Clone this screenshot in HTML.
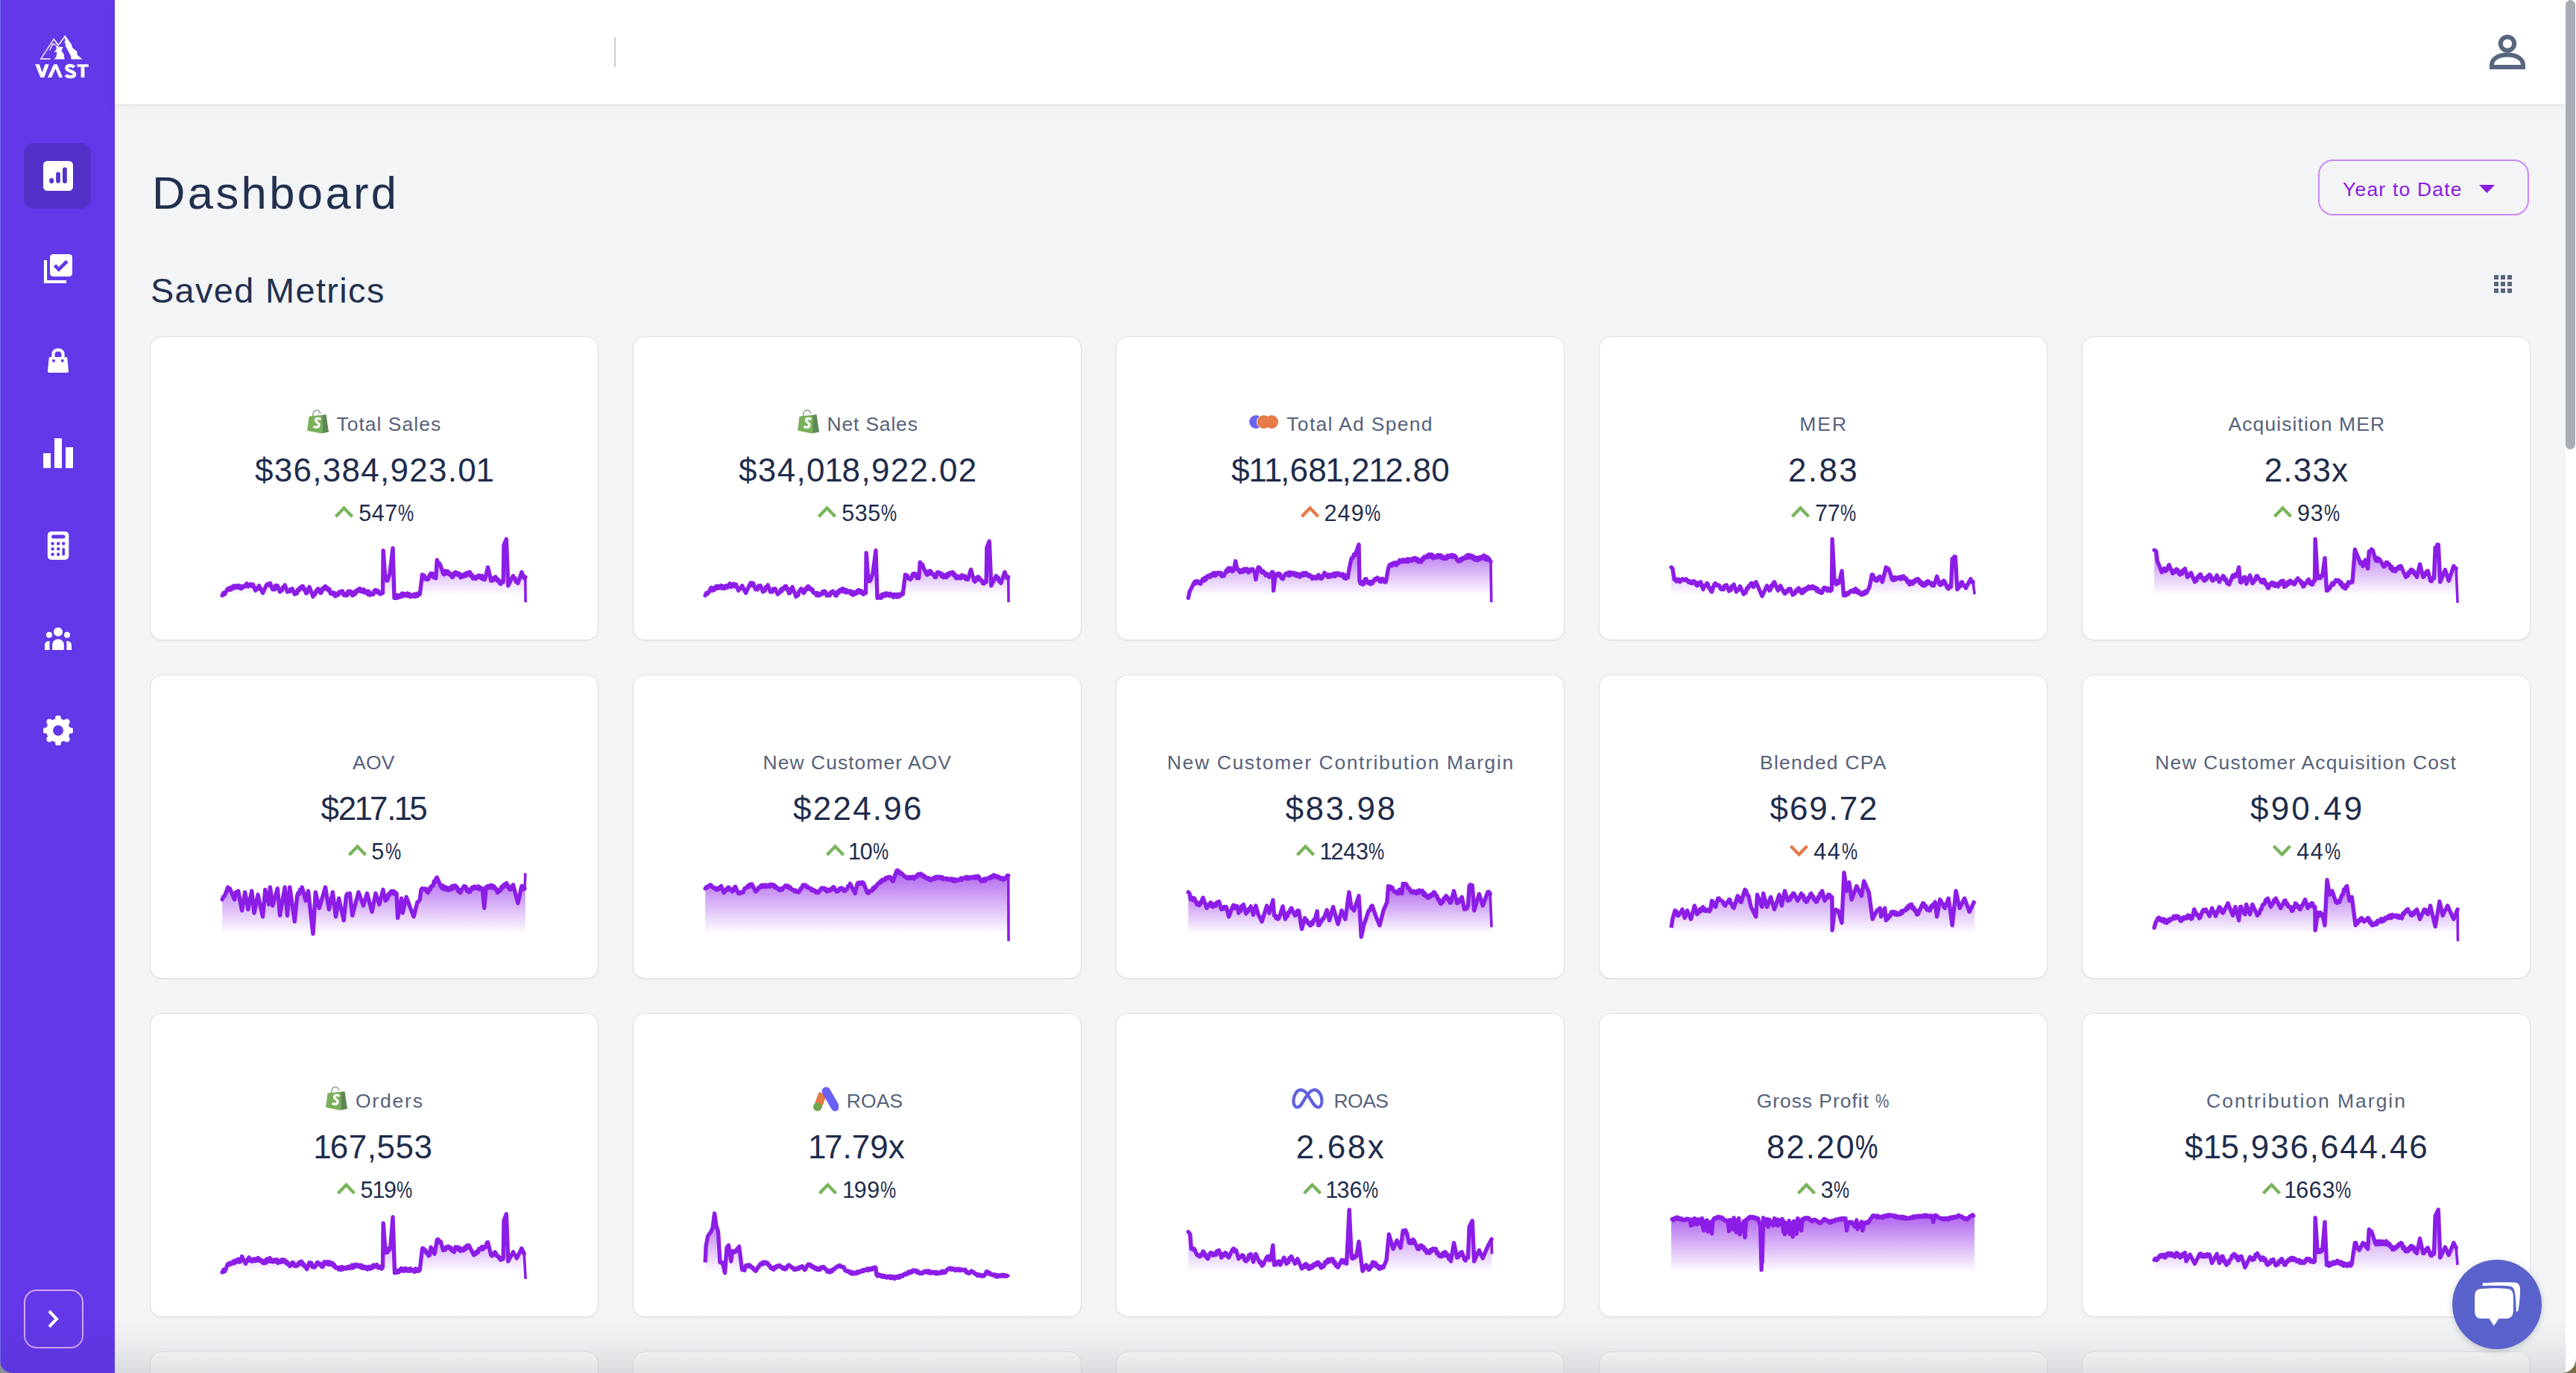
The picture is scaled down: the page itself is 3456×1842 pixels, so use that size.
<!DOCTYPE html><html><head><meta charset="utf-8"><style>
*{box-sizing:border-box;margin:0;padding:0}
html,body{width:3456px;height:1842px;overflow:hidden;background:#f3f4f6;font-family:"Liberation Sans",sans-serif}
.abs{position:absolute}
.sb{position:absolute;left:0;top:0;width:154px;height:1842px;background:#6238e8}
.hdr{position:absolute;left:154px;top:0;width:3288px;height:140px;background:#fff;box-shadow:0 1px 2px rgba(0,0,0,0.08), 0 4px 24px rgba(0,0,0,0.035)}
.card{position:absolute;width:602px;height:408px;background:#fff;border:1.5px solid #dfe1e5;border-radius:16px;box-shadow:0 1px 2px rgba(0,0,0,0.06)}
.row{position:absolute;left:0;width:100%;display:flex;justify-content:center;align-items:center;white-space:nowrap}
.ttl{color:#56627b;font-size:26.5px;letter-spacing:1.2px;line-height:1}
.val{color:#1f2c4c;font-size:44px;letter-spacing:1.05px;line-height:1}
.pct{color:#1f2c4c;font-size:30.5px;letter-spacing:-1px;line-height:1}
</style></head><body>
<div class="sb"></div>
<svg class="abs" style="left:40px;top:40px" width="84" height="70" viewBox="0 0 1648 1373">
<g fill="#fff">
<path d="M265 780 L630 222 L770 400 L745 430 L630 268 L315 752 L540 752 L540 780 Z"/>
<path d="M505 548 L600 350 L700 395 L690 415 L612 385 L525 552 Z"/>
<path d="M760 372 L925 140 L1100 385 L1120 470 L1240 570 L1250 660 L1385 775 L1090 775 L1080 690 L1000 540 L940 430 L935 330 L885 370 L930 290 L920 200 L780 395 Z"/>
<path d="M690 400 L745 440 L880 455 L830 540 L895 640 L915 775 L700 775 L640 775 L700 700 L710 575 L635 595 L700 515 Z"/>
<path d="M140 905 L252 905 L325 1125 L400 905 L505 905 L378 1255 L282 1255 Z"/>
<path d="M470 1255 L632 905 L720 905 L865 1255 L770 1255 L676 1025 L572 1255 Z"/>
<path d="M1245 905 L1545 905 L1545 975 L1440 975 L1440 1255 L1345 1255 L1345 975 L1245 975 Z"/>
</g>
<path d="M1165 985 C1120 930 975 920 968 1010 C962 1095 1175 1075 1178 1170 C1180 1255 1000 1250 945 1190" fill="none" stroke="#fff" stroke-width="88"/>
</svg>
<div class="abs" style="left:32px;top:192px;width:90px;height:88px;border-radius:13px;background:#5331c9"></div>
<svg class="abs" style="left:58px;top:216px" width="40" height="40" viewBox="0 0 40 40"><rect x="0" y="0" width="40" height="40" rx="5.5" fill="#fff"/><path d="M11.2 26 v1" stroke="#5331c9" stroke-width="6" stroke-linecap="round"/><path d="M20 17.5 v9.5" stroke="#5331c9" stroke-width="5.6" stroke-linecap="round"/><path d="M28.9 11.5 v15.5" stroke="#5331c9" stroke-width="5.8" stroke-linecap="round"/></svg>
<svg class="abs" style="left:56px;top:338px" width="44" height="44" viewBox="0 0 44 44"><path d="M5 11 V40 H33" fill="none" stroke="#fff" stroke-width="4.2"/><rect x="11" y="3" width="30" height="30" rx="4.5" fill="#fff"/><path d="M17.5 18 L22.8 23.5 L34 12.5" fill="none" stroke="#6238e8" stroke-width="4.6"/></svg>
<svg class="abs" style="left:62px;top:466px" width="32" height="36" viewBox="0 0 32 36"><path d="M9.5 15 V9 C9.5 1.5 22.5 1.5 22.5 9 V15" fill="none" stroke="#fff" stroke-width="4.2"/><path d="M5 13 H27 Q28 13 28.3 14 L30 32 Q30 34 28 34 H4 Q2 34 2 32 L3.7 14 Q4 13 5 13 Z" fill="#fff"/><circle cx="10" cy="18" r="2" fill="#6238e8"/><circle cx="21.7" cy="18" r="2" fill="#6238e8"/></svg>
<div class="abs" style="left:58px;top:608px;width:10.3px;height:20px;background:#fff"></div><div class="abs" style="left:73px;top:588px;width:10.2px;height:40px;background:#fff"></div><div class="abs" style="left:88px;top:600.3px;width:10.2px;height:27.7px;background:#fff"></div>
<svg class="abs" style="left:63px;top:712px" width="30" height="40" viewBox="0 0 30 40"><rect x="0.8" y="1" width="28.5" height="38" rx="5" fill="#fff"/><rect x="6" y="5.5" width="18.5" height="5" rx="2.5" fill="#6238e8"/><g fill="#6238e8"><circle cx="7.6" cy="17.3" r="2.2"/><circle cx="15.2" cy="17.3" r="2.2"/><circle cx="22.2" cy="17.3" r="2.2"/><circle cx="7.6" cy="24.4" r="2.2"/><circle cx="15.2" cy="24.4" r="2.2"/><circle cx="7.6" cy="31.7" r="2.2"/><circle cx="15.2" cy="31.7" r="2.2"/><rect x="20.4" y="23" width="3.6" height="10.6" rx="1.8"/></g></svg>
<svg class="abs" style="left:58px;top:838px" width="40" height="36" viewBox="0 0 40 36"><g fill="#fff"><circle cx="20" cy="9.7" r="6"/><circle cx="8" cy="13.8" r="4"/><circle cx="32" cy="13.8" r="4"/><path d="M12.2 34 V27 C12.2 17 27.8 17 27.8 27 V34 Z"/><path d="M2 34 V28 C2 24 4.5 22 8.7 22 C8.7 22 8.3 26 8.7 34 Z"/><path d="M38 34 V28 C38 24 35.5 22 31.3 22 C31.3 22 31.7 26 31.3 34 Z"/></g></svg>
<svg class="abs" style="left:58px;top:960px" width="40" height="40" viewBox="0 0 40 40"><g fill="#fff"><circle cx="20" cy="20" r="16"/><circle cx="20.00" cy="3.60" r="4.0"/><circle cx="31.60" cy="8.40" r="4.0"/><circle cx="36.40" cy="20.00" r="4.0"/><circle cx="31.60" cy="31.60" r="4.0"/><circle cx="20.00" cy="36.40" r="4.0"/><circle cx="8.40" cy="31.60" r="4.0"/><circle cx="3.60" cy="20.00" r="4.0"/><circle cx="8.40" cy="8.40" r="4.0"/></g><circle cx="20" cy="20" r="7" fill="#6238e8"/></svg>
<div class="abs" style="left:32px;top:1730px;width:80px;height:79px;border:2px solid #d6a6f4;border-radius:17px"></div>
<svg class="abs" style="left:62px;top:1756px" width="20" height="28" viewBox="0 0 20 28"><path d="M4 3 L14 13.5 L4 24" fill="none" stroke="#fff" stroke-width="4"/></svg>
<div class="hdr"></div>
<div class="abs" style="left:824px;top:50px;width:2px;height:40px;background:#c9cdd2"></div>
<svg class="abs" style="left:3336px;top:42.5px" width="56" height="54" viewBox="0 0 56 54"><circle cx="28" cy="15.6" r="9.2" fill="none" stroke="#5a6680" stroke-width="6"/><path d="M7 47 V44 C7 36 16 30.5 28 30.5 C40 30.5 49 36 49 44 V47 Z" fill="none" stroke="#5a6680" stroke-width="6"/></svg>
<div class="abs" style="left:3442px;top:0;width:14px;height:1842px;background:#fff"></div>
<div class="abs" style="left:3442px;top:0;width:13px;height:603px;background:#a8acb5;border-radius:7px"></div>
<svg class="abs" style="left:3346px;top:369px" width="24" height="24"><g fill="#5a6680"><rect x="0" y="0" width="6" height="6"/><rect x="9" y="0" width="6" height="6"/><rect x="18" y="0" width="6" height="6"/><rect x="0" y="9" width="6" height="6"/><rect x="9" y="9" width="6" height="6"/><rect x="18" y="9" width="6" height="6"/><rect x="0" y="18" width="6" height="6"/><rect x="9" y="18" width="6" height="6"/><rect x="18" y="18" width="6" height="6"/></g></svg>
<div class="abs" style="left:204px;top:227.9px;font-size:61.5px;line-height:1;letter-spacing:3.4px;color:#22304f;white-space:nowrap">Dashboard</div>
<div class="abs" style="left:202px;top:366.9px;font-size:46.8px;line-height:1;letter-spacing:1.4px;color:#22304f;white-space:nowrap">Saved Metrics</div>
<div class="abs" style="left:3110px;top:214px;width:283px;height:75px;border:2px solid #c98af5;border-radius:20px"></div>
<div class="abs" style="left:3143px;top:241.1px;font-size:26.5px;line-height:1;letter-spacing:1.2px;color:#8a1be0;white-space:nowrap">Year to Date</div>
<svg class="abs" style="left:3326px;top:248px" width="21" height="11"><path d="M0 0 L21 0 L10.5 11 Z" fill="#8a1be0"/></svg>
<div class="card" style="left:201px;top:451px">
<div class="abs" style="left:209.7px;top:97px"><svg width="30" height="33" viewBox="7 8 30 33" style="display:block"><path d="M14.6 17 C15 11 17.3 9.3 19.6 9.3 C22 9.3 24 11 24.8 14" fill="none" stroke="#8fa19a" stroke-width="1.6"/><path d="M9.6 17.5 L32.4 15.3 L35.9 38.6 L26.2 40.4 L7.1 36.8 Z" fill="#79b05a"/><path d="M27.7 15.9 L32.4 15.3 L35.9 38.6 L27.9 40.1 Z" fill="#5f8658"/><path d="M25.2 21.8 C23.5 20 18.8 19.8 18.5 22.6 C18.2 25.5 23.2 25.8 23 29.3 C22.8 33 17.8 32.8 15.6 31.2" fill="none" stroke="#fff" stroke-width="3.3"/></svg></div>
<div class="abs ttl" style="left:249.50px;top:103.8px;letter-spacing:1.000px;white-space:nowrap">Total Sales</div>
<div class="abs val" style="left:140.00px;top:156.9px;letter-spacing:1.281px;white-space:nowrap">$36,384,923.0<span style="margin:0 -2.64px 0 -1.58px">1</span></div>
<div class="abs" style="left:245.5px;top:225.0px"><svg width="27" height="20" viewBox="0 0 27 20" style="display:block"><path d="M2.5 16 L13.5 4.5 L24.5 16" fill="none" stroke="#79b45a" stroke-width="4.3" stroke-linecap="butt" stroke-linejoin="miter"/></svg></div>
<div class="abs pct" style="left:279.20px;top:221.2px;letter-spacing:0.600px;white-space:nowrap">547<span style="display:inline-block;transform:scaleX(0.78);transform-origin:0 0;margin-right:-5.97px">%</span></div>
</div>
<div class="card" style="left:849px;top:451px">
<div class="abs" style="left:219.8px;top:97px"><svg width="30" height="33" viewBox="7 8 30 33" style="display:block"><path d="M14.6 17 C15 11 17.3 9.3 19.6 9.3 C22 9.3 24 11 24.8 14" fill="none" stroke="#8fa19a" stroke-width="1.6"/><path d="M9.6 17.5 L32.4 15.3 L35.9 38.6 L26.2 40.4 L7.1 36.8 Z" fill="#79b05a"/><path d="M27.7 15.9 L32.4 15.3 L35.9 38.6 L27.9 40.1 Z" fill="#5f8658"/><path d="M25.2 21.8 C23.5 20 18.8 19.8 18.5 22.6 C18.2 25.5 23.2 25.8 23 29.3 C22.8 33 17.8 32.8 15.6 31.2" fill="none" stroke="#fff" stroke-width="3.3"/></svg></div>
<div class="abs ttl" style="left:259.60px;top:103.8px;letter-spacing:0.800px;white-space:nowrap">Net Sales</div>
<div class="abs val" style="left:141.00px;top:156.9px;letter-spacing:1.358px;white-space:nowrap">$34,0<span style="margin:0 -2.64px 0 -1.58px">1</span>8,922.02</div>
<div class="abs" style="left:245.8px;top:225.0px"><svg width="27" height="20" viewBox="0 0 27 20" style="display:block"><path d="M2.5 16 L13.5 4.5 L24.5 16" fill="none" stroke="#79b45a" stroke-width="4.3" stroke-linecap="butt" stroke-linejoin="miter"/></svg></div>
<div class="abs pct" style="left:279.20px;top:221.2px;letter-spacing:0.533px;white-space:nowrap">535<span style="display:inline-block;transform:scaleX(0.78);transform-origin:0 0;margin-right:-5.97px">%</span></div>
</div>
<div class="card" style="left:1497px;top:451px">
<div class="abs" style="left:177.0px;top:104px"><svg width="40" height="20" viewBox="0 0 40 20" style="display:block"><circle cx="10" cy="10" r="9" fill="#6b62ee"/><circle cx="20.5" cy="10" r="9.3" fill="#e67a48" stroke="#fff" stroke-width="0.8"/><circle cx="31" cy="10" r="9" fill="#e67a48"/></svg></div>
<div class="abs ttl" style="left:228.30px;top:103.8px;letter-spacing:1.308px;white-space:nowrap">Total Ad Spend</div>
<div class="abs val" style="left:154.00px;top:156.9px;letter-spacing:0.281px;white-space:nowrap">$<span style="margin:0 -2.64px 0 -1.58px">1</span><span style="margin:0 -2.64px 0 -1.58px">1</span>,68<span style="margin:0 -2.64px 0 -1.58px">1</span>,2<span style="margin:0 -2.64px 0 -1.58px">1</span>2.80</div>
<div class="abs" style="left:246.2px;top:225.0px"><svg width="27" height="20" viewBox="0 0 27 20" style="display:block"><path d="M2.5 16 L13.5 4.5 L24.5 16" fill="none" stroke="#e8784a" stroke-width="4.3" stroke-linecap="butt" stroke-linejoin="miter"/></svg></div>
<div class="abs pct" style="left:278.40px;top:221.2px;letter-spacing:1.267px;white-space:nowrap">249<span style="display:inline-block;transform:scaleX(0.78);transform-origin:0 0;margin-right:-5.97px">%</span></div>
</div>
<div class="card" style="left:2145px;top:451px">
<div class="abs ttl" style="left:268.20px;top:103.8px;letter-spacing:2.000px;white-space:nowrap">MER</div>
<div class="abs val" style="left:253.00px;top:156.9px;letter-spacing:2.383px;white-space:nowrap">2.83</div>
<div class="abs" style="left:255.5px;top:225.0px"><svg width="27" height="20" viewBox="0 0 27 20" style="display:block"><path d="M2.5 16 L13.5 4.5 L24.5 16" fill="none" stroke="#79b45a" stroke-width="4.3" stroke-linecap="butt" stroke-linejoin="miter"/></svg></div>
<div class="abs pct" style="left:289.00px;top:221.2px;letter-spacing:-0.100px;white-space:nowrap">77<span style="display:inline-block;transform:scaleX(0.78);transform-origin:0 0;margin-right:-5.97px">%</span></div>
</div>
<div class="card" style="left:2793px;top:451px">
<div class="abs ttl" style="left:195.50px;top:103.8px;letter-spacing:1.086px;white-space:nowrap">Acquisition MER</div>
<div class="abs val" style="left:243.70px;top:156.9px;letter-spacing:1.200px;white-space:nowrap">2.33x</div>
<div class="abs" style="left:254.5px;top:225.0px"><svg width="27" height="20" viewBox="0 0 27 20" style="display:block"><path d="M2.5 16 L13.5 4.5 L24.5 16" fill="none" stroke="#79b45a" stroke-width="4.3" stroke-linecap="butt" stroke-linejoin="miter"/></svg></div>
<div class="abs pct" style="left:288.00px;top:221.2px;letter-spacing:0.800px;white-space:nowrap">93<span style="display:inline-block;transform:scaleX(0.78);transform-origin:0 0;margin-right:-5.97px">%</span></div>
</div>
<div class="card" style="left:201px;top:905px">
<div class="abs ttl" style="left:271.10px;top:103.8px;letter-spacing:0.200px;white-space:nowrap">AOV</div>
<div class="abs val" style="left:228.60px;top:156.9px;letter-spacing:-1.283px;white-space:nowrap">$2<span style="margin:0 -2.64px 0 -1.58px">1</span>7.<span style="margin:0 -2.64px 0 -1.58px">1</span>5</div>
<div class="abs" style="left:263.8px;top:225.0px"><svg width="27" height="20" viewBox="0 0 27 20" style="display:block"><path d="M2.5 16 L13.5 4.5 L24.5 16" fill="none" stroke="#79b45a" stroke-width="4.3" stroke-linecap="butt" stroke-linejoin="miter"/></svg></div>
<div class="abs pct" style="left:296.20px;top:221.2px;letter-spacing:1.400px;white-space:nowrap">5<span style="display:inline-block;transform:scaleX(0.78);transform-origin:0 0;margin-right:-5.97px">%</span></div>
</div>
<div class="card" style="left:849px;top:905px">
<div class="abs ttl" style="left:173.60px;top:103.8px;letter-spacing:1.013px;white-space:nowrap">New Customer AOV</div>
<div class="abs val" style="left:214.10px;top:156.9px;letter-spacing:2.217px;white-space:nowrap">$224.96</div>
<div class="abs" style="left:256.5px;top:225.0px"><svg width="27" height="20" viewBox="0 0 27 20" style="display:block"><path d="M2.5 16 L13.5 4.5 L24.5 16" fill="none" stroke="#79b45a" stroke-width="4.3" stroke-linecap="butt" stroke-linejoin="miter"/></svg></div>
<div class="abs pct" style="left:289.00px;top:221.2px;letter-spacing:0.700px;white-space:nowrap"><span style="margin:0 -1.83px 0 -1.10px">1</span>0<span style="display:inline-block;transform:scaleX(0.78);transform-origin:0 0;margin-right:-5.97px">%</span></div>
</div>
<div class="card" style="left:1497px;top:905px">
<div class="abs ttl" style="left:67.80px;top:103.8px;letter-spacing:1.632px;white-space:nowrap">New Customer Contribution Margin</div>
<div class="abs val" style="left:226.40px;top:156.9px;letter-spacing:2.610px;white-space:nowrap">$83.98</div>
<div class="abs" style="left:240.4px;top:225.0px"><svg width="27" height="20" viewBox="0 0 27 20" style="display:block"><path d="M2.5 16 L13.5 4.5 L24.5 16" fill="none" stroke="#79b45a" stroke-width="4.3" stroke-linecap="butt" stroke-linejoin="miter"/></svg></div>
<div class="abs pct" style="left:273.50px;top:221.2px;letter-spacing:-0.150px;white-space:nowrap"><span style="margin:0 -1.83px 0 -1.10px">1</span>243<span style="display:inline-block;transform:scaleX(0.78);transform-origin:0 0;margin-right:-5.97px">%</span></div>
</div>
<div class="card" style="left:2145px;top:905px">
<div class="abs ttl" style="left:215.00px;top:103.8px;letter-spacing:1.220px;white-space:nowrap">Blended CPA</div>
<div class="abs val" style="left:228.60px;top:156.9px;letter-spacing:1.850px;white-space:nowrap">$69.72</div>
<div class="abs" style="left:253.7px;top:225.0px"><svg width="27" height="20" viewBox="0 0 27 20" style="display:block"><path d="M2.5 4 L13.5 15.5 L24.5 4" fill="none" stroke="#e8784a" stroke-width="4.3" stroke-linecap="butt" stroke-linejoin="miter"/></svg></div>
<div class="abs pct" style="left:287.20px;top:221.2px;letter-spacing:1.700px;white-space:nowrap">44<span style="display:inline-block;transform:scaleX(0.78);transform-origin:0 0;margin-right:-5.97px">%</span></div>
</div>
<div class="card" style="left:2793px;top:905px">
<div class="abs ttl" style="left:97.30px;top:103.8px;letter-spacing:1.157px;white-space:nowrap">New Customer Acquisition Cost</div>
<div class="abs val" style="left:225.10px;top:156.9px;letter-spacing:3.130px;white-space:nowrap">$90.49</div>
<div class="abs" style="left:253.7px;top:225.0px"><svg width="27" height="20" viewBox="0 0 27 20" style="display:block"><path d="M2.5 4 L13.5 15.5 L24.5 4" fill="none" stroke="#79b45a" stroke-width="4.3" stroke-linecap="butt" stroke-linejoin="miter"/></svg></div>
<div class="abs pct" style="left:287.20px;top:221.2px;letter-spacing:1.700px;white-space:nowrap">44<span style="display:inline-block;transform:scaleX(0.78);transform-origin:0 0;margin-right:-5.97px">%</span></div>
</div>
<div class="card" style="left:201px;top:1359px">
<div class="abs" style="left:235.0px;top:97px"><svg width="30" height="33" viewBox="7 8 30 33" style="display:block"><path d="M14.6 17 C15 11 17.3 9.3 19.6 9.3 C22 9.3 24 11 24.8 14" fill="none" stroke="#8fa19a" stroke-width="1.6"/><path d="M9.6 17.5 L32.4 15.3 L35.9 38.6 L26.2 40.4 L7.1 36.8 Z" fill="#79b05a"/><path d="M27.7 15.9 L32.4 15.3 L35.9 38.6 L27.9 40.1 Z" fill="#5f8658"/><path d="M25.2 21.8 C23.5 20 18.8 19.8 18.5 22.6 C18.2 25.5 23.2 25.8 23 29.3 C22.8 33 17.8 32.8 15.6 31.2" fill="none" stroke="#fff" stroke-width="3.3"/></svg></div>
<div class="abs ttl" style="left:274.90px;top:103.8px;letter-spacing:1.800px;white-space:nowrap">Orders</div>
<div class="abs val" style="left:219.80px;top:156.9px;letter-spacing:0.550px;white-space:nowrap"><span style="margin:0 -2.64px 0 -1.58px">1</span>67,553</div>
<div class="abs" style="left:248.5px;top:225.0px"><svg width="27" height="20" viewBox="0 0 27 20" style="display:block"><path d="M2.5 16 L13.5 4.5 L24.5 16" fill="none" stroke="#79b45a" stroke-width="4.3" stroke-linecap="butt" stroke-linejoin="miter"/></svg></div>
<div class="abs pct" style="left:281.40px;top:221.2px;letter-spacing:0.267px;white-space:nowrap">5<span style="margin:0 -1.83px 0 -1.10px">1</span>9<span style="display:inline-block;transform:scaleX(0.78);transform-origin:0 0;margin-right:-5.97px">%</span></div>
</div>
<div class="card" style="left:849px;top:1359px">
<div class="abs" style="left:238.7px;top:98px"><svg width="36" height="33" viewBox="1088 1456 36 33" style="display:block"><path d="M1103 1465 L1096 1483" stroke="#e67a48" stroke-width="11" stroke-linecap="butt"/><path d="M1107.4 1462 L1119.4 1483" stroke="#6a5ff5" stroke-width="11.5" stroke-linecap="round"/><circle cx="1095.8" cy="1483" r="5.8" fill="#6ea84f"/></svg></div>
<div class="abs ttl" style="left:285.70px;top:103.8px;letter-spacing:0.133px;white-space:nowrap">ROAS</div>
<div class="abs val" style="left:235.60px;top:156.9px;letter-spacing:0.050px;white-space:nowrap"><span style="margin:0 -2.64px 0 -1.58px">1</span>7.79x</div>
<div class="abs" style="left:247.4px;top:225.0px"><svg width="27" height="20" viewBox="0 0 27 20" style="display:block"><path d="M2.5 16 L13.5 4.5 L24.5 16" fill="none" stroke="#79b45a" stroke-width="4.3" stroke-linecap="butt" stroke-linejoin="miter"/></svg></div>
<div class="abs pct" style="left:281.00px;top:221.2px;letter-spacing:0.667px;white-space:nowrap"><span style="margin:0 -1.83px 0 -1.10px">1</span>99<span style="display:inline-block;transform:scaleX(0.78);transform-origin:0 0;margin-right:-5.97px">%</span></div>
</div>
<div class="card" style="left:1497px;top:1359px">
<div class="abs" style="left:235.2px;top:100px"><svg width="44" height="29" viewBox="0 0 44 29" style="display:block"><path d="M7.6 25.5 C3 25.5 2 19 2.5 15 C3.5 7 8 2.2 12 2.2 C16 2.2 19 5 22 9.5 C26 15.5 30 25.5 35.5 25.5 C39.5 25.5 40.8 20 40.3 15 C39.5 7 35 2.2 30.5 2.2 C26 2.2 22 7 18.5 12.5 C15 18 12 25.5 7.6 25.5 Z" fill="none" stroke="#6060e0" stroke-width="4.2"/></svg></div>
<div class="abs ttl" style="left:291.50px;top:103.8px;letter-spacing:-0.533px;white-space:nowrap">ROAS</div>
<div class="abs val" style="left:240.80px;top:156.9px;letter-spacing:2.600px;white-space:nowrap">2.68x</div>
<div class="abs" style="left:248.5px;top:225.0px"><svg width="27" height="20" viewBox="0 0 27 20" style="display:block"><path d="M2.5 16 L13.5 4.5 L24.5 16" fill="none" stroke="#79b45a" stroke-width="4.3" stroke-linecap="butt" stroke-linejoin="miter"/></svg></div>
<div class="abs pct" style="left:281.40px;top:221.2px;letter-spacing:0.067px;white-space:nowrap"><span style="margin:0 -1.83px 0 -1.10px">1</span>36<span style="display:inline-block;transform:scaleX(0.78);transform-origin:0 0;margin-right:-5.97px">%</span></div>
</div>
<div class="card" style="left:2145px;top:1359px">
<div class="abs ttl" style="left:210.70px;top:103.8px;letter-spacing:0.938px;white-space:nowrap">Gross Profit <span style="display:inline-block;transform:scaleX(0.78);transform-origin:0 0;margin-right:-5.18px">%</span></div>
<div class="abs val" style="left:224.10px;top:156.9px;letter-spacing:1.850px;white-space:nowrap">82.20<span style="display:inline-block;transform:scaleX(0.78);transform-origin:0 0;margin-right:-8.61px">%</span></div>
<div class="abs" style="left:263.8px;top:225.0px"><svg width="27" height="20" viewBox="0 0 27 20" style="display:block"><path d="M2.5 16 L13.5 4.5 L24.5 16" fill="none" stroke="#79b45a" stroke-width="4.3" stroke-linecap="butt" stroke-linejoin="miter"/></svg></div>
<div class="abs pct" style="left:296.70px;top:221.2px;letter-spacing:0.800px;white-space:nowrap">3<span style="display:inline-block;transform:scaleX(0.78);transform-origin:0 0;margin-right:-5.97px">%</span></div>
</div>
<div class="card" style="left:2793px;top:1359px">
<div class="abs ttl" style="left:166.10px;top:103.8px;letter-spacing:1.978px;white-space:nowrap">Contribution Margin</div>
<div class="abs val" style="left:137.00px;top:156.9px;letter-spacing:1.850px;white-space:nowrap">$<span style="margin:0 -2.64px 0 -1.58px">1</span>5,936,644.46</div>
<div class="abs" style="left:239.7px;top:225.0px"><svg width="27" height="20" viewBox="0 0 27 20" style="display:block"><path d="M2.5 16 L13.5 4.5 L24.5 16" fill="none" stroke="#79b45a" stroke-width="4.3" stroke-linecap="butt" stroke-linejoin="miter"/></svg></div>
<div class="abs pct" style="left:271.40px;top:221.2px;letter-spacing:0.700px;white-space:nowrap"><span style="margin:0 -1.83px 0 -1.10px">1</span>663<span style="display:inline-block;transform:scaleX(0.78);transform-origin:0 0;margin-right:-5.97px">%</span></div>
</div>
<svg class="abs" style="left:0;top:0" width="3456" height="1842" viewBox="0 0 3456 1842"><defs><linearGradient id="gf0" gradientUnits="userSpaceOnUse" x1="0" y1="723.2" x2="0" y2="799"><stop offset="0" stop-color="#8c1de6" stop-opacity="0.70"/><stop offset="1" stop-color="#8c1de6" stop-opacity="0"/></linearGradient><linearGradient id="gf1" gradientUnits="userSpaceOnUse" x1="0" y1="726.1" x2="0" y2="799"><stop offset="0" stop-color="#8c1de6" stop-opacity="0.70"/><stop offset="1" stop-color="#8c1de6" stop-opacity="0"/></linearGradient><linearGradient id="gf2" gradientUnits="userSpaceOnUse" x1="0" y1="730.6" x2="0" y2="799"><stop offset="0" stop-color="#8c1de6" stop-opacity="0.70"/><stop offset="1" stop-color="#8c1de6" stop-opacity="0"/></linearGradient><linearGradient id="gf3" gradientUnits="userSpaceOnUse" x1="0" y1="723.2" x2="0" y2="799"><stop offset="0" stop-color="#8c1de6" stop-opacity="0.70"/><stop offset="1" stop-color="#8c1de6" stop-opacity="0"/></linearGradient><linearGradient id="gf4" gradientUnits="userSpaceOnUse" x1="0" y1="723.2" x2="0" y2="799"><stop offset="0" stop-color="#8c1de6" stop-opacity="0.70"/><stop offset="1" stop-color="#8c1de6" stop-opacity="0"/></linearGradient><linearGradient id="gf5" gradientUnits="userSpaceOnUse" x1="0" y1="1171.4" x2="0" y2="1253"><stop offset="0" stop-color="#8c1de6" stop-opacity="0.70"/><stop offset="1" stop-color="#8c1de6" stop-opacity="0"/></linearGradient><linearGradient id="gf6" gradientUnits="userSpaceOnUse" x1="0" y1="1167.6" x2="0" y2="1253"><stop offset="0" stop-color="#8c1de6" stop-opacity="0.70"/><stop offset="1" stop-color="#8c1de6" stop-opacity="0"/></linearGradient><linearGradient id="gf7" gradientUnits="userSpaceOnUse" x1="0" y1="1185.4" x2="0" y2="1253"><stop offset="0" stop-color="#8c1de6" stop-opacity="0.70"/><stop offset="1" stop-color="#8c1de6" stop-opacity="0"/></linearGradient><linearGradient id="gf8" gradientUnits="userSpaceOnUse" x1="0" y1="1170.6" x2="0" y2="1253"><stop offset="0" stop-color="#8c1de6" stop-opacity="0.70"/><stop offset="1" stop-color="#8c1de6" stop-opacity="0"/></linearGradient><linearGradient id="gf9" gradientUnits="userSpaceOnUse" x1="0" y1="1180.5" x2="0" y2="1253"><stop offset="0" stop-color="#8c1de6" stop-opacity="0.70"/><stop offset="1" stop-color="#8c1de6" stop-opacity="0"/></linearGradient><linearGradient id="gf10" gradientUnits="userSpaceOnUse" x1="0" y1="1628.7" x2="0" y2="1707"><stop offset="0" stop-color="#8c1de6" stop-opacity="0.70"/><stop offset="1" stop-color="#8c1de6" stop-opacity="0"/></linearGradient><linearGradient id="gf11" gradientUnits="userSpaceOnUse" x1="0" y1="1627.9" x2="0" y2="1707"><stop offset="0" stop-color="#8c1de6" stop-opacity="0.70"/><stop offset="1" stop-color="#8c1de6" stop-opacity="0"/></linearGradient><linearGradient id="gf12" gradientUnits="userSpaceOnUse" x1="0" y1="1622.9" x2="0" y2="1707"><stop offset="0" stop-color="#8c1de6" stop-opacity="0.70"/><stop offset="1" stop-color="#8c1de6" stop-opacity="0"/></linearGradient><linearGradient id="gf13" gradientUnits="userSpaceOnUse" x1="0" y1="1629.5" x2="0" y2="1707"><stop offset="0" stop-color="#8c1de6" stop-opacity="0.70"/><stop offset="1" stop-color="#8c1de6" stop-opacity="0"/></linearGradient><linearGradient id="gf14" gradientUnits="userSpaceOnUse" x1="0" y1="1622.9" x2="0" y2="1707"><stop offset="0" stop-color="#8c1de6" stop-opacity="0.70"/><stop offset="1" stop-color="#8c1de6" stop-opacity="0"/></linearGradient></defs><path d="M298.2 798.9 L299.9 795.2 L301.5 797.4 L303.2 794.0 L304.8 790.7 L306.1 789.4 L307.4 791.3 L308.8 788.2 L310.1 791.0 L311.4 789.0 L312.7 786.2 L314.0 789.0 L315.3 785.7 L316.7 788.4 L318.0 786.5 L319.3 785.5 L320.6 788.6 L321.9 786.2 L323.3 789.6 L324.6 789.0 L326.2 786.2 L327.9 787.1 L329.5 784.9 L331.2 782.8 L332.8 787.0 L334.4 785.7 L336.1 783.7 L337.7 786.5 L339.4 784.1 L341.0 788.2 L342.7 792.3 L344.3 788.7 L346.0 790.1 L347.6 785.7 L349.3 789.0 L350.9 792.3 L352.6 795.6 L354.2 792.0 L355.8 788.5 L357.5 784.9 L359.1 783.3 L360.8 785.4 L362.4 782.4 L364.1 786.5 L365.7 790.7 L367.0 788.2 L368.4 790.8 L369.7 785.4 L371.0 789.1 L372.3 785.7 L374.0 789.8 L375.6 794.0 L376.9 791.1 L378.2 792.2 L379.5 787.6 L380.9 787.7 L382.2 784.9 L383.8 789.4 L385.5 794.0 L386.8 792.3 L388.1 793.6 L389.4 790.7 L390.7 792.8 L392.1 789.8 L393.7 793.5 L395.3 797.2 L396.8 794.5 L398.2 796.2 L399.6 791.0 L401.0 792.2 L402.4 788.4 L403.8 789.3 L405.2 786.5 L406.5 786.5 L407.9 791.3 L409.2 790.2 L410.5 796.0 L411.8 795.6 L413.5 791.5 L415.1 787.4 L416.7 791.8 L418.4 796.1 L420.0 800.5 L421.4 796.2 L422.7 797.5 L424.0 792.6 L425.3 793.5 L426.6 789.8 L428.3 791.5 L429.9 795.6 L431.2 795.1 L432.6 789.6 L433.9 790.9 L435.2 787.4 L436.5 786.5 L437.9 789.9 L439.2 788.7 L440.6 792.3 L442.0 790.5 L443.4 796.3 L444.7 795.6 L446.0 794.9 L447.4 798.0 L448.7 795.4 L450.0 800.0 L451.3 798.9 L452.6 796.2 L454.0 797.9 L455.3 794.1 L456.6 795.5 L457.9 793.1 L459.5 793.0 L461.2 798.5 L462.8 798.9 L464.2 796.7 L465.5 798.8 L466.8 793.4 L468.1 796.5 L469.4 793.1 L471.1 793.7 L472.7 798.9 L474.1 798.6 L475.5 793.9 L476.8 796.8 L478.2 792.0 L479.6 793.3 L480.9 790.7 L482.4 789.5 L483.8 793.3 L485.2 791.1 L486.6 794.1 L488.0 790.7 L489.4 795.0 L490.8 794.0 L492.2 793.1 L493.6 797.3 L494.9 793.2 L496.3 798.4 L497.7 795.9 L499.1 797.2 L500.7 797.5 L502.3 792.3 L504.0 791.5 L505.6 794.4 L507.3 792.6 L508.9 796.4 L510.5 797.0 L512.0 794.9 L513.5 795.6 L514.2 738.8 L515.5 757.3 L516.8 775.8 L518.2 778.7 L519.6 779.1 L521.3 774.2 L522.9 769.3 L524.3 758.0 L525.7 746.8 L527.0 735.5 L529.0 802.2 L530.3 800.6 L531.6 802.4 L533.0 798.6 L534.3 801.8 L535.6 798.5 L536.9 798.9 L538.2 800.6 L539.5 796.0 L540.9 799.6 L542.2 796.6 L543.5 797.2 L544.9 799.1 L546.3 796.0 L547.7 799.4 L549.1 796.9 L550.6 800.8 L552.0 798.2 L553.4 799.7 L554.8 800.3 L556.2 797.0 L557.6 800.3 L559.0 796.8 L560.4 799.5 L561.8 795.6 L563.3 797.2 L564.9 784.1 L566.5 770.9 L567.9 774.3 L569.2 772.1 L570.5 776.9 L571.8 775.4 L573.1 777.5 L574.8 776.9 L576.4 771.2 L578.1 769.3 L579.4 772.9 L580.7 769.5 L582.0 774.9 L583.3 772.3 L584.7 775.8 L586.3 751.2 L587.9 755.8 L589.6 755.8 L591.2 759.4 L592.9 764.3 L594.5 769.3 L595.8 770.7 L597.2 765.9 L598.5 769.7 L599.8 766.2 L601.1 766.8 L602.8 770.7 L604.4 769.6 L606.0 774.2 L607.7 774.1 L609.3 768.7 L611.0 767.6 L612.4 770.8 L613.7 768.5 L615.1 771.6 L616.5 769.7 L617.8 774.8 L619.2 774.2 L620.6 771.3 L622.0 773.3 L623.5 769.7 L624.9 772.7 L626.3 768.5 L627.7 770.9 L629.1 767.6 L630.4 767.5 L631.7 772.8 L633.0 770.7 L634.4 776.2 L635.7 775.8 L637.1 774.2 L638.4 776.5 L639.8 773.1 L641.2 774.6 L642.5 771.9 L643.9 772.6 L645.2 775.8 L646.5 772.2 L647.9 777.0 L649.2 774.7 L650.5 777.5 L651.9 772.0 L653.2 766.5 L654.6 761.0 L656.0 767.1 L657.4 773.1 L658.7 779.1 L660.0 779.2 L661.4 776.0 L662.7 778.0 L664.0 774.0 L665.3 774.2 L667.0 778.9 L668.6 777.6 L670.2 782.4 L671.9 783.4 L673.5 779.9 L675.2 780.8 L676.0 731.4 L677.7 727.3 L679.3 723.2 L681.8 785.7 L683.1 783.1 L684.4 780.5 L685.7 777.8 L687.0 775.2 L688.4 772.6 L689.7 775.5 L691.0 775.4 L692.3 780.6 L693.6 779.3 L694.9 782.4 L696.6 777.5 L698.2 772.6 L699.9 767.6 L701.5 771.7 L703.2 775.8 L704.8 774.2 L705.1 807.9 L705.1 801 L298.2 801 Z" fill="url(#gf0)"/><path d="M298.2 798.9 L299.9 795.2 L301.5 797.4 L303.2 794.0 L304.8 790.7 L306.1 789.4 L307.4 791.3 L308.8 788.2 L310.1 791.0 L311.4 789.0 L312.7 786.2 L314.0 789.0 L315.3 785.7 L316.7 788.4 L318.0 786.5 L319.3 785.5 L320.6 788.6 L321.9 786.2 L323.3 789.6 L324.6 789.0 L326.2 786.2 L327.9 787.1 L329.5 784.9 L331.2 782.8 L332.8 787.0 L334.4 785.7 L336.1 783.7 L337.7 786.5 L339.4 784.1 L341.0 788.2 L342.7 792.3 L344.3 788.7 L346.0 790.1 L347.6 785.7 L349.3 789.0 L350.9 792.3 L352.6 795.6 L354.2 792.0 L355.8 788.5 L357.5 784.9 L359.1 783.3 L360.8 785.4 L362.4 782.4 L364.1 786.5 L365.7 790.7 L367.0 788.2 L368.4 790.8 L369.7 785.4 L371.0 789.1 L372.3 785.7 L374.0 789.8 L375.6 794.0 L376.9 791.1 L378.2 792.2 L379.5 787.6 L380.9 787.7 L382.2 784.9 L383.8 789.4 L385.5 794.0 L386.8 792.3 L388.1 793.6 L389.4 790.7 L390.7 792.8 L392.1 789.8 L393.7 793.5 L395.3 797.2 L396.8 794.5 L398.2 796.2 L399.6 791.0 L401.0 792.2 L402.4 788.4 L403.8 789.3 L405.2 786.5 L406.5 786.5 L407.9 791.3 L409.2 790.2 L410.5 796.0 L411.8 795.6 L413.5 791.5 L415.1 787.4 L416.7 791.8 L418.4 796.1 L420.0 800.5 L421.4 796.2 L422.7 797.5 L424.0 792.6 L425.3 793.5 L426.6 789.8 L428.3 791.5 L429.9 795.6 L431.2 795.1 L432.6 789.6 L433.9 790.9 L435.2 787.4 L436.5 786.5 L437.9 789.9 L439.2 788.7 L440.6 792.3 L442.0 790.5 L443.4 796.3 L444.7 795.6 L446.0 794.9 L447.4 798.0 L448.7 795.4 L450.0 800.0 L451.3 798.9 L452.6 796.2 L454.0 797.9 L455.3 794.1 L456.6 795.5 L457.9 793.1 L459.5 793.0 L461.2 798.5 L462.8 798.9 L464.2 796.7 L465.5 798.8 L466.8 793.4 L468.1 796.5 L469.4 793.1 L471.1 793.7 L472.7 798.9 L474.1 798.6 L475.5 793.9 L476.8 796.8 L478.2 792.0 L479.6 793.3 L480.9 790.7 L482.4 789.5 L483.8 793.3 L485.2 791.1 L486.6 794.1 L488.0 790.7 L489.4 795.0 L490.8 794.0 L492.2 793.1 L493.6 797.3 L494.9 793.2 L496.3 798.4 L497.7 795.9 L499.1 797.2 L500.7 797.5 L502.3 792.3 L504.0 791.5 L505.6 794.4 L507.3 792.6 L508.9 796.4 L510.5 797.0 L512.0 794.9 L513.5 795.6 L514.2 738.8 L515.5 757.3 L516.8 775.8 L518.2 778.7 L519.6 779.1 L521.3 774.2 L522.9 769.3 L524.3 758.0 L525.7 746.8 L527.0 735.5 L529.0 802.2 L530.3 800.6 L531.6 802.4 L533.0 798.6 L534.3 801.8 L535.6 798.5 L536.9 798.9 L538.2 800.6 L539.5 796.0 L540.9 799.6 L542.2 796.6 L543.5 797.2 L544.9 799.1 L546.3 796.0 L547.7 799.4 L549.1 796.9 L550.6 800.8 L552.0 798.2 L553.4 799.7 L554.8 800.3 L556.2 797.0 L557.6 800.3 L559.0 796.8 L560.4 799.5 L561.8 795.6 L563.3 797.2 L564.9 784.1 L566.5 770.9 L567.9 774.3 L569.2 772.1 L570.5 776.9 L571.8 775.4 L573.1 777.5 L574.8 776.9 L576.4 771.2 L578.1 769.3 L579.4 772.9 L580.7 769.5 L582.0 774.9 L583.3 772.3 L584.7 775.8 L586.3 751.2 L587.9 755.8 L589.6 755.8 L591.2 759.4 L592.9 764.3 L594.5 769.3 L595.8 770.7 L597.2 765.9 L598.5 769.7 L599.8 766.2 L601.1 766.8 L602.8 770.7 L604.4 769.6 L606.0 774.2 L607.7 774.1 L609.3 768.7 L611.0 767.6 L612.4 770.8 L613.7 768.5 L615.1 771.6 L616.5 769.7 L617.8 774.8 L619.2 774.2 L620.6 771.3 L622.0 773.3 L623.5 769.7 L624.9 772.7 L626.3 768.5 L627.7 770.9 L629.1 767.6 L630.4 767.5 L631.7 772.8 L633.0 770.7 L634.4 776.2 L635.7 775.8 L637.1 774.2 L638.4 776.5 L639.8 773.1 L641.2 774.6 L642.5 771.9 L643.9 772.6 L645.2 775.8 L646.5 772.2 L647.9 777.0 L649.2 774.7 L650.5 777.5 L651.9 772.0 L653.2 766.5 L654.6 761.0 L656.0 767.1 L657.4 773.1 L658.7 779.1 L660.0 779.2 L661.4 776.0 L662.7 778.0 L664.0 774.0 L665.3 774.2 L667.0 778.9 L668.6 777.6 L670.2 782.4 L671.9 783.4 L673.5 779.9 L675.2 780.8 L676.0 731.4 L677.7 727.3 L679.3 723.2 L681.8 785.7 L683.1 783.1 L684.4 780.5 L685.7 777.8 L687.0 775.2 L688.4 772.6 L689.7 775.5 L691.0 775.4 L692.3 780.6 L693.6 779.3 L694.9 782.4 L696.6 777.5 L698.2 772.6 L699.9 767.6 L701.5 771.7 L703.2 775.8 L704.8 774.2" fill="none" stroke="#8c1de6" stroke-width="5.4" stroke-linejoin="round" stroke-linecap="round"/><path d="M704.8 774.2 L705.1 807.9" fill="none" stroke="#8c1de6" stroke-width="3.6" stroke-linecap="butt"/><path d="M946.2 798.9 L947.9 795.2 L949.5 796.4 L951.2 794.0 L952.8 790.7 L954.1 788.3 L955.4 792.2 L956.8 788.8 L958.1 791.6 L959.4 789.0 L960.7 786.5 L962.0 789.4 L963.3 786.2 L964.7 788.8 L966.0 786.5 L967.3 785.6 L968.6 789.2 L969.9 786.3 L971.3 789.3 L972.6 789.0 L974.2 785.7 L975.9 788.2 L977.5 784.9 L979.2 782.9 L980.8 787.4 L982.4 785.7 L984.1 783.3 L985.7 786.6 L987.4 784.1 L989.0 788.2 L990.7 792.3 L992.3 789.1 L994.0 789.5 L995.6 785.7 L997.3 789.0 L998.9 792.3 L1000.6 795.6 L1002.2 792.0 L1003.8 788.5 L1005.5 784.9 L1007.1 781.9 L1008.8 785.5 L1010.4 782.4 L1012.1 786.5 L1013.7 790.7 L1015.0 788.9 L1016.4 790.9 L1017.7 785.9 L1019.0 788.1 L1020.3 785.7 L1022.0 789.8 L1023.6 794.0 L1024.9 791.2 L1026.2 792.5 L1027.5 787.4 L1028.9 788.4 L1030.2 784.9 L1031.8 789.4 L1033.5 794.0 L1034.8 792.3 L1036.1 794.0 L1037.4 790.1 L1038.7 791.9 L1040.1 789.8 L1041.7 793.5 L1043.3 797.2 L1044.8 794.7 L1046.2 795.0 L1047.6 790.5 L1049.0 792.9 L1050.4 788.9 L1051.8 789.8 L1053.2 786.5 L1054.5 786.3 L1055.9 791.2 L1057.2 789.7 L1058.5 795.9 L1059.8 795.6 L1061.5 791.5 L1063.1 787.4 L1064.7 791.8 L1066.4 796.1 L1068.0 800.5 L1069.4 796.8 L1070.7 798.6 L1072.0 793.0 L1073.3 792.8 L1074.6 789.8 L1076.3 791.4 L1077.9 795.6 L1079.2 794.8 L1080.6 789.7 L1081.9 791.1 L1083.2 787.0 L1084.5 786.5 L1085.9 790.2 L1087.2 788.8 L1088.6 791.9 L1090.0 791.0 L1091.4 795.4 L1092.7 795.6 L1094.0 795.5 L1095.4 798.8 L1096.7 795.4 L1098.0 799.0 L1099.3 798.9 L1100.6 796.8 L1102.0 797.5 L1103.3 793.9 L1104.6 796.1 L1105.9 793.1 L1107.5 793.9 L1109.2 799.1 L1110.8 798.9 L1112.2 796.9 L1113.5 798.8 L1114.8 794.3 L1116.1 795.2 L1117.4 793.1 L1119.1 794.9 L1120.7 798.9 L1122.1 799.2 L1123.5 793.9 L1124.8 795.7 L1126.2 791.7 L1127.6 793.6 L1128.9 790.7 L1130.4 789.6 L1131.8 793.6 L1133.2 790.9 L1134.6 794.8 L1136.0 791.7 L1137.4 794.9 L1138.8 794.0 L1140.2 792.9 L1141.6 796.7 L1142.9 793.7 L1144.3 798.2 L1145.7 794.4 L1147.1 797.2 L1148.7 796.3 L1150.3 792.4 L1152.0 791.5 L1153.6 795.1 L1155.3 792.7 L1156.9 796.4 L1158.5 797.3 L1160.0 793.7 L1161.5 795.6 L1162.2 741.8 L1163.5 758.8 L1164.8 775.8 L1166.2 779.7 L1167.6 779.1 L1169.3 774.2 L1170.9 769.3 L1172.3 759.0 L1173.7 748.7 L1175.0 738.5 L1177.0 802.2 L1178.3 800.8 L1179.6 802.0 L1181.0 799.7 L1182.3 802.2 L1183.6 797.3 L1184.9 798.9 L1186.2 799.7 L1187.5 796.0 L1188.9 799.0 L1190.2 796.1 L1191.5 797.2 L1192.9 799.2 L1194.3 796.3 L1195.7 799.2 L1197.1 797.8 L1198.6 801.2 L1200.0 797.3 L1201.4 799.7 L1202.8 800.9 L1204.2 797.2 L1205.6 800.7 L1207.0 797.5 L1208.4 799.1 L1209.8 795.7 L1211.3 797.2 L1212.9 784.1 L1214.5 770.9 L1215.9 774.0 L1217.2 772.1 L1218.5 775.8 L1219.8 775.3 L1221.1 777.5 L1222.8 775.9 L1224.4 770.2 L1226.1 769.3 L1227.4 772.0 L1228.7 770.1 L1230.0 775.5 L1231.3 773.0 L1232.7 775.8 L1234.3 754.1 L1235.9 758.0 L1237.6 757.4 L1239.2 762.3 L1240.9 765.8 L1242.5 769.3 L1243.8 771.1 L1245.2 766.8 L1246.5 770.0 L1247.8 765.8 L1249.1 766.8 L1250.8 770.2 L1252.4 770.1 L1254.0 774.2 L1255.7 774.3 L1257.3 767.9 L1259.0 767.6 L1260.4 769.8 L1261.7 768.9 L1263.1 773.2 L1264.5 770.2 L1265.8 774.8 L1267.2 774.2 L1268.6 771.3 L1270.0 774.5 L1271.5 769.4 L1272.9 772.0 L1274.3 768.5 L1275.7 769.5 L1277.1 767.6 L1278.4 767.6 L1279.7 772.1 L1281.0 770.3 L1282.4 775.6 L1283.7 775.8 L1285.1 773.2 L1286.4 775.5 L1287.8 773.3 L1289.2 775.8 L1290.5 771.5 L1291.9 772.6 L1293.2 774.8 L1294.5 772.8 L1295.9 776.9 L1297.2 774.8 L1298.5 777.5 L1299.9 773.0 L1301.2 768.5 L1302.6 764.0 L1304.0 769.0 L1305.4 774.1 L1306.7 779.1 L1308.0 780.4 L1309.4 775.6 L1310.7 778.1 L1312.0 773.7 L1313.3 774.2 L1315.0 778.3 L1316.6 778.0 L1318.2 782.4 L1319.9 783.0 L1321.5 779.7 L1323.2 780.8 L1324.0 734.4 L1325.7 730.2 L1327.3 726.1 L1329.8 785.7 L1331.1 783.1 L1332.4 780.5 L1333.7 777.8 L1335.0 775.2 L1336.4 772.6 L1337.7 776.7 L1339.0 774.5 L1340.3 779.8 L1341.6 779.5 L1342.9 782.4 L1344.6 777.5 L1346.2 772.6 L1347.9 767.6 L1349.5 771.7 L1351.2 775.8 L1352.8 774.2 L1353.1 807.9 L1353.1 801 L946.2 801 Z" fill="url(#gf1)"/><path d="M946.2 798.9 L947.9 795.2 L949.5 796.4 L951.2 794.0 L952.8 790.7 L954.1 788.3 L955.4 792.2 L956.8 788.8 L958.1 791.6 L959.4 789.0 L960.7 786.5 L962.0 789.4 L963.3 786.2 L964.7 788.8 L966.0 786.5 L967.3 785.6 L968.6 789.2 L969.9 786.3 L971.3 789.3 L972.6 789.0 L974.2 785.7 L975.9 788.2 L977.5 784.9 L979.2 782.9 L980.8 787.4 L982.4 785.7 L984.1 783.3 L985.7 786.6 L987.4 784.1 L989.0 788.2 L990.7 792.3 L992.3 789.1 L994.0 789.5 L995.6 785.7 L997.3 789.0 L998.9 792.3 L1000.6 795.6 L1002.2 792.0 L1003.8 788.5 L1005.5 784.9 L1007.1 781.9 L1008.8 785.5 L1010.4 782.4 L1012.1 786.5 L1013.7 790.7 L1015.0 788.9 L1016.4 790.9 L1017.7 785.9 L1019.0 788.1 L1020.3 785.7 L1022.0 789.8 L1023.6 794.0 L1024.9 791.2 L1026.2 792.5 L1027.5 787.4 L1028.9 788.4 L1030.2 784.9 L1031.8 789.4 L1033.5 794.0 L1034.8 792.3 L1036.1 794.0 L1037.4 790.1 L1038.7 791.9 L1040.1 789.8 L1041.7 793.5 L1043.3 797.2 L1044.8 794.7 L1046.2 795.0 L1047.6 790.5 L1049.0 792.9 L1050.4 788.9 L1051.8 789.8 L1053.2 786.5 L1054.5 786.3 L1055.9 791.2 L1057.2 789.7 L1058.5 795.9 L1059.8 795.6 L1061.5 791.5 L1063.1 787.4 L1064.7 791.8 L1066.4 796.1 L1068.0 800.5 L1069.4 796.8 L1070.7 798.6 L1072.0 793.0 L1073.3 792.8 L1074.6 789.8 L1076.3 791.4 L1077.9 795.6 L1079.2 794.8 L1080.6 789.7 L1081.9 791.1 L1083.2 787.0 L1084.5 786.5 L1085.9 790.2 L1087.2 788.8 L1088.6 791.9 L1090.0 791.0 L1091.4 795.4 L1092.7 795.6 L1094.0 795.5 L1095.4 798.8 L1096.7 795.4 L1098.0 799.0 L1099.3 798.9 L1100.6 796.8 L1102.0 797.5 L1103.3 793.9 L1104.6 796.1 L1105.9 793.1 L1107.5 793.9 L1109.2 799.1 L1110.8 798.9 L1112.2 796.9 L1113.5 798.8 L1114.8 794.3 L1116.1 795.2 L1117.4 793.1 L1119.1 794.9 L1120.7 798.9 L1122.1 799.2 L1123.5 793.9 L1124.8 795.7 L1126.2 791.7 L1127.6 793.6 L1128.9 790.7 L1130.4 789.6 L1131.8 793.6 L1133.2 790.9 L1134.6 794.8 L1136.0 791.7 L1137.4 794.9 L1138.8 794.0 L1140.2 792.9 L1141.6 796.7 L1142.9 793.7 L1144.3 798.2 L1145.7 794.4 L1147.1 797.2 L1148.7 796.3 L1150.3 792.4 L1152.0 791.5 L1153.6 795.1 L1155.3 792.7 L1156.9 796.4 L1158.5 797.3 L1160.0 793.7 L1161.5 795.6 L1162.2 741.8 L1163.5 758.8 L1164.8 775.8 L1166.2 779.7 L1167.6 779.1 L1169.3 774.2 L1170.9 769.3 L1172.3 759.0 L1173.7 748.7 L1175.0 738.5 L1177.0 802.2 L1178.3 800.8 L1179.6 802.0 L1181.0 799.7 L1182.3 802.2 L1183.6 797.3 L1184.9 798.9 L1186.2 799.7 L1187.5 796.0 L1188.9 799.0 L1190.2 796.1 L1191.5 797.2 L1192.9 799.2 L1194.3 796.3 L1195.7 799.2 L1197.1 797.8 L1198.6 801.2 L1200.0 797.3 L1201.4 799.7 L1202.8 800.9 L1204.2 797.2 L1205.6 800.7 L1207.0 797.5 L1208.4 799.1 L1209.8 795.7 L1211.3 797.2 L1212.9 784.1 L1214.5 770.9 L1215.9 774.0 L1217.2 772.1 L1218.5 775.8 L1219.8 775.3 L1221.1 777.5 L1222.8 775.9 L1224.4 770.2 L1226.1 769.3 L1227.4 772.0 L1228.7 770.1 L1230.0 775.5 L1231.3 773.0 L1232.7 775.8 L1234.3 754.1 L1235.9 758.0 L1237.6 757.4 L1239.2 762.3 L1240.9 765.8 L1242.5 769.3 L1243.8 771.1 L1245.2 766.8 L1246.5 770.0 L1247.8 765.8 L1249.1 766.8 L1250.8 770.2 L1252.4 770.1 L1254.0 774.2 L1255.7 774.3 L1257.3 767.9 L1259.0 767.6 L1260.4 769.8 L1261.7 768.9 L1263.1 773.2 L1264.5 770.2 L1265.8 774.8 L1267.2 774.2 L1268.6 771.3 L1270.0 774.5 L1271.5 769.4 L1272.9 772.0 L1274.3 768.5 L1275.7 769.5 L1277.1 767.6 L1278.4 767.6 L1279.7 772.1 L1281.0 770.3 L1282.4 775.6 L1283.7 775.8 L1285.1 773.2 L1286.4 775.5 L1287.8 773.3 L1289.2 775.8 L1290.5 771.5 L1291.9 772.6 L1293.2 774.8 L1294.5 772.8 L1295.9 776.9 L1297.2 774.8 L1298.5 777.5 L1299.9 773.0 L1301.2 768.5 L1302.6 764.0 L1304.0 769.0 L1305.4 774.1 L1306.7 779.1 L1308.0 780.4 L1309.4 775.6 L1310.7 778.1 L1312.0 773.7 L1313.3 774.2 L1315.0 778.3 L1316.6 778.0 L1318.2 782.4 L1319.9 783.0 L1321.5 779.7 L1323.2 780.8 L1324.0 734.4 L1325.7 730.2 L1327.3 726.1 L1329.8 785.7 L1331.1 783.1 L1332.4 780.5 L1333.7 777.8 L1335.0 775.2 L1336.4 772.6 L1337.7 776.7 L1339.0 774.5 L1340.3 779.8 L1341.6 779.5 L1342.9 782.4 L1344.6 777.5 L1346.2 772.6 L1347.9 767.6 L1349.5 771.7 L1351.2 775.8 L1352.8 774.2" fill="none" stroke="#8c1de6" stroke-width="5.4" stroke-linejoin="round" stroke-linecap="round"/><path d="M1352.8 774.2 L1353.1 807.9" fill="none" stroke="#8c1de6" stroke-width="3.6" stroke-linecap="butt"/><path d="M1594.2 802.2 L1595.9 794.0 L1597.3 791.1 L1598.8 788.2 L1600.2 785.3 L1601.6 782.4 L1603.1 780.2 L1604.5 782.6 L1606.0 779.5 L1607.4 780.0 L1609.0 782.5 L1610.7 783.3 L1612.3 779.1 L1613.7 776.8 L1615.0 779.3 L1616.3 774.9 L1617.6 777.8 L1618.9 775.0 L1620.2 772.7 L1621.6 774.2 L1622.9 771.5 L1624.2 773.8 L1625.5 770.9 L1626.8 769.3 L1628.1 772.2 L1629.5 768.6 L1630.8 772.2 L1632.1 770.1 L1633.7 768.3 L1635.4 768.4 L1636.7 770.8 L1638.0 768.3 L1639.3 773.2 L1640.7 770.5 L1642.0 772.6 L1643.6 768.8 L1645.3 765.1 L1646.6 767.0 L1647.9 762.3 L1649.2 765.8 L1650.5 762.1 L1651.8 763.5 L1653.5 766.6 L1655.1 765.1 L1657.6 752.8 L1660.1 764.3 L1661.7 764.0 L1663.4 767.7 L1665.0 767.6 L1666.3 764.7 L1667.6 766.9 L1669.0 763.2 L1670.3 766.1 L1671.6 763.5 L1673.2 763.2 L1674.9 768.0 L1676.5 766.8 L1677.9 763.9 L1679.3 765.6 L1680.7 763.5 L1683.1 766.8 L1684.8 777.5 L1686.4 769.3 L1688.1 761.0 L1689.7 761.3 L1691.3 764.3 L1693.0 768.0 L1694.6 766.2 L1696.3 768.4 L1697.9 771.9 L1699.6 769.5 L1701.2 772.6 L1702.9 774.2 L1704.5 771.7 L1706.2 767.4 L1707.8 767.6 L1708.6 792.3 L1711.1 770.9 L1712.4 771.8 L1713.7 769.5 L1715.1 772.4 L1716.4 769.4 L1717.7 770.9 L1719.3 775.9 L1721.0 776.7 L1722.6 773.4 L1724.3 770.1 L1725.7 769.3 L1727.1 771.1 L1728.5 768.1 L1729.9 772.2 L1731.3 767.8 L1732.7 771.0 L1734.1 770.1 L1735.5 768.4 L1736.9 771.6 L1738.3 769.3 L1739.6 772.8 L1741.0 769.9 L1742.4 772.6 L1743.8 773.9 L1745.1 770.2 L1746.5 772.3 L1747.9 768.7 L1749.2 771.9 L1750.6 770.1 L1752.0 768.3 L1753.4 771.9 L1754.7 770.3 L1756.1 773.1 L1757.5 771.6 L1758.8 773.4 L1760.5 776.5 L1762.1 773.7 L1763.8 775.8 L1765.1 776.0 L1766.4 773.2 L1767.7 775.8 L1769.0 771.3 L1770.4 772.6 L1772.0 776.3 L1773.7 775.8 L1775.3 772.1 L1776.9 768.4 L1778.6 769.6 L1780.2 772.6 L1781.6 774.1 L1782.9 771.1 L1784.2 774.0 L1785.5 770.8 L1786.8 772.6 L1788.2 773.0 L1789.6 769.4 L1791.1 773.2 L1792.5 769.0 L1793.9 771.4 L1795.3 769.0 L1796.7 769.3 L1798.3 772.2 L1800.0 771.7 L1801.4 770.0 L1802.7 775.2 L1804.1 771.2 L1805.5 776.3 L1806.9 772.6 L1808.2 775.0 L1809.9 764.3 L1811.5 756.5 L1813.2 748.7 L1814.8 748.5 L1816.5 743.9 L1818.1 744.6 L1819.7 739.9 L1821.4 735.2 L1823.0 730.6 L1823.9 779.1 L1825.2 782.7 L1826.6 780.6 L1828.0 784.1 L1829.6 783.7 L1831.3 777.0 L1832.9 776.7 L1834.6 781.8 L1836.2 782.4 L1837.5 780.5 L1838.8 783.7 L1840.2 780.1 L1841.5 782.4 L1842.8 780.0 L1844.4 776.5 L1846.1 777.9 L1847.7 775.0 L1849.4 775.9 L1851.0 780.0 L1852.7 780.5 L1854.3 776.3 L1856.0 777.5 L1857.6 780.9 L1859.3 780.8 L1860.9 771.7 L1862.5 762.7 L1864.2 758.0 L1865.8 756.9 L1867.2 759.0 L1868.5 755.8 L1869.8 757.8 L1871.1 754.7 L1872.4 756.9 L1873.7 758.2 L1875.1 754.2 L1876.4 755.4 L1877.7 751.5 L1879.0 752.8 L1880.3 753.7 L1881.6 751.1 L1883.0 753.5 L1884.3 751.1 L1885.6 752.0 L1886.9 753.7 L1888.2 750.0 L1889.5 753.4 L1890.9 750.1 L1892.2 752.0 L1893.5 752.5 L1894.8 749.6 L1896.1 751.6 L1897.4 748.5 L1898.8 748.7 L1900.1 752.0 L1901.4 749.5 L1902.7 753.8 L1904.0 751.2 L1905.3 753.6 L1906.7 754.0 L1908.0 749.8 L1909.3 750.8 L1910.6 746.9 L1911.9 747.0 L1913.2 748.0 L1914.6 745.3 L1915.9 747.4 L1917.2 743.8 L1918.5 744.6 L1919.8 747.1 L1921.1 743.9 L1922.5 748.8 L1923.8 745.7 L1925.1 747.9 L1926.7 748.1 L1928.4 744.7 L1930.0 744.6 L1931.4 747.1 L1932.8 744.8 L1934.1 748.5 L1935.5 746.5 L1936.9 749.7 L1938.3 749.5 L1939.6 747.4 L1940.9 749.1 L1942.2 745.2 L1943.5 747.6 L1944.8 746.2 L1946.2 744.8 L1947.5 747.1 L1948.8 744.7 L1950.1 747.2 L1951.4 745.4 L1953.1 746.8 L1954.7 751.1 L1956.4 752.8 L1957.7 751.1 L1959.1 752.9 L1960.5 749.4 L1961.9 750.8 L1963.2 748.3 L1964.6 748.7 L1966.0 749.0 L1967.3 745.4 L1968.7 748.4 L1970.1 744.3 L1971.5 747.9 L1972.8 745.4 L1974.2 745.2 L1975.6 749.2 L1976.9 746.7 L1978.3 751.0 L1979.7 747.9 L1981.1 751.2 L1982.4 751.7 L1983.8 748.0 L1985.2 750.3 L1986.5 747.2 L1987.9 749.1 L1989.3 747.0 L1990.7 745.1 L1992.0 750.2 L1993.4 746.4 L1994.8 751.0 L1996.2 748.0 L1997.5 749.5 L2000.0 753.6 L2000.8 807.9 L2000.8 801 L1594.2 801 Z" fill="url(#gf2)"/><path d="M1594.2 802.2 L1595.9 794.0 L1597.3 791.1 L1598.8 788.2 L1600.2 785.3 L1601.6 782.4 L1603.1 780.2 L1604.5 782.6 L1606.0 779.5 L1607.4 780.0 L1609.0 782.5 L1610.7 783.3 L1612.3 779.1 L1613.7 776.8 L1615.0 779.3 L1616.3 774.9 L1617.6 777.8 L1618.9 775.0 L1620.2 772.7 L1621.6 774.2 L1622.9 771.5 L1624.2 773.8 L1625.5 770.9 L1626.8 769.3 L1628.1 772.2 L1629.5 768.6 L1630.8 772.2 L1632.1 770.1 L1633.7 768.3 L1635.4 768.4 L1636.7 770.8 L1638.0 768.3 L1639.3 773.2 L1640.7 770.5 L1642.0 772.6 L1643.6 768.8 L1645.3 765.1 L1646.6 767.0 L1647.9 762.3 L1649.2 765.8 L1650.5 762.1 L1651.8 763.5 L1653.5 766.6 L1655.1 765.1 L1657.6 752.8 L1660.1 764.3 L1661.7 764.0 L1663.4 767.7 L1665.0 767.6 L1666.3 764.7 L1667.6 766.9 L1669.0 763.2 L1670.3 766.1 L1671.6 763.5 L1673.2 763.2 L1674.9 768.0 L1676.5 766.8 L1677.9 763.9 L1679.3 765.6 L1680.7 763.5 L1683.1 766.8 L1684.8 777.5 L1686.4 769.3 L1688.1 761.0 L1689.7 761.3 L1691.3 764.3 L1693.0 768.0 L1694.6 766.2 L1696.3 768.4 L1697.9 771.9 L1699.6 769.5 L1701.2 772.6 L1702.9 774.2 L1704.5 771.7 L1706.2 767.4 L1707.8 767.6 L1708.6 792.3 L1711.1 770.9 L1712.4 771.8 L1713.7 769.5 L1715.1 772.4 L1716.4 769.4 L1717.7 770.9 L1719.3 775.9 L1721.0 776.7 L1722.6 773.4 L1724.3 770.1 L1725.7 769.3 L1727.1 771.1 L1728.5 768.1 L1729.9 772.2 L1731.3 767.8 L1732.7 771.0 L1734.1 770.1 L1735.5 768.4 L1736.9 771.6 L1738.3 769.3 L1739.6 772.8 L1741.0 769.9 L1742.4 772.6 L1743.8 773.9 L1745.1 770.2 L1746.5 772.3 L1747.9 768.7 L1749.2 771.9 L1750.6 770.1 L1752.0 768.3 L1753.4 771.9 L1754.7 770.3 L1756.1 773.1 L1757.5 771.6 L1758.8 773.4 L1760.5 776.5 L1762.1 773.7 L1763.8 775.8 L1765.1 776.0 L1766.4 773.2 L1767.7 775.8 L1769.0 771.3 L1770.4 772.6 L1772.0 776.3 L1773.7 775.8 L1775.3 772.1 L1776.9 768.4 L1778.6 769.6 L1780.2 772.6 L1781.6 774.1 L1782.9 771.1 L1784.2 774.0 L1785.5 770.8 L1786.8 772.6 L1788.2 773.0 L1789.6 769.4 L1791.1 773.2 L1792.5 769.0 L1793.9 771.4 L1795.3 769.0 L1796.7 769.3 L1798.3 772.2 L1800.0 771.7 L1801.4 770.0 L1802.7 775.2 L1804.1 771.2 L1805.5 776.3 L1806.9 772.6 L1808.2 775.0 L1809.9 764.3 L1811.5 756.5 L1813.2 748.7 L1814.8 748.5 L1816.5 743.9 L1818.1 744.6 L1819.7 739.9 L1821.4 735.2 L1823.0 730.6 L1823.9 779.1 L1825.2 782.7 L1826.6 780.6 L1828.0 784.1 L1829.6 783.7 L1831.3 777.0 L1832.9 776.7 L1834.6 781.8 L1836.2 782.4 L1837.5 780.5 L1838.8 783.7 L1840.2 780.1 L1841.5 782.4 L1842.8 780.0 L1844.4 776.5 L1846.1 777.9 L1847.7 775.0 L1849.4 775.9 L1851.0 780.0 L1852.7 780.5 L1854.3 776.3 L1856.0 777.5 L1857.6 780.9 L1859.3 780.8 L1860.9 771.7 L1862.5 762.7 L1864.2 758.0 L1865.8 756.9 L1867.2 759.0 L1868.5 755.8 L1869.8 757.8 L1871.1 754.7 L1872.4 756.9 L1873.7 758.2 L1875.1 754.2 L1876.4 755.4 L1877.7 751.5 L1879.0 752.8 L1880.3 753.7 L1881.6 751.1 L1883.0 753.5 L1884.3 751.1 L1885.6 752.0 L1886.9 753.7 L1888.2 750.0 L1889.5 753.4 L1890.9 750.1 L1892.2 752.0 L1893.5 752.5 L1894.8 749.6 L1896.1 751.6 L1897.4 748.5 L1898.8 748.7 L1900.1 752.0 L1901.4 749.5 L1902.7 753.8 L1904.0 751.2 L1905.3 753.6 L1906.7 754.0 L1908.0 749.8 L1909.3 750.8 L1910.6 746.9 L1911.9 747.0 L1913.2 748.0 L1914.6 745.3 L1915.9 747.4 L1917.2 743.8 L1918.5 744.6 L1919.8 747.1 L1921.1 743.9 L1922.5 748.8 L1923.8 745.7 L1925.1 747.9 L1926.7 748.1 L1928.4 744.7 L1930.0 744.6 L1931.4 747.1 L1932.8 744.8 L1934.1 748.5 L1935.5 746.5 L1936.9 749.7 L1938.3 749.5 L1939.6 747.4 L1940.9 749.1 L1942.2 745.2 L1943.5 747.6 L1944.8 746.2 L1946.2 744.8 L1947.5 747.1 L1948.8 744.7 L1950.1 747.2 L1951.4 745.4 L1953.1 746.8 L1954.7 751.1 L1956.4 752.8 L1957.7 751.1 L1959.1 752.9 L1960.5 749.4 L1961.9 750.8 L1963.2 748.3 L1964.6 748.7 L1966.0 749.0 L1967.3 745.4 L1968.7 748.4 L1970.1 744.3 L1971.5 747.9 L1972.8 745.4 L1974.2 745.2 L1975.6 749.2 L1976.9 746.7 L1978.3 751.0 L1979.7 747.9 L1981.1 751.2 L1982.4 751.7 L1983.8 748.0 L1985.2 750.3 L1986.5 747.2 L1987.9 749.1 L1989.3 747.0 L1990.7 745.1 L1992.0 750.2 L1993.4 746.4 L1994.8 751.0 L1996.2 748.0 L1997.5 749.5 L2000.0 753.6" fill="none" stroke="#8c1de6" stroke-width="5.4" stroke-linejoin="round" stroke-linecap="round"/><path d="M2000.0 753.6 L2000.8 807.9" fill="none" stroke="#8c1de6" stroke-width="3.6" stroke-linecap="butt"/><path d="M2242.2 761.0 L2243.9 762.7 L2246.3 777.5 L2247.7 776.5 L2249.1 779.9 L2250.5 779.1 L2252.1 777.2 L2253.8 780.6 L2255.4 779.1 L2257.0 776.8 L2258.7 777.5 L2260.3 778.5 L2262.0 776.8 L2263.6 778.3 L2265.3 781.2 L2266.9 779.6 L2268.6 782.4 L2270.2 782.5 L2271.9 779.6 L2273.5 780.0 L2275.2 784.1 L2276.8 785.7 L2278.4 781.8 L2280.1 784.4 L2281.7 780.8 L2283.4 785.7 L2285.0 790.7 L2286.7 785.7 L2288.3 785.9 L2290.0 782.4 L2291.3 783.6 L2292.6 788.7 L2293.9 788.5 L2295.2 792.8 L2296.6 794.0 L2298.2 789.0 L2299.8 784.1 L2301.5 782.7 L2303.1 785.3 L2304.8 784.9 L2306.4 785.4 L2308.1 789.5 L2309.7 790.7 L2311.0 788.4 L2312.4 790.6 L2313.7 785.8 L2315.0 787.2 L2316.3 784.9 L2318.0 789.0 L2319.6 793.1 L2320.9 789.1 L2322.2 791.7 L2323.5 786.5 L2324.9 787.3 L2326.2 784.1 L2327.8 789.0 L2329.5 794.0 L2331.1 790.4 L2332.8 791.0 L2334.4 786.5 L2336.1 790.1 L2337.7 793.7 L2339.3 797.2 L2340.8 793.6 L2342.2 795.0 L2343.6 788.9 L2345.0 789.7 L2346.4 785.7 L2347.8 786.5 L2349.2 782.4 L2350.9 782.7 L2352.5 787.4 L2354.2 784.1 L2355.8 780.8 L2357.2 783.9 L2358.6 787.1 L2359.9 790.2 L2361.3 793.4 L2362.7 796.6 L2364.0 799.7 L2365.4 796.9 L2366.7 794.1 L2368.0 791.3 L2369.3 788.5 L2370.6 785.7 L2372.3 789.0 L2373.9 792.3 L2375.2 791.0 L2376.6 785.5 L2377.9 786.5 L2379.2 781.8 L2380.5 780.8 L2382.1 784.6 L2383.8 788.5 L2385.4 792.3 L2387.1 789.0 L2388.7 785.7 L2390.4 789.0 L2392.0 792.3 L2393.7 795.6 L2395.0 796.4 L2396.4 792.7 L2397.8 794.3 L2399.2 790.3 L2400.5 791.7 L2401.9 789.8 L2403.5 794.0 L2405.2 798.1 L2406.6 795.7 L2407.9 796.5 L2409.3 792.0 L2410.7 793.6 L2412.1 789.7 L2413.4 789.0 L2415.1 792.3 L2416.7 795.6 L2418.1 795.8 L2419.5 790.8 L2420.8 793.8 L2422.2 789.4 L2423.6 791.3 L2424.9 788.2 L2426.4 786.8 L2427.8 789.9 L2429.2 787.3 L2430.6 788.9 L2432.0 786.3 L2433.4 789.7 L2434.8 788.2 L2436.2 788.6 L2437.6 793.1 L2438.9 790.1 L2440.3 794.2 L2441.7 792.8 L2443.1 795.6 L2444.7 795.2 L2446.3 789.1 L2448.0 788.2 L2449.3 790.9 L2450.6 789.1 L2451.9 792.7 L2453.3 789.8 L2454.6 792.3 L2456.1 792.8 L2457.5 790.7 L2458.2 723.2 L2459.7 752.8 L2461.2 782.4 L2462.5 780.7 L2463.8 784.0 L2465.1 779.1 L2466.4 782.3 L2467.7 780.8 L2469.4 773.4 L2471.0 766.0 L2473.5 798.9 L2475.0 796.1 L2476.5 798.8 L2478.0 795.3 L2479.4 797.1 L2480.9 795.6 L2482.6 792.6 L2484.2 792.3 L2485.5 793.7 L2486.8 791.2 L2488.2 794.1 L2489.5 789.7 L2490.8 791.5 L2492.1 795.0 L2493.4 792.5 L2494.7 796.5 L2496.1 795.4 L2497.4 798.1 L2498.7 797.9 L2500.1 794.6 L2501.5 796.7 L2502.9 793.1 L2504.2 795.3 L2505.6 792.3 L2508.1 787.4 L2509.7 779.1 L2511.4 770.9 L2512.8 771.1 L2514.2 777.4 L2515.7 775.7 L2517.1 779.1 L2518.8 779.0 L2520.4 774.3 L2522.1 773.4 L2523.7 777.1 L2525.4 780.8 L2527.0 774.2 L2528.7 767.6 L2530.3 761.0 L2531.9 764.3 L2533.6 763.0 L2535.2 766.8 L2536.9 772.1 L2538.5 777.5 L2539.9 778.3 L2541.3 774.6 L2542.6 777.8 L2544.0 774.8 L2545.4 776.3 L2546.8 775.0 L2548.1 774.2 L2549.5 776.8 L2550.9 773.9 L2552.2 776.3 L2553.6 772.8 L2555.0 775.0 L2556.4 777.2 L2557.7 776.2 L2559.1 781.0 L2560.5 779.4 L2561.8 784.2 L2563.2 783.3 L2564.6 780.1 L2566.0 783.2 L2567.5 779.4 L2568.9 780.7 L2570.3 777.4 L2571.7 778.7 L2573.1 776.7 L2574.4 777.6 L2575.7 782.4 L2577.0 780.1 L2578.4 784.7 L2579.7 785.7 L2581.1 782.6 L2582.4 785.7 L2583.8 781.0 L2585.2 783.7 L2586.5 779.5 L2587.9 780.8 L2589.2 782.7 L2590.5 781.8 L2591.9 785.4 L2593.2 782.8 L2594.5 785.7 L2595.9 781.6 L2597.2 777.5 L2598.6 773.4 L2600.3 778.7 L2601.9 784.1 L2603.4 784.8 L2604.9 780.7 L2606.3 783.4 L2607.8 779.1 L2609.3 780.8 L2611.0 784.9 L2612.6 789.0 L2614.2 789.9 L2615.9 785.8 L2617.5 787.4 L2619.2 749.5 L2620.6 750.6 L2621.9 746.8 L2623.3 747.0 L2625.8 790.7 L2627.1 789.5 L2628.4 785.3 L2629.7 786.8 L2631.0 781.3 L2632.4 780.8 L2634.0 785.4 L2635.6 785.1 L2637.3 789.0 L2638.6 786.5 L2639.9 784.1 L2641.2 781.6 L2642.6 779.1 L2643.9 776.7 L2645.5 781.0 L2647.2 780.8 L2649.1 797.2 L2649.1 801 L2242.2 801 Z" fill="url(#gf3)"/><path d="M2242.2 761.0 L2243.9 762.7 L2246.3 777.5 L2247.7 776.5 L2249.1 779.9 L2250.5 779.1 L2252.1 777.2 L2253.8 780.6 L2255.4 779.1 L2257.0 776.8 L2258.7 777.5 L2260.3 778.5 L2262.0 776.8 L2263.6 778.3 L2265.3 781.2 L2266.9 779.6 L2268.6 782.4 L2270.2 782.5 L2271.9 779.6 L2273.5 780.0 L2275.2 784.1 L2276.8 785.7 L2278.4 781.8 L2280.1 784.4 L2281.7 780.8 L2283.4 785.7 L2285.0 790.7 L2286.7 785.7 L2288.3 785.9 L2290.0 782.4 L2291.3 783.6 L2292.6 788.7 L2293.9 788.5 L2295.2 792.8 L2296.6 794.0 L2298.2 789.0 L2299.8 784.1 L2301.5 782.7 L2303.1 785.3 L2304.8 784.9 L2306.4 785.4 L2308.1 789.5 L2309.7 790.7 L2311.0 788.4 L2312.4 790.6 L2313.7 785.8 L2315.0 787.2 L2316.3 784.9 L2318.0 789.0 L2319.6 793.1 L2320.9 789.1 L2322.2 791.7 L2323.5 786.5 L2324.9 787.3 L2326.2 784.1 L2327.8 789.0 L2329.5 794.0 L2331.1 790.4 L2332.8 791.0 L2334.4 786.5 L2336.1 790.1 L2337.7 793.7 L2339.3 797.2 L2340.8 793.6 L2342.2 795.0 L2343.6 788.9 L2345.0 789.7 L2346.4 785.7 L2347.8 786.5 L2349.2 782.4 L2350.9 782.7 L2352.5 787.4 L2354.2 784.1 L2355.8 780.8 L2357.2 783.9 L2358.6 787.1 L2359.9 790.2 L2361.3 793.4 L2362.7 796.6 L2364.0 799.7 L2365.4 796.9 L2366.7 794.1 L2368.0 791.3 L2369.3 788.5 L2370.6 785.7 L2372.3 789.0 L2373.9 792.3 L2375.2 791.0 L2376.6 785.5 L2377.9 786.5 L2379.2 781.8 L2380.5 780.8 L2382.1 784.6 L2383.8 788.5 L2385.4 792.3 L2387.1 789.0 L2388.7 785.7 L2390.4 789.0 L2392.0 792.3 L2393.7 795.6 L2395.0 796.4 L2396.4 792.7 L2397.8 794.3 L2399.2 790.3 L2400.5 791.7 L2401.9 789.8 L2403.5 794.0 L2405.2 798.1 L2406.6 795.7 L2407.9 796.5 L2409.3 792.0 L2410.7 793.6 L2412.1 789.7 L2413.4 789.0 L2415.1 792.3 L2416.7 795.6 L2418.1 795.8 L2419.5 790.8 L2420.8 793.8 L2422.2 789.4 L2423.6 791.3 L2424.9 788.2 L2426.4 786.8 L2427.8 789.9 L2429.2 787.3 L2430.6 788.9 L2432.0 786.3 L2433.4 789.7 L2434.8 788.2 L2436.2 788.6 L2437.6 793.1 L2438.9 790.1 L2440.3 794.2 L2441.7 792.8 L2443.1 795.6 L2444.7 795.2 L2446.3 789.1 L2448.0 788.2 L2449.3 790.9 L2450.6 789.1 L2451.9 792.7 L2453.3 789.8 L2454.6 792.3 L2456.1 792.8 L2457.5 790.7 L2458.2 723.2 L2459.7 752.8 L2461.2 782.4 L2462.5 780.7 L2463.8 784.0 L2465.1 779.1 L2466.4 782.3 L2467.7 780.8 L2469.4 773.4 L2471.0 766.0 L2473.5 798.9 L2475.0 796.1 L2476.5 798.8 L2478.0 795.3 L2479.4 797.1 L2480.9 795.6 L2482.6 792.6 L2484.2 792.3 L2485.5 793.7 L2486.8 791.2 L2488.2 794.1 L2489.5 789.7 L2490.8 791.5 L2492.1 795.0 L2493.4 792.5 L2494.7 796.5 L2496.1 795.4 L2497.4 798.1 L2498.7 797.9 L2500.1 794.6 L2501.5 796.7 L2502.9 793.1 L2504.2 795.3 L2505.6 792.3 L2508.1 787.4 L2509.7 779.1 L2511.4 770.9 L2512.8 771.1 L2514.2 777.4 L2515.7 775.7 L2517.1 779.1 L2518.8 779.0 L2520.4 774.3 L2522.1 773.4 L2523.7 777.1 L2525.4 780.8 L2527.0 774.2 L2528.7 767.6 L2530.3 761.0 L2531.9 764.3 L2533.6 763.0 L2535.2 766.8 L2536.9 772.1 L2538.5 777.5 L2539.9 778.3 L2541.3 774.6 L2542.6 777.8 L2544.0 774.8 L2545.4 776.3 L2546.8 775.0 L2548.1 774.2 L2549.5 776.8 L2550.9 773.9 L2552.2 776.3 L2553.6 772.8 L2555.0 775.0 L2556.4 777.2 L2557.7 776.2 L2559.1 781.0 L2560.5 779.4 L2561.8 784.2 L2563.2 783.3 L2564.6 780.1 L2566.0 783.2 L2567.5 779.4 L2568.9 780.7 L2570.3 777.4 L2571.7 778.7 L2573.1 776.7 L2574.4 777.6 L2575.7 782.4 L2577.0 780.1 L2578.4 784.7 L2579.7 785.7 L2581.1 782.6 L2582.4 785.7 L2583.8 781.0 L2585.2 783.7 L2586.5 779.5 L2587.9 780.8 L2589.2 782.7 L2590.5 781.8 L2591.9 785.4 L2593.2 782.8 L2594.5 785.7 L2595.9 781.6 L2597.2 777.5 L2598.6 773.4 L2600.3 778.7 L2601.9 784.1 L2603.4 784.8 L2604.9 780.7 L2606.3 783.4 L2607.8 779.1 L2609.3 780.8 L2611.0 784.9 L2612.6 789.0 L2614.2 789.9 L2615.9 785.8 L2617.5 787.4 L2619.2 749.5 L2620.6 750.6 L2621.9 746.8 L2623.3 747.0 L2625.8 790.7 L2627.1 789.5 L2628.4 785.3 L2629.7 786.8 L2631.0 781.3 L2632.4 780.8 L2634.0 785.4 L2635.6 785.1 L2637.3 789.0 L2638.6 786.5 L2639.9 784.1 L2641.2 781.6 L2642.6 779.1 L2643.9 776.7 L2645.5 781.0 L2647.2 780.8" fill="none" stroke="#8c1de6" stroke-width="5.4" stroke-linejoin="round" stroke-linecap="round"/><path d="M2647.2 780.8 L2649.1 797.2" fill="none" stroke="#8c1de6" stroke-width="3.6" stroke-linecap="butt"/><path d="M2890.2 738.0 L2892.7 739.6 L2894.3 752.8 L2896.8 758.6 L2898.5 763.1 L2900.1 767.6 L2901.8 763.7 L2903.4 762.7 L2905.0 766.3 L2906.7 765.1 L2908.3 761.4 L2910.0 757.7 L2911.6 761.6 L2913.3 765.4 L2914.9 769.3 L2916.6 765.6 L2918.2 767.3 L2919.9 763.5 L2921.5 764.4 L2923.2 769.5 L2924.8 770.9 L2926.1 767.1 L2927.4 769.8 L2928.7 764.9 L2930.1 766.1 L2931.4 762.7 L2933.0 768.4 L2934.7 774.2 L2936.3 770.4 L2938.0 772.3 L2939.6 768.4 L2941.3 772.6 L2942.9 776.7 L2944.6 780.8 L2945.9 776.7 L2947.2 779.0 L2948.5 773.5 L2949.8 774.5 L2951.1 770.9 L2952.5 770.6 L2953.8 775.2 L2955.1 775.1 L2956.4 778.5 L2957.7 779.1 L2959.0 775.4 L2960.4 777.1 L2961.7 773.0 L2963.0 773.5 L2964.3 770.9 L2966.0 772.7 L2967.6 778.7 L2969.2 779.1 L2970.9 775.9 L2972.5 776.6 L2974.2 771.7 L2975.8 776.3 L2977.5 780.8 L2979.1 776.4 L2980.8 776.4 L2982.4 772.6 L2983.8 773.7 L2985.2 778.6 L2986.5 776.9 L2987.9 782.5 L2989.3 781.3 L2990.6 784.1 L2992.3 780.0 L2993.9 775.8 L2995.6 771.7 L2997.2 774.1 L2998.9 770.4 L3000.5 772.6 L3002.2 766.8 L3003.8 761.0 L3005.5 780.8 L3006.8 781.5 L3008.1 776.6 L3009.4 778.8 L3010.7 774.1 L3012.0 774.2 L3013.7 783.3 L3015.3 779.4 L3017.0 775.6 L3018.6 771.7 L3020.3 777.1 L3021.9 782.4 L3023.2 781.6 L3024.6 777.5 L3025.9 778.0 L3027.2 772.6 L3028.5 772.6 L3030.1 776.0 L3031.8 777.1 L3033.4 780.8 L3035.1 781.4 L3036.7 777.5 L3038.0 778.2 L3039.4 783.8 L3040.7 782.7 L3042.0 787.7 L3043.3 789.0 L3045.0 785.7 L3046.6 782.4 L3048.0 781.5 L3049.4 784.9 L3050.7 782.1 L3052.1 786.2 L3053.5 783.3 L3054.8 785.7 L3056.2 786.9 L3057.6 782.0 L3059.0 784.5 L3060.3 779.7 L3061.7 782.6 L3063.1 779.1 L3064.7 787.4 L3066.1 784.5 L3067.5 785.8 L3068.8 780.9 L3070.2 783.8 L3071.6 779.5 L3072.9 779.1 L3074.6 782.1 L3076.2 780.9 L3077.9 784.1 L3079.5 782.1 L3081.2 777.5 L3082.8 775.8 L3084.2 778.5 L3085.6 778.5 L3086.9 782.1 L3088.3 780.8 L3089.7 786.9 L3091.1 786.5 L3092.7 782.2 L3094.3 782.3 L3096.0 778.3 L3097.3 777.3 L3098.6 782.6 L3099.9 780.3 L3101.3 784.3 L3102.6 784.1 L3104.1 779.2 L3105.5 779.1 L3106.2 723.2 L3107.7 749.5 L3109.2 775.8 L3110.5 775.9 L3111.8 772.7 L3113.1 775.6 L3114.4 772.0 L3115.7 772.6 L3117.4 760.6 L3119.0 748.7 L3121.5 792.3 L3122.9 792.3 L3124.4 788.0 L3125.8 789.3 L3127.3 785.7 L3128.9 782.2 L3130.6 784.3 L3132.2 780.8 L3133.9 778.2 L3135.5 779.9 L3137.1 778.3 L3138.5 779.4 L3139.9 783.9 L3141.3 781.3 L3142.6 787.3 L3144.0 784.9 L3145.4 789.0 L3146.7 789.7 L3148.0 784.6 L3149.3 786.3 L3150.6 780.8 L3152.0 781.6 L3153.3 782.1 L3154.7 780.0 L3156.1 780.8 L3157.7 759.0 L3159.4 737.2 L3160.8 740.7 L3162.2 744.2 L3163.7 747.7 L3165.1 751.2 L3166.8 756.0 L3168.4 754.3 L3170.1 759.4 L3171.7 755.3 L3173.4 751.2 L3175.0 756.9 L3176.7 762.7 L3178.3 739.6 L3179.9 740.0 L3181.6 736.9 L3183.2 738.0 L3184.9 743.7 L3186.5 749.5 L3187.8 752.2 L3189.2 748.2 L3190.5 752.7 L3191.8 749.7 L3193.1 751.2 L3194.8 754.2 L3196.4 757.2 L3198.0 760.2 L3199.7 759.7 L3201.3 754.4 L3203.0 754.4 L3204.4 757.5 L3205.7 757.0 L3207.1 762.5 L3208.5 759.9 L3209.8 765.7 L3211.2 766.0 L3212.6 763.3 L3214.0 766.3 L3215.5 762.4 L3216.9 763.2 L3218.3 760.0 L3219.7 762.4 L3221.1 759.4 L3222.4 762.3 L3223.7 765.3 L3225.0 768.3 L3226.4 771.2 L3227.7 774.2 L3229.1 770.3 L3230.4 772.5 L3231.8 767.2 L3233.2 768.4 L3234.5 764.3 L3235.9 764.3 L3237.2 767.8 L3238.5 766.4 L3239.9 771.1 L3241.2 771.1 L3242.5 774.2 L3243.9 768.4 L3245.2 762.7 L3246.6 756.9 L3248.0 762.7 L3249.4 768.4 L3250.7 774.2 L3252.0 773.7 L3253.4 769.1 L3254.7 770.4 L3256.0 766.2 L3257.3 766.0 L3259.0 772.6 L3260.6 779.1 L3262.2 779.7 L3263.9 775.2 L3265.5 775.8 L3267.2 734.7 L3268.6 735.7 L3269.9 730.7 L3271.3 730.6 L3273.8 780.8 L3275.1 777.5 L3276.4 774.2 L3277.7 770.9 L3279.0 767.6 L3280.4 764.3 L3282.0 769.3 L3283.6 774.2 L3285.3 779.1 L3286.6 775.2 L3287.9 771.2 L3289.2 767.3 L3290.6 763.3 L3291.9 759.4 L3293.5 761.8 L3295.2 762.7 L3297.1 808.8 L3297.1 801 L2890.2 801 Z" fill="url(#gf4)"/><path d="M2890.2 738.0 L2892.7 739.6 L2894.3 752.8 L2896.8 758.6 L2898.5 763.1 L2900.1 767.6 L2901.8 763.7 L2903.4 762.7 L2905.0 766.3 L2906.7 765.1 L2908.3 761.4 L2910.0 757.7 L2911.6 761.6 L2913.3 765.4 L2914.9 769.3 L2916.6 765.6 L2918.2 767.3 L2919.9 763.5 L2921.5 764.4 L2923.2 769.5 L2924.8 770.9 L2926.1 767.1 L2927.4 769.8 L2928.7 764.9 L2930.1 766.1 L2931.4 762.7 L2933.0 768.4 L2934.7 774.2 L2936.3 770.4 L2938.0 772.3 L2939.6 768.4 L2941.3 772.6 L2942.9 776.7 L2944.6 780.8 L2945.9 776.7 L2947.2 779.0 L2948.5 773.5 L2949.8 774.5 L2951.1 770.9 L2952.5 770.6 L2953.8 775.2 L2955.1 775.1 L2956.4 778.5 L2957.7 779.1 L2959.0 775.4 L2960.4 777.1 L2961.7 773.0 L2963.0 773.5 L2964.3 770.9 L2966.0 772.7 L2967.6 778.7 L2969.2 779.1 L2970.9 775.9 L2972.5 776.6 L2974.2 771.7 L2975.8 776.3 L2977.5 780.8 L2979.1 776.4 L2980.8 776.4 L2982.4 772.6 L2983.8 773.7 L2985.2 778.6 L2986.5 776.9 L2987.9 782.5 L2989.3 781.3 L2990.6 784.1 L2992.3 780.0 L2993.9 775.8 L2995.6 771.7 L2997.2 774.1 L2998.9 770.4 L3000.5 772.6 L3002.2 766.8 L3003.8 761.0 L3005.5 780.8 L3006.8 781.5 L3008.1 776.6 L3009.4 778.8 L3010.7 774.1 L3012.0 774.2 L3013.7 783.3 L3015.3 779.4 L3017.0 775.6 L3018.6 771.7 L3020.3 777.1 L3021.9 782.4 L3023.2 781.6 L3024.6 777.5 L3025.9 778.0 L3027.2 772.6 L3028.5 772.6 L3030.1 776.0 L3031.8 777.1 L3033.4 780.8 L3035.1 781.4 L3036.7 777.5 L3038.0 778.2 L3039.4 783.8 L3040.7 782.7 L3042.0 787.7 L3043.3 789.0 L3045.0 785.7 L3046.6 782.4 L3048.0 781.5 L3049.4 784.9 L3050.7 782.1 L3052.1 786.2 L3053.5 783.3 L3054.8 785.7 L3056.2 786.9 L3057.6 782.0 L3059.0 784.5 L3060.3 779.7 L3061.7 782.6 L3063.1 779.1 L3064.7 787.4 L3066.1 784.5 L3067.5 785.8 L3068.8 780.9 L3070.2 783.8 L3071.6 779.5 L3072.9 779.1 L3074.6 782.1 L3076.2 780.9 L3077.9 784.1 L3079.5 782.1 L3081.2 777.5 L3082.8 775.8 L3084.2 778.5 L3085.6 778.5 L3086.9 782.1 L3088.3 780.8 L3089.7 786.9 L3091.1 786.5 L3092.7 782.2 L3094.3 782.3 L3096.0 778.3 L3097.3 777.3 L3098.6 782.6 L3099.9 780.3 L3101.3 784.3 L3102.6 784.1 L3104.1 779.2 L3105.5 779.1 L3106.2 723.2 L3107.7 749.5 L3109.2 775.8 L3110.5 775.9 L3111.8 772.7 L3113.1 775.6 L3114.4 772.0 L3115.7 772.6 L3117.4 760.6 L3119.0 748.7 L3121.5 792.3 L3122.9 792.3 L3124.4 788.0 L3125.8 789.3 L3127.3 785.7 L3128.9 782.2 L3130.6 784.3 L3132.2 780.8 L3133.9 778.2 L3135.5 779.9 L3137.1 778.3 L3138.5 779.4 L3139.9 783.9 L3141.3 781.3 L3142.6 787.3 L3144.0 784.9 L3145.4 789.0 L3146.7 789.7 L3148.0 784.6 L3149.3 786.3 L3150.6 780.8 L3152.0 781.6 L3153.3 782.1 L3154.7 780.0 L3156.1 780.8 L3157.7 759.0 L3159.4 737.2 L3160.8 740.7 L3162.2 744.2 L3163.7 747.7 L3165.1 751.2 L3166.8 756.0 L3168.4 754.3 L3170.1 759.4 L3171.7 755.3 L3173.4 751.2 L3175.0 756.9 L3176.7 762.7 L3178.3 739.6 L3179.9 740.0 L3181.6 736.9 L3183.2 738.0 L3184.9 743.7 L3186.5 749.5 L3187.8 752.2 L3189.2 748.2 L3190.5 752.7 L3191.8 749.7 L3193.1 751.2 L3194.8 754.2 L3196.4 757.2 L3198.0 760.2 L3199.7 759.7 L3201.3 754.4 L3203.0 754.4 L3204.4 757.5 L3205.7 757.0 L3207.1 762.5 L3208.5 759.9 L3209.8 765.7 L3211.2 766.0 L3212.6 763.3 L3214.0 766.3 L3215.5 762.4 L3216.9 763.2 L3218.3 760.0 L3219.7 762.4 L3221.1 759.4 L3222.4 762.3 L3223.7 765.3 L3225.0 768.3 L3226.4 771.2 L3227.7 774.2 L3229.1 770.3 L3230.4 772.5 L3231.8 767.2 L3233.2 768.4 L3234.5 764.3 L3235.9 764.3 L3237.2 767.8 L3238.5 766.4 L3239.9 771.1 L3241.2 771.1 L3242.5 774.2 L3243.9 768.4 L3245.2 762.7 L3246.6 756.9 L3248.0 762.7 L3249.4 768.4 L3250.7 774.2 L3252.0 773.7 L3253.4 769.1 L3254.7 770.4 L3256.0 766.2 L3257.3 766.0 L3259.0 772.6 L3260.6 779.1 L3262.2 779.7 L3263.9 775.2 L3265.5 775.8 L3267.2 734.7 L3268.6 735.7 L3269.9 730.7 L3271.3 730.6 L3273.8 780.8 L3275.1 777.5 L3276.4 774.2 L3277.7 770.9 L3279.0 767.6 L3280.4 764.3 L3282.0 769.3 L3283.6 774.2 L3285.3 779.1 L3286.6 775.2 L3287.9 771.2 L3289.2 767.3 L3290.6 763.3 L3291.9 759.4 L3293.5 761.8 L3295.2 762.7" fill="none" stroke="#8c1de6" stroke-width="5.4" stroke-linejoin="round" stroke-linecap="round"/><path d="M3295.2 762.7 L3297.1 808.8" fill="none" stroke="#8c1de6" stroke-width="3.6" stroke-linecap="butt"/><path d="M298.2 1206.8 L299.9 1202.8 L301.5 1201.9 L302.9 1198.0 L304.3 1194.2 L305.6 1190.3 L307.0 1194.2 L308.4 1192.0 L309.8 1195.3 L311.4 1199.1 L313.0 1203.0 L314.7 1206.8 L316.3 1196.9 L318.0 1198.3 L319.6 1195.3 L321.3 1204.1 L322.9 1212.8 L324.6 1221.6 L325.9 1213.4 L327.3 1205.2 L328.7 1196.9 L330.1 1204.6 L331.4 1212.3 L332.8 1220.0 L334.4 1211.7 L336.1 1203.5 L337.7 1195.3 L339.4 1210.1 L341.0 1224.9 L342.7 1216.7 L344.3 1208.4 L346.0 1200.2 L347.3 1206.1 L348.6 1212.1 L349.9 1218.0 L351.2 1223.9 L352.6 1229.8 L354.2 1211.7 L355.8 1193.6 L357.5 1200.2 L359.1 1206.8 L360.8 1213.4 L362.4 1190.3 L364.1 1202.7 L365.7 1215.0 L367.0 1210.4 L368.4 1205.8 L369.7 1201.2 L371.0 1196.6 L372.3 1192.0 L374.0 1210.1 L375.6 1228.2 L376.9 1220.6 L378.2 1213.1 L379.5 1205.5 L380.9 1197.9 L382.2 1190.3 L383.8 1209.3 L385.5 1228.2 L387.1 1209.3 L388.8 1190.3 L390.1 1199.6 L391.4 1208.8 L392.7 1218.0 L394.0 1227.2 L395.3 1236.4 L397.0 1219.1 L398.6 1201.9 L400.0 1197.9 L401.3 1199.6 L402.6 1193.6 L403.9 1194.5 L405.2 1190.3 L406.9 1196.4 L408.5 1202.4 L410.2 1208.4 L411.8 1201.9 L413.5 1195.3 L414.8 1206.8 L416.1 1218.3 L417.4 1229.8 L418.7 1241.4 L420.0 1252.9 L421.7 1224.9 L423.3 1196.9 L425.0 1204.1 L426.6 1211.2 L428.3 1218.3 L429.6 1213.7 L431.0 1209.0 L432.4 1204.3 L433.8 1199.7 L435.1 1195.0 L436.5 1190.3 L438.1 1200.2 L439.8 1210.1 L441.4 1220.0 L443.1 1212.3 L444.7 1204.6 L446.4 1196.9 L447.8 1207.9 L449.1 1218.9 L450.5 1229.8 L451.9 1221.6 L453.2 1213.4 L454.6 1205.2 L455.9 1211.1 L457.2 1217.0 L458.6 1222.9 L459.9 1228.9 L461.2 1234.8 L462.8 1218.3 L464.5 1201.9 L466.1 1199.2 L467.8 1201.3 L469.4 1198.6 L471.1 1213.4 L472.7 1228.2 L474.1 1223.0 L475.5 1217.8 L476.8 1212.6 L478.2 1207.3 L479.6 1202.1 L480.9 1196.9 L482.3 1200.5 L483.6 1204.2 L484.9 1207.8 L486.2 1211.4 L487.5 1215.0 L489.2 1209.5 L490.8 1204.1 L492.5 1198.6 L493.8 1203.5 L495.1 1208.4 L496.4 1213.4 L497.7 1218.3 L499.1 1223.3 L500.7 1215.0 L502.3 1206.8 L504.0 1198.6 L505.6 1203.5 L507.3 1208.4 L508.9 1213.4 L510.6 1206.8 L512.2 1200.2 L513.9 1193.6 L515.5 1201.0 L517.2 1208.4 L518.5 1204.9 L519.8 1205.9 L521.1 1199.5 L522.4 1201.1 L523.7 1196.9 L525.1 1195.5 L526.5 1198.3 L527.9 1195.7 L529.2 1199.3 L530.6 1197.4 L532.0 1198.6 L533.6 1231.5 L535.3 1222.7 L536.9 1213.9 L538.6 1205.2 L540.2 1224.9 L541.9 1217.8 L543.5 1210.6 L545.1 1203.5 L546.6 1207.3 L548.0 1211.0 L549.4 1214.8 L550.8 1218.6 L552.2 1222.3 L553.6 1226.1 L555.0 1229.8 L556.7 1223.3 L558.3 1216.7 L560.0 1210.1 L561.6 1209.6 L563.3 1206.8 L564.9 1193.6 L566.5 1191.9 L568.2 1193.5 L569.8 1192.0 L571.5 1192.9 L573.1 1196.9 L574.4 1197.5 L575.8 1191.9 L577.1 1193.4 L578.4 1189.0 L579.7 1188.7 L581.0 1188.5 L582.3 1182.2 L583.7 1183.4 L585.0 1178.3 L586.3 1177.2 L587.9 1181.0 L589.6 1184.9 L591.2 1188.7 L592.7 1191.6 L594.1 1188.1 L595.6 1192.7 L597.0 1190.0 L598.4 1193.5 L599.9 1190.9 L601.3 1194.3 L602.8 1193.6 L604.1 1190.6 L605.5 1193.4 L606.9 1188.4 L608.2 1191.9 L609.6 1188.1 L611.0 1187.9 L612.3 1191.6 L613.6 1190.6 L614.9 1195.9 L616.3 1193.7 L617.6 1197.7 L619.2 1194.7 L620.9 1191.7 L622.5 1188.7 L623.8 1191.4 L625.1 1189.7 L626.5 1195.3 L627.8 1193.2 L629.1 1196.9 L630.7 1196.5 L632.4 1191.6 L634.0 1190.3 L635.3 1192.1 L636.7 1189.2 L638.0 1191.6 L639.3 1190.1 L640.6 1192.0 L641.9 1189.1 L643.3 1193.0 L644.6 1190.6 L645.9 1193.1 L647.2 1192.0 L649.7 1218.3 L652.1 1190.3 L653.6 1189.0 L655.0 1191.1 L656.4 1188.3 L657.8 1190.9 L659.2 1187.6 L660.6 1191.3 L662.0 1188.7 L663.3 1189.6 L664.7 1193.4 L666.0 1192.5 L667.3 1197.6 L668.6 1196.9 L670.0 1194.0 L671.4 1194.7 L672.8 1189.8 L674.2 1191.4 L675.7 1187.0 L677.1 1188.9 L678.5 1185.4 L679.8 1184.8 L681.1 1190.1 L682.4 1188.6 L683.7 1193.3 L685.1 1193.6 L686.7 1190.3 L688.4 1187.0 L689.7 1192.0 L691.0 1196.9 L692.3 1201.9 L693.6 1206.8 L694.9 1211.7 L696.6 1204.1 L698.2 1196.4 L699.9 1188.7 L701.2 1189.0 L702.6 1193.0 L704.0 1192.0 L704.8 1171.4 L704.8 1255 L298.2 1255 Z" fill="url(#gf5)"/><path d="M298.2 1206.8 L299.9 1202.8 L301.5 1201.9 L302.9 1198.0 L304.3 1194.2 L305.6 1190.3 L307.0 1194.2 L308.4 1192.0 L309.8 1195.3 L311.4 1199.1 L313.0 1203.0 L314.7 1206.8 L316.3 1196.9 L318.0 1198.3 L319.6 1195.3 L321.3 1204.1 L322.9 1212.8 L324.6 1221.6 L325.9 1213.4 L327.3 1205.2 L328.7 1196.9 L330.1 1204.6 L331.4 1212.3 L332.8 1220.0 L334.4 1211.7 L336.1 1203.5 L337.7 1195.3 L339.4 1210.1 L341.0 1224.9 L342.7 1216.7 L344.3 1208.4 L346.0 1200.2 L347.3 1206.1 L348.6 1212.1 L349.9 1218.0 L351.2 1223.9 L352.6 1229.8 L354.2 1211.7 L355.8 1193.6 L357.5 1200.2 L359.1 1206.8 L360.8 1213.4 L362.4 1190.3 L364.1 1202.7 L365.7 1215.0 L367.0 1210.4 L368.4 1205.8 L369.7 1201.2 L371.0 1196.6 L372.3 1192.0 L374.0 1210.1 L375.6 1228.2 L376.9 1220.6 L378.2 1213.1 L379.5 1205.5 L380.9 1197.9 L382.2 1190.3 L383.8 1209.3 L385.5 1228.2 L387.1 1209.3 L388.8 1190.3 L390.1 1199.6 L391.4 1208.8 L392.7 1218.0 L394.0 1227.2 L395.3 1236.4 L397.0 1219.1 L398.6 1201.9 L400.0 1197.9 L401.3 1199.6 L402.6 1193.6 L403.9 1194.5 L405.2 1190.3 L406.9 1196.4 L408.5 1202.4 L410.2 1208.4 L411.8 1201.9 L413.5 1195.3 L414.8 1206.8 L416.1 1218.3 L417.4 1229.8 L418.7 1241.4 L420.0 1252.9 L421.7 1224.9 L423.3 1196.9 L425.0 1204.1 L426.6 1211.2 L428.3 1218.3 L429.6 1213.7 L431.0 1209.0 L432.4 1204.3 L433.8 1199.7 L435.1 1195.0 L436.5 1190.3 L438.1 1200.2 L439.8 1210.1 L441.4 1220.0 L443.1 1212.3 L444.7 1204.6 L446.4 1196.9 L447.8 1207.9 L449.1 1218.9 L450.5 1229.8 L451.9 1221.6 L453.2 1213.4 L454.6 1205.2 L455.9 1211.1 L457.2 1217.0 L458.6 1222.9 L459.9 1228.9 L461.2 1234.8 L462.8 1218.3 L464.5 1201.9 L466.1 1199.2 L467.8 1201.3 L469.4 1198.6 L471.1 1213.4 L472.7 1228.2 L474.1 1223.0 L475.5 1217.8 L476.8 1212.6 L478.2 1207.3 L479.6 1202.1 L480.9 1196.9 L482.3 1200.5 L483.6 1204.2 L484.9 1207.8 L486.2 1211.4 L487.5 1215.0 L489.2 1209.5 L490.8 1204.1 L492.5 1198.6 L493.8 1203.5 L495.1 1208.4 L496.4 1213.4 L497.7 1218.3 L499.1 1223.3 L500.7 1215.0 L502.3 1206.8 L504.0 1198.6 L505.6 1203.5 L507.3 1208.4 L508.9 1213.4 L510.6 1206.8 L512.2 1200.2 L513.9 1193.6 L515.5 1201.0 L517.2 1208.4 L518.5 1204.9 L519.8 1205.9 L521.1 1199.5 L522.4 1201.1 L523.7 1196.9 L525.1 1195.5 L526.5 1198.3 L527.9 1195.7 L529.2 1199.3 L530.6 1197.4 L532.0 1198.6 L533.6 1231.5 L535.3 1222.7 L536.9 1213.9 L538.6 1205.2 L540.2 1224.9 L541.9 1217.8 L543.5 1210.6 L545.1 1203.5 L546.6 1207.3 L548.0 1211.0 L549.4 1214.8 L550.8 1218.6 L552.2 1222.3 L553.6 1226.1 L555.0 1229.8 L556.7 1223.3 L558.3 1216.7 L560.0 1210.1 L561.6 1209.6 L563.3 1206.8 L564.9 1193.6 L566.5 1191.9 L568.2 1193.5 L569.8 1192.0 L571.5 1192.9 L573.1 1196.9 L574.4 1197.5 L575.8 1191.9 L577.1 1193.4 L578.4 1189.0 L579.7 1188.7 L581.0 1188.5 L582.3 1182.2 L583.7 1183.4 L585.0 1178.3 L586.3 1177.2 L587.9 1181.0 L589.6 1184.9 L591.2 1188.7 L592.7 1191.6 L594.1 1188.1 L595.6 1192.7 L597.0 1190.0 L598.4 1193.5 L599.9 1190.9 L601.3 1194.3 L602.8 1193.6 L604.1 1190.6 L605.5 1193.4 L606.9 1188.4 L608.2 1191.9 L609.6 1188.1 L611.0 1187.9 L612.3 1191.6 L613.6 1190.6 L614.9 1195.9 L616.3 1193.7 L617.6 1197.7 L619.2 1194.7 L620.9 1191.7 L622.5 1188.7 L623.8 1191.4 L625.1 1189.7 L626.5 1195.3 L627.8 1193.2 L629.1 1196.9 L630.7 1196.5 L632.4 1191.6 L634.0 1190.3 L635.3 1192.1 L636.7 1189.2 L638.0 1191.6 L639.3 1190.1 L640.6 1192.0 L641.9 1189.1 L643.3 1193.0 L644.6 1190.6 L645.9 1193.1 L647.2 1192.0 L649.7 1218.3 L652.1 1190.3 L653.6 1189.0 L655.0 1191.1 L656.4 1188.3 L657.8 1190.9 L659.2 1187.6 L660.6 1191.3 L662.0 1188.7 L663.3 1189.6 L664.7 1193.4 L666.0 1192.5 L667.3 1197.6 L668.6 1196.9 L670.0 1194.0 L671.4 1194.7 L672.8 1189.8 L674.2 1191.4 L675.7 1187.0 L677.1 1188.9 L678.5 1185.4 L679.8 1184.8 L681.1 1190.1 L682.4 1188.6 L683.7 1193.3 L685.1 1193.6 L686.7 1190.3 L688.4 1187.0 L689.7 1192.0 L691.0 1196.9 L692.3 1201.9 L693.6 1206.8 L694.9 1211.7 L696.6 1204.1 L698.2 1196.4 L699.9 1188.7 L701.2 1189.0 L702.6 1193.0 L704.0 1192.0" fill="none" stroke="#8c1de6" stroke-width="5.4" stroke-linejoin="round" stroke-linecap="round"/><path d="M704.0 1192.0 L704.8 1171.4" fill="none" stroke="#8c1de6" stroke-width="3.6" stroke-linecap="butt"/><path d="M946.2 1192.0 L947.5 1190.2 L948.9 1190.7 L950.2 1188.6 L951.5 1189.5 L952.8 1187.0 L954.5 1187.9 L956.1 1190.3 L957.4 1191.4 L958.7 1191.0 L960.1 1193.3 L961.4 1191.7 L962.7 1193.6 L964.3 1192.8 L966.0 1189.7 L967.6 1188.7 L969.3 1193.2 L970.9 1197.7 L972.2 1196.8 L973.6 1193.4 L974.9 1194.1 L976.2 1191.1 L977.5 1190.3 L979.2 1193.7 L980.8 1193.0 L982.4 1196.1 L983.8 1195.2 L985.2 1190.5 L986.6 1189.5 L987.9 1192.5 L989.3 1195.6 L990.7 1198.6 L992.3 1198.8 L994.0 1196.7 L995.6 1197.7 L997.3 1197.0 L998.9 1191.9 L1000.6 1191.2 L1001.9 1190.9 L1003.3 1188.4 L1004.7 1190.1 L1006.0 1186.6 L1007.4 1187.9 L1008.8 1186.2 L1010.4 1189.5 L1012.1 1192.8 L1013.7 1196.1 L1015.0 1193.8 L1016.4 1194.0 L1017.7 1190.7 L1019.0 1191.1 L1020.3 1188.7 L1021.7 1187.6 L1023.1 1189.8 L1024.5 1187.5 L1025.9 1189.6 L1027.4 1187.2 L1028.8 1189.7 L1030.2 1188.7 L1031.5 1187.4 L1032.8 1189.5 L1034.1 1186.4 L1035.4 1188.4 L1036.8 1187.0 L1038.2 1187.1 L1039.6 1190.7 L1041.0 1189.4 L1042.4 1191.9 L1043.8 1191.5 L1045.2 1193.9 L1046.6 1194.5 L1048.0 1192.0 L1049.4 1193.7 L1050.8 1190.6 L1052.1 1190.6 L1053.5 1188.0 L1054.9 1187.9 L1056.2 1190.1 L1057.6 1188.7 L1059.0 1191.3 L1060.4 1190.3 L1061.7 1193.5 L1063.1 1193.6 L1064.5 1193.7 L1065.8 1195.7 L1067.2 1194.4 L1068.6 1196.4 L1070.0 1195.5 L1071.3 1196.9 L1072.7 1195.7 L1074.0 1192.2 L1075.3 1191.9 L1076.6 1188.4 L1077.9 1187.0 L1079.3 1188.7 L1080.7 1187.4 L1082.0 1190.2 L1083.4 1189.3 L1084.8 1191.7 L1086.1 1192.0 L1087.6 1191.7 L1089.0 1194.6 L1090.5 1193.3 L1091.9 1195.3 L1093.3 1194.8 L1094.8 1197.3 L1096.2 1195.9 L1097.7 1197.7 L1099.3 1196.1 L1101.0 1192.6 L1102.6 1191.2 L1104.0 1192.4 L1105.4 1191.3 L1106.7 1193.9 L1108.1 1192.5 L1109.5 1196.0 L1110.8 1195.3 L1112.2 1193.7 L1113.6 1194.9 L1115.0 1192.3 L1116.3 1193.0 L1117.7 1189.9 L1119.1 1190.3 L1120.7 1194.2 L1122.4 1196.1 L1123.7 1194.5 L1125.0 1195.3 L1126.3 1192.0 L1127.6 1192.9 L1128.9 1191.2 L1130.6 1191.9 L1132.2 1195.2 L1133.9 1195.3 L1135.2 1192.8 L1136.5 1192.6 L1137.8 1188.7 L1139.2 1188.7 L1140.5 1185.4 L1141.8 1188.0 L1143.1 1190.7 L1144.4 1193.3 L1145.7 1195.9 L1147.1 1198.6 L1148.7 1192.0 L1150.3 1185.4 L1151.7 1184.0 L1153.1 1185.8 L1154.5 1184.2 L1155.8 1185.5 L1157.2 1183.6 L1158.6 1184.6 L1160.2 1189.0 L1161.9 1193.4 L1163.5 1197.7 L1165.2 1198.2 L1166.8 1195.2 L1168.5 1195.3 L1169.8 1195.4 L1171.2 1191.2 L1172.6 1192.5 L1173.9 1189.2 L1175.3 1189.8 L1176.7 1187.0 L1178.1 1185.0 L1179.4 1185.4 L1180.8 1182.5 L1182.2 1183.6 L1183.5 1180.3 L1184.9 1180.5 L1186.3 1181.1 L1187.7 1178.1 L1189.0 1179.0 L1190.4 1177.0 L1191.8 1177.7 L1193.1 1176.3 L1194.8 1176.8 L1196.4 1180.8 L1198.1 1182.1 L1199.7 1177.4 L1201.4 1172.8 L1203.0 1168.1 L1204.4 1167.6 L1205.8 1171.1 L1207.1 1169.5 L1208.5 1172.3 L1209.9 1171.7 L1211.3 1173.1 L1212.9 1175.5 L1214.5 1175.7 L1216.2 1178.0 L1217.6 1178.4 L1219.1 1176.7 L1220.5 1178.3 L1222.0 1176.6 L1223.4 1178.1 L1224.8 1176.4 L1226.3 1178.7 L1227.7 1177.2 L1229.0 1175.2 L1230.3 1176.2 L1231.7 1172.8 L1233.0 1173.8 L1234.3 1172.2 L1235.7 1172.3 L1237.1 1175.3 L1238.5 1174.0 L1239.9 1176.9 L1241.4 1176.0 L1242.8 1178.4 L1244.2 1178.8 L1245.5 1177.8 L1246.8 1180.3 L1248.1 1178.8 L1249.4 1180.8 L1250.8 1179.6 L1252.1 1178.1 L1253.4 1179.3 L1254.7 1176.5 L1256.0 1178.4 L1257.3 1176.3 L1258.8 1176.1 L1260.2 1177.9 L1261.6 1176.4 L1263.0 1178.7 L1264.4 1176.8 L1265.8 1179.4 L1267.2 1178.8 L1268.6 1178.4 L1270.0 1180.0 L1271.3 1178.7 L1272.7 1180.3 L1274.1 1179.3 L1275.4 1180.5 L1276.8 1178.9 L1278.2 1181.8 L1279.6 1179.7 L1280.9 1182.3 L1282.3 1179.9 L1283.7 1181.3 L1285.1 1181.4 L1286.5 1179.7 L1287.9 1180.4 L1289.3 1178.2 L1290.7 1180.1 L1292.1 1178.0 L1293.6 1178.0 L1294.9 1178.6 L1296.2 1176.4 L1297.5 1178.8 L1298.8 1176.9 L1300.1 1178.8 L1301.5 1176.9 L1302.8 1177.9 L1304.1 1176.6 L1305.4 1177.7 L1306.7 1176.2 L1308.0 1178.1 L1309.4 1175.8 L1310.7 1177.7 L1312.0 1175.2 L1313.3 1176.3 L1315.0 1180.5 L1316.6 1182.1 L1318.0 1180.1 L1319.3 1182.0 L1320.7 1179.0 L1322.1 1181.4 L1323.5 1178.4 L1324.8 1178.8 L1326.2 1178.8 L1327.7 1176.9 L1329.1 1178.0 L1330.5 1175.4 L1331.9 1176.9 L1333.3 1173.9 L1334.7 1174.7 L1336.0 1176.7 L1337.3 1175.2 L1338.7 1177.4 L1340.0 1176.1 L1341.3 1177.2 L1342.9 1179.4 L1344.6 1177.9 L1346.2 1180.5 L1347.5 1179.9 L1348.9 1177.2 L1350.2 1177.9 L1351.5 1174.4 L1352.8 1174.7 L1353.1 1262.8 L1353.1 1255 L946.2 1255 Z" fill="url(#gf6)"/><path d="M946.2 1192.0 L947.5 1190.2 L948.9 1190.7 L950.2 1188.6 L951.5 1189.5 L952.8 1187.0 L954.5 1187.9 L956.1 1190.3 L957.4 1191.4 L958.7 1191.0 L960.1 1193.3 L961.4 1191.7 L962.7 1193.6 L964.3 1192.8 L966.0 1189.7 L967.6 1188.7 L969.3 1193.2 L970.9 1197.7 L972.2 1196.8 L973.6 1193.4 L974.9 1194.1 L976.2 1191.1 L977.5 1190.3 L979.2 1193.7 L980.8 1193.0 L982.4 1196.1 L983.8 1195.2 L985.2 1190.5 L986.6 1189.5 L987.9 1192.5 L989.3 1195.6 L990.7 1198.6 L992.3 1198.8 L994.0 1196.7 L995.6 1197.7 L997.3 1197.0 L998.9 1191.9 L1000.6 1191.2 L1001.9 1190.9 L1003.3 1188.4 L1004.7 1190.1 L1006.0 1186.6 L1007.4 1187.9 L1008.8 1186.2 L1010.4 1189.5 L1012.1 1192.8 L1013.7 1196.1 L1015.0 1193.8 L1016.4 1194.0 L1017.7 1190.7 L1019.0 1191.1 L1020.3 1188.7 L1021.7 1187.6 L1023.1 1189.8 L1024.5 1187.5 L1025.9 1189.6 L1027.4 1187.2 L1028.8 1189.7 L1030.2 1188.7 L1031.5 1187.4 L1032.8 1189.5 L1034.1 1186.4 L1035.4 1188.4 L1036.8 1187.0 L1038.2 1187.1 L1039.6 1190.7 L1041.0 1189.4 L1042.4 1191.9 L1043.8 1191.5 L1045.2 1193.9 L1046.6 1194.5 L1048.0 1192.0 L1049.4 1193.7 L1050.8 1190.6 L1052.1 1190.6 L1053.5 1188.0 L1054.9 1187.9 L1056.2 1190.1 L1057.6 1188.7 L1059.0 1191.3 L1060.4 1190.3 L1061.7 1193.5 L1063.1 1193.6 L1064.5 1193.7 L1065.8 1195.7 L1067.2 1194.4 L1068.6 1196.4 L1070.0 1195.5 L1071.3 1196.9 L1072.7 1195.7 L1074.0 1192.2 L1075.3 1191.9 L1076.6 1188.4 L1077.9 1187.0 L1079.3 1188.7 L1080.7 1187.4 L1082.0 1190.2 L1083.4 1189.3 L1084.8 1191.7 L1086.1 1192.0 L1087.6 1191.7 L1089.0 1194.6 L1090.5 1193.3 L1091.9 1195.3 L1093.3 1194.8 L1094.8 1197.3 L1096.2 1195.9 L1097.7 1197.7 L1099.3 1196.1 L1101.0 1192.6 L1102.6 1191.2 L1104.0 1192.4 L1105.4 1191.3 L1106.7 1193.9 L1108.1 1192.5 L1109.5 1196.0 L1110.8 1195.3 L1112.2 1193.7 L1113.6 1194.9 L1115.0 1192.3 L1116.3 1193.0 L1117.7 1189.9 L1119.1 1190.3 L1120.7 1194.2 L1122.4 1196.1 L1123.7 1194.5 L1125.0 1195.3 L1126.3 1192.0 L1127.6 1192.9 L1128.9 1191.2 L1130.6 1191.9 L1132.2 1195.2 L1133.9 1195.3 L1135.2 1192.8 L1136.5 1192.6 L1137.8 1188.7 L1139.2 1188.7 L1140.5 1185.4 L1141.8 1188.0 L1143.1 1190.7 L1144.4 1193.3 L1145.7 1195.9 L1147.1 1198.6 L1148.7 1192.0 L1150.3 1185.4 L1151.7 1184.0 L1153.1 1185.8 L1154.5 1184.2 L1155.8 1185.5 L1157.2 1183.6 L1158.6 1184.6 L1160.2 1189.0 L1161.9 1193.4 L1163.5 1197.7 L1165.2 1198.2 L1166.8 1195.2 L1168.5 1195.3 L1169.8 1195.4 L1171.2 1191.2 L1172.6 1192.5 L1173.9 1189.2 L1175.3 1189.8 L1176.7 1187.0 L1178.1 1185.0 L1179.4 1185.4 L1180.8 1182.5 L1182.2 1183.6 L1183.5 1180.3 L1184.9 1180.5 L1186.3 1181.1 L1187.7 1178.1 L1189.0 1179.0 L1190.4 1177.0 L1191.8 1177.7 L1193.1 1176.3 L1194.8 1176.8 L1196.4 1180.8 L1198.1 1182.1 L1199.7 1177.4 L1201.4 1172.8 L1203.0 1168.1 L1204.4 1167.6 L1205.8 1171.1 L1207.1 1169.5 L1208.5 1172.3 L1209.9 1171.7 L1211.3 1173.1 L1212.9 1175.5 L1214.5 1175.7 L1216.2 1178.0 L1217.6 1178.4 L1219.1 1176.7 L1220.5 1178.3 L1222.0 1176.6 L1223.4 1178.1 L1224.8 1176.4 L1226.3 1178.7 L1227.7 1177.2 L1229.0 1175.2 L1230.3 1176.2 L1231.7 1172.8 L1233.0 1173.8 L1234.3 1172.2 L1235.7 1172.3 L1237.1 1175.3 L1238.5 1174.0 L1239.9 1176.9 L1241.4 1176.0 L1242.8 1178.4 L1244.2 1178.8 L1245.5 1177.8 L1246.8 1180.3 L1248.1 1178.8 L1249.4 1180.8 L1250.8 1179.6 L1252.1 1178.1 L1253.4 1179.3 L1254.7 1176.5 L1256.0 1178.4 L1257.3 1176.3 L1258.8 1176.1 L1260.2 1177.9 L1261.6 1176.4 L1263.0 1178.7 L1264.4 1176.8 L1265.8 1179.4 L1267.2 1178.8 L1268.6 1178.4 L1270.0 1180.0 L1271.3 1178.7 L1272.7 1180.3 L1274.1 1179.3 L1275.4 1180.5 L1276.8 1178.9 L1278.2 1181.8 L1279.6 1179.7 L1280.9 1182.3 L1282.3 1179.9 L1283.7 1181.3 L1285.1 1181.4 L1286.5 1179.7 L1287.9 1180.4 L1289.3 1178.2 L1290.7 1180.1 L1292.1 1178.0 L1293.6 1178.0 L1294.9 1178.6 L1296.2 1176.4 L1297.5 1178.8 L1298.8 1176.9 L1300.1 1178.8 L1301.5 1176.9 L1302.8 1177.9 L1304.1 1176.6 L1305.4 1177.7 L1306.7 1176.2 L1308.0 1178.1 L1309.4 1175.8 L1310.7 1177.7 L1312.0 1175.2 L1313.3 1176.3 L1315.0 1180.5 L1316.6 1182.1 L1318.0 1180.1 L1319.3 1182.0 L1320.7 1179.0 L1322.1 1181.4 L1323.5 1178.4 L1324.8 1178.8 L1326.2 1178.8 L1327.7 1176.9 L1329.1 1178.0 L1330.5 1175.4 L1331.9 1176.9 L1333.3 1173.9 L1334.7 1174.7 L1336.0 1176.7 L1337.3 1175.2 L1338.7 1177.4 L1340.0 1176.1 L1341.3 1177.2 L1342.9 1179.4 L1344.6 1177.9 L1346.2 1180.5 L1347.5 1179.9 L1348.9 1177.2 L1350.2 1177.9 L1351.5 1174.4 L1352.8 1174.7" fill="none" stroke="#8c1de6" stroke-width="5.4" stroke-linejoin="round" stroke-linecap="round"/><path d="M1352.8 1174.7 L1353.1 1262.8" fill="none" stroke="#8c1de6" stroke-width="3.6" stroke-linecap="butt"/><path d="M1594.2 1196.9 L1595.9 1198.6 L1597.5 1206.8 L1599.2 1204.1 L1600.8 1207.8 L1602.5 1205.2 L1604.1 1209.3 L1605.8 1213.4 L1607.4 1211.1 L1609.0 1214.5 L1610.7 1211.7 L1612.3 1208.0 L1614.0 1204.3 L1615.6 1209.0 L1617.3 1213.7 L1618.9 1218.3 L1620.6 1213.9 L1622.2 1215.5 L1623.9 1210.9 L1625.5 1211.5 L1627.2 1216.6 L1628.8 1215.9 L1630.1 1212.8 L1631.4 1214.9 L1632.7 1210.4 L1634.1 1211.8 L1635.4 1209.3 L1637.0 1214.6 L1638.7 1220.0 L1640.0 1217.1 L1641.3 1219.4 L1642.6 1216.5 L1643.9 1218.4 L1645.3 1216.7 L1646.9 1223.3 L1648.6 1229.8 L1650.2 1225.5 L1651.8 1221.1 L1653.5 1216.7 L1654.8 1214.2 L1656.1 1218.6 L1657.4 1215.3 L1658.8 1218.3 L1660.1 1215.9 L1661.7 1224.9 L1663.0 1220.8 L1664.4 1222.5 L1665.7 1215.7 L1667.0 1217.5 L1668.3 1213.4 L1670.0 1219.6 L1671.6 1225.7 L1672.9 1222.5 L1674.2 1222.9 L1675.5 1219.0 L1676.9 1219.5 L1678.2 1215.9 L1679.8 1221.6 L1681.5 1227.4 L1683.1 1221.2 L1684.8 1215.0 L1686.4 1220.8 L1688.1 1226.6 L1689.7 1229.8 L1691.3 1233.1 L1693.0 1236.4 L1694.3 1232.1 L1695.6 1227.9 L1696.9 1223.6 L1698.3 1219.3 L1699.6 1215.0 L1701.2 1220.0 L1702.9 1224.9 L1704.5 1219.1 L1706.2 1213.4 L1707.8 1207.6 L1709.5 1228.2 L1710.8 1228.0 L1712.1 1231.9 L1713.4 1229.4 L1714.7 1232.9 L1716.0 1231.5 L1717.7 1226.3 L1719.3 1221.1 L1721.0 1215.9 L1722.6 1224.5 L1724.3 1233.1 L1725.6 1229.7 L1727.0 1229.6 L1728.4 1223.7 L1729.8 1224.4 L1731.1 1220.0 L1732.5 1218.3 L1734.1 1221.6 L1735.8 1224.9 L1737.4 1228.2 L1739.1 1227.2 L1740.7 1221.6 L1742.4 1221.6 L1743.8 1229.8 L1745.1 1238.1 L1746.5 1246.3 L1747.9 1241.4 L1749.2 1236.4 L1750.6 1231.5 L1751.9 1235.7 L1753.2 1234.4 L1754.6 1238.5 L1755.9 1237.8 L1757.2 1241.4 L1758.5 1241.6 L1759.8 1237.0 L1761.1 1239.6 L1762.5 1234.1 L1763.8 1234.8 L1765.4 1228.6 L1767.1 1222.4 L1768.7 1241.4 L1770.1 1241.0 L1771.5 1236.6 L1772.8 1236.4 L1774.2 1232.4 L1775.6 1232.5 L1776.9 1229.8 L1778.6 1225.3 L1780.2 1220.8 L1781.9 1227.8 L1783.5 1234.8 L1785.2 1228.7 L1786.8 1222.7 L1788.5 1216.7 L1789.8 1221.3 L1791.1 1225.9 L1792.4 1230.5 L1793.7 1235.1 L1795.1 1239.7 L1796.7 1233.7 L1798.3 1227.6 L1800.0 1221.6 L1801.6 1225.5 L1803.3 1229.3 L1804.9 1233.1 L1806.6 1221.1 L1808.2 1209.0 L1809.9 1196.9 L1811.5 1207.6 L1813.2 1218.3 L1814.8 1218.4 L1816.5 1221.6 L1817.8 1217.7 L1819.1 1213.7 L1820.4 1209.8 L1821.7 1205.8 L1823.0 1201.9 L1824.7 1229.4 L1826.3 1257.0 L1828.0 1249.2 L1829.6 1241.4 L1830.9 1237.4 L1832.3 1233.5 L1833.6 1229.5 L1834.9 1225.6 L1836.2 1221.6 L1837.9 1221.2 L1839.5 1216.1 L1841.1 1215.0 L1842.8 1220.0 L1844.4 1224.9 L1846.1 1229.8 L1847.7 1233.7 L1849.4 1237.5 L1851.0 1241.4 L1852.7 1234.8 L1854.3 1228.2 L1856.0 1221.6 L1857.6 1217.8 L1859.3 1213.9 L1860.9 1210.1 L1862.5 1188.7 L1863.9 1191.4 L1865.2 1189.3 L1866.5 1192.7 L1867.8 1190.5 L1869.1 1193.6 L1870.8 1196.5 L1872.4 1196.0 L1874.1 1198.6 L1875.7 1198.9 L1877.4 1193.4 L1879.0 1193.6 L1880.7 1198.6 L1882.3 1185.4 L1883.9 1186.8 L1885.6 1185.5 L1887.2 1187.0 L1888.9 1191.5 L1890.5 1191.4 L1892.2 1195.3 L1893.5 1197.1 L1894.8 1195.4 L1896.1 1197.7 L1897.4 1195.8 L1898.8 1197.7 L1900.1 1198.7 L1901.5 1195.4 L1902.9 1197.6 L1904.2 1194.3 L1905.6 1196.9 L1907.0 1195.3 L1908.4 1195.0 L1909.7 1200.4 L1911.1 1197.7 L1912.5 1202.1 L1913.8 1201.2 L1915.2 1204.3 L1916.6 1204.6 L1918.0 1201.0 L1919.5 1202.7 L1920.9 1199.3 L1922.3 1201.2 L1923.7 1196.8 L1925.1 1197.7 L1926.5 1201.1 L1927.8 1201.9 L1929.2 1207.1 L1930.6 1206.5 L1932.0 1211.3 L1933.3 1212.6 L1934.6 1208.5 L1936.0 1210.2 L1937.3 1204.7 L1938.6 1205.5 L1939.9 1201.9 L1941.2 1202.9 L1942.5 1206.9 L1943.9 1205.4 L1945.2 1211.1 L1946.5 1210.9 L1947.9 1205.7 L1949.2 1200.5 L1950.6 1195.3 L1952.0 1200.8 L1953.4 1206.2 L1954.7 1211.7 L1956.0 1209.1 L1957.4 1210.3 L1958.7 1205.9 L1960.0 1206.0 L1961.3 1203.5 L1963.0 1211.7 L1964.6 1220.0 L1966.2 1216.8 L1967.9 1218.9 L1969.5 1215.0 L1971.2 1188.7 L1972.6 1186.8 L1973.9 1188.9 L1975.3 1187.9 L1977.8 1221.6 L1979.1 1217.2 L1980.4 1212.7 L1981.7 1208.3 L1983.0 1203.8 L1984.4 1199.4 L1986.0 1204.6 L1987.6 1209.8 L1989.3 1215.0 L1990.6 1211.4 L1991.9 1207.8 L1993.2 1204.2 L1994.6 1200.5 L1995.9 1196.9 L1997.5 1196.4 L1999.2 1199.4 L2001.1 1243.8 L2001.1 1255 L1594.2 1255 Z" fill="url(#gf7)"/><path d="M1594.2 1196.9 L1595.9 1198.6 L1597.5 1206.8 L1599.2 1204.1 L1600.8 1207.8 L1602.5 1205.2 L1604.1 1209.3 L1605.8 1213.4 L1607.4 1211.1 L1609.0 1214.5 L1610.7 1211.7 L1612.3 1208.0 L1614.0 1204.3 L1615.6 1209.0 L1617.3 1213.7 L1618.9 1218.3 L1620.6 1213.9 L1622.2 1215.5 L1623.9 1210.9 L1625.5 1211.5 L1627.2 1216.6 L1628.8 1215.9 L1630.1 1212.8 L1631.4 1214.9 L1632.7 1210.4 L1634.1 1211.8 L1635.4 1209.3 L1637.0 1214.6 L1638.7 1220.0 L1640.0 1217.1 L1641.3 1219.4 L1642.6 1216.5 L1643.9 1218.4 L1645.3 1216.7 L1646.9 1223.3 L1648.6 1229.8 L1650.2 1225.5 L1651.8 1221.1 L1653.5 1216.7 L1654.8 1214.2 L1656.1 1218.6 L1657.4 1215.3 L1658.8 1218.3 L1660.1 1215.9 L1661.7 1224.9 L1663.0 1220.8 L1664.4 1222.5 L1665.7 1215.7 L1667.0 1217.5 L1668.3 1213.4 L1670.0 1219.6 L1671.6 1225.7 L1672.9 1222.5 L1674.2 1222.9 L1675.5 1219.0 L1676.9 1219.5 L1678.2 1215.9 L1679.8 1221.6 L1681.5 1227.4 L1683.1 1221.2 L1684.8 1215.0 L1686.4 1220.8 L1688.1 1226.6 L1689.7 1229.8 L1691.3 1233.1 L1693.0 1236.4 L1694.3 1232.1 L1695.6 1227.9 L1696.9 1223.6 L1698.3 1219.3 L1699.6 1215.0 L1701.2 1220.0 L1702.9 1224.9 L1704.5 1219.1 L1706.2 1213.4 L1707.8 1207.6 L1709.5 1228.2 L1710.8 1228.0 L1712.1 1231.9 L1713.4 1229.4 L1714.7 1232.9 L1716.0 1231.5 L1717.7 1226.3 L1719.3 1221.1 L1721.0 1215.9 L1722.6 1224.5 L1724.3 1233.1 L1725.6 1229.7 L1727.0 1229.6 L1728.4 1223.7 L1729.8 1224.4 L1731.1 1220.0 L1732.5 1218.3 L1734.1 1221.6 L1735.8 1224.9 L1737.4 1228.2 L1739.1 1227.2 L1740.7 1221.6 L1742.4 1221.6 L1743.8 1229.8 L1745.1 1238.1 L1746.5 1246.3 L1747.9 1241.4 L1749.2 1236.4 L1750.6 1231.5 L1751.9 1235.7 L1753.2 1234.4 L1754.6 1238.5 L1755.9 1237.8 L1757.2 1241.4 L1758.5 1241.6 L1759.8 1237.0 L1761.1 1239.6 L1762.5 1234.1 L1763.8 1234.8 L1765.4 1228.6 L1767.1 1222.4 L1768.7 1241.4 L1770.1 1241.0 L1771.5 1236.6 L1772.8 1236.4 L1774.2 1232.4 L1775.6 1232.5 L1776.9 1229.8 L1778.6 1225.3 L1780.2 1220.8 L1781.9 1227.8 L1783.5 1234.8 L1785.2 1228.7 L1786.8 1222.7 L1788.5 1216.7 L1789.8 1221.3 L1791.1 1225.9 L1792.4 1230.5 L1793.7 1235.1 L1795.1 1239.7 L1796.7 1233.7 L1798.3 1227.6 L1800.0 1221.6 L1801.6 1225.5 L1803.3 1229.3 L1804.9 1233.1 L1806.6 1221.1 L1808.2 1209.0 L1809.9 1196.9 L1811.5 1207.6 L1813.2 1218.3 L1814.8 1218.4 L1816.5 1221.6 L1817.8 1217.7 L1819.1 1213.7 L1820.4 1209.8 L1821.7 1205.8 L1823.0 1201.9 L1824.7 1229.4 L1826.3 1257.0 L1828.0 1249.2 L1829.6 1241.4 L1830.9 1237.4 L1832.3 1233.5 L1833.6 1229.5 L1834.9 1225.6 L1836.2 1221.6 L1837.9 1221.2 L1839.5 1216.1 L1841.1 1215.0 L1842.8 1220.0 L1844.4 1224.9 L1846.1 1229.8 L1847.7 1233.7 L1849.4 1237.5 L1851.0 1241.4 L1852.7 1234.8 L1854.3 1228.2 L1856.0 1221.6 L1857.6 1217.8 L1859.3 1213.9 L1860.9 1210.1 L1862.5 1188.7 L1863.9 1191.4 L1865.2 1189.3 L1866.5 1192.7 L1867.8 1190.5 L1869.1 1193.6 L1870.8 1196.5 L1872.4 1196.0 L1874.1 1198.6 L1875.7 1198.9 L1877.4 1193.4 L1879.0 1193.6 L1880.7 1198.6 L1882.3 1185.4 L1883.9 1186.8 L1885.6 1185.5 L1887.2 1187.0 L1888.9 1191.5 L1890.5 1191.4 L1892.2 1195.3 L1893.5 1197.1 L1894.8 1195.4 L1896.1 1197.7 L1897.4 1195.8 L1898.8 1197.7 L1900.1 1198.7 L1901.5 1195.4 L1902.9 1197.6 L1904.2 1194.3 L1905.6 1196.9 L1907.0 1195.3 L1908.4 1195.0 L1909.7 1200.4 L1911.1 1197.7 L1912.5 1202.1 L1913.8 1201.2 L1915.2 1204.3 L1916.6 1204.6 L1918.0 1201.0 L1919.5 1202.7 L1920.9 1199.3 L1922.3 1201.2 L1923.7 1196.8 L1925.1 1197.7 L1926.5 1201.1 L1927.8 1201.9 L1929.2 1207.1 L1930.6 1206.5 L1932.0 1211.3 L1933.3 1212.6 L1934.6 1208.5 L1936.0 1210.2 L1937.3 1204.7 L1938.6 1205.5 L1939.9 1201.9 L1941.2 1202.9 L1942.5 1206.9 L1943.9 1205.4 L1945.2 1211.1 L1946.5 1210.9 L1947.9 1205.7 L1949.2 1200.5 L1950.6 1195.3 L1952.0 1200.8 L1953.4 1206.2 L1954.7 1211.7 L1956.0 1209.1 L1957.4 1210.3 L1958.7 1205.9 L1960.0 1206.0 L1961.3 1203.5 L1963.0 1211.7 L1964.6 1220.0 L1966.2 1216.8 L1967.9 1218.9 L1969.5 1215.0 L1971.2 1188.7 L1972.6 1186.8 L1973.9 1188.9 L1975.3 1187.9 L1977.8 1221.6 L1979.1 1217.2 L1980.4 1212.7 L1981.7 1208.3 L1983.0 1203.8 L1984.4 1199.4 L1986.0 1204.6 L1987.6 1209.8 L1989.3 1215.0 L1990.6 1211.4 L1991.9 1207.8 L1993.2 1204.2 L1994.6 1200.5 L1995.9 1196.9 L1997.5 1196.4 L1999.2 1199.4" fill="none" stroke="#8c1de6" stroke-width="5.4" stroke-linejoin="round" stroke-linecap="round"/><path d="M1999.2 1199.4 L2001.1 1243.8" fill="none" stroke="#8c1de6" stroke-width="3.6" stroke-linecap="butt"/><path d="M2242.2 1244.7 L2243.9 1233.1 L2245.5 1227.4 L2247.2 1221.6 L2248.8 1222.2 L2250.5 1228.3 L2252.1 1228.2 L2253.8 1224.2 L2255.4 1224.6 L2257.0 1220.0 L2258.7 1225.7 L2260.3 1231.5 L2262.0 1226.6 L2263.6 1221.6 L2265.3 1225.5 L2266.9 1229.3 L2268.6 1233.1 L2270.2 1227.1 L2271.9 1221.1 L2273.5 1215.0 L2275.2 1220.8 L2276.8 1226.6 L2278.1 1222.6 L2279.4 1224.1 L2280.7 1219.8 L2282.1 1222.1 L2283.4 1218.3 L2284.7 1216.8 L2286.0 1221.4 L2287.3 1219.4 L2288.7 1222.3 L2290.0 1221.6 L2291.6 1220.3 L2293.3 1222.6 L2294.9 1220.0 L2296.6 1208.4 L2298.2 1209.9 L2299.8 1215.0 L2301.5 1216.7 L2303.1 1210.9 L2304.8 1205.2 L2306.4 1205.3 L2308.1 1208.1 L2309.7 1208.4 L2311.4 1209.7 L2313.0 1213.7 L2314.7 1215.0 L2316.3 1211.2 L2318.0 1210.8 L2319.6 1206.8 L2320.9 1206.9 L2322.2 1212.4 L2323.5 1212.6 L2324.9 1217.2 L2326.2 1218.3 L2327.8 1212.8 L2329.5 1207.3 L2331.1 1201.9 L2332.8 1203.5 L2334.4 1209.5 L2336.1 1210.1 L2337.7 1204.6 L2339.3 1199.1 L2341.0 1193.6 L2342.6 1194.9 L2344.3 1200.6 L2345.9 1201.9 L2347.6 1209.3 L2349.2 1216.7 L2350.5 1219.3 L2351.9 1221.9 L2353.2 1224.6 L2354.5 1227.2 L2355.8 1229.8 L2357.5 1200.2 L2358.8 1203.5 L2360.1 1206.8 L2361.4 1210.1 L2362.7 1213.4 L2364.0 1216.7 L2365.7 1198.6 L2367.3 1204.6 L2369.0 1210.6 L2370.6 1216.7 L2372.3 1212.3 L2373.9 1207.9 L2375.6 1203.5 L2377.2 1209.0 L2378.9 1214.5 L2380.5 1220.0 L2381.8 1216.0 L2383.1 1212.1 L2384.5 1208.1 L2385.8 1204.2 L2387.1 1200.2 L2388.7 1207.6 L2390.4 1215.0 L2391.8 1208.4 L2393.1 1201.9 L2394.5 1195.3 L2395.9 1199.7 L2397.2 1204.1 L2398.6 1208.4 L2400.0 1205.5 L2401.4 1207.4 L2402.7 1202.0 L2404.1 1203.3 L2405.5 1198.5 L2406.8 1198.6 L2408.5 1201.9 L2410.1 1205.2 L2411.8 1208.4 L2413.4 1205.2 L2415.1 1201.9 L2416.7 1198.6 L2418.0 1202.7 L2419.3 1201.3 L2420.7 1207.7 L2422.0 1206.1 L2423.3 1210.1 L2424.6 1209.2 L2425.9 1204.2 L2427.3 1204.8 L2428.6 1199.7 L2429.9 1198.6 L2431.2 1201.8 L2432.5 1202.4 L2433.8 1207.0 L2435.2 1206.5 L2436.5 1210.1 L2437.8 1209.6 L2439.2 1203.6 L2440.6 1204.2 L2442.0 1198.6 L2443.3 1200.0 L2444.7 1195.3 L2446.3 1201.9 L2448.0 1208.4 L2449.6 1203.5 L2451.3 1204.9 L2452.9 1200.2 L2454.6 1200.4 L2456.2 1204.4 L2457.9 1203.5 L2458.2 1248.0 L2459.7 1234.8 L2461.2 1221.6 L2462.8 1220.4 L2464.5 1222.5 L2466.1 1221.6 L2467.7 1227.1 L2469.4 1232.6 L2471.0 1238.1 L2472.5 1204.3 L2474.0 1170.6 L2475.8 1182.9 L2477.6 1195.3 L2479.3 1189.5 L2480.9 1183.8 L2482.6 1195.3 L2484.2 1206.8 L2485.5 1203.2 L2486.8 1199.6 L2488.2 1195.9 L2489.5 1192.3 L2490.8 1188.7 L2492.1 1191.3 L2493.4 1194.0 L2494.7 1196.6 L2496.1 1199.2 L2497.4 1201.9 L2499.0 1192.0 L2500.7 1182.1 L2502.0 1185.1 L2503.3 1188.0 L2504.6 1191.0 L2505.9 1194.0 L2507.3 1196.9 L2508.9 1209.0 L2510.5 1221.1 L2512.2 1233.1 L2513.8 1229.8 L2515.5 1226.6 L2517.1 1223.3 L2518.8 1220.8 L2520.4 1221.0 L2522.1 1218.3 L2523.7 1229.8 L2525.4 1226.0 L2527.0 1222.2 L2528.7 1218.3 L2530.3 1234.8 L2531.7 1231.4 L2533.0 1232.7 L2534.4 1227.9 L2535.8 1229.3 L2537.2 1223.6 L2538.5 1223.3 L2539.9 1225.7 L2541.3 1223.4 L2542.6 1226.9 L2544.0 1224.2 L2545.4 1227.4 L2546.8 1226.6 L2548.1 1225.0 L2549.5 1226.7 L2550.9 1222.2 L2552.2 1224.9 L2553.6 1221.5 L2555.0 1221.6 L2556.4 1221.6 L2557.7 1217.8 L2559.1 1219.6 L2560.5 1214.9 L2561.8 1217.1 L2563.2 1213.4 L2564.6 1213.3 L2566.0 1219.1 L2567.5 1217.3 L2568.9 1222.1 L2570.3 1220.9 L2571.7 1227.0 L2573.1 1226.6 L2574.4 1223.6 L2575.7 1220.6 L2577.0 1217.7 L2578.4 1214.7 L2579.7 1211.7 L2581.1 1212.1 L2582.4 1217.0 L2583.8 1215.5 L2585.2 1220.4 L2586.5 1218.8 L2587.9 1221.6 L2589.3 1221.6 L2590.7 1215.7 L2592.0 1217.2 L2593.4 1213.2 L2594.8 1213.8 L2596.1 1210.1 L2598.6 1229.8 L2600.0 1222.2 L2601.4 1214.5 L2602.7 1206.8 L2604.0 1208.1 L2605.4 1212.8 L2606.7 1212.7 L2608.0 1217.1 L2609.3 1218.3 L2611.0 1213.9 L2612.6 1209.5 L2614.2 1205.2 L2615.9 1217.2 L2617.5 1229.3 L2619.2 1241.4 L2620.8 1226.0 L2622.5 1210.6 L2624.1 1195.3 L2625.8 1203.0 L2627.4 1210.6 L2629.1 1218.3 L2630.4 1215.7 L2631.7 1213.1 L2633.0 1210.4 L2634.3 1207.8 L2635.6 1205.2 L2637.0 1208.8 L2638.3 1212.4 L2639.6 1216.0 L2640.9 1219.6 L2642.2 1223.3 L2643.6 1220.3 L2645.0 1217.3 L2646.4 1214.4 L2647.8 1211.4 L2649.1 1208.4 L2649.1 1255 L2242.2 1255 Z" fill="url(#gf8)"/><path d="M2242.2 1244.7 L2243.9 1233.1 L2245.5 1227.4 L2247.2 1221.6 L2248.8 1222.2 L2250.5 1228.3 L2252.1 1228.2 L2253.8 1224.2 L2255.4 1224.6 L2257.0 1220.0 L2258.7 1225.7 L2260.3 1231.5 L2262.0 1226.6 L2263.6 1221.6 L2265.3 1225.5 L2266.9 1229.3 L2268.6 1233.1 L2270.2 1227.1 L2271.9 1221.1 L2273.5 1215.0 L2275.2 1220.8 L2276.8 1226.6 L2278.1 1222.6 L2279.4 1224.1 L2280.7 1219.8 L2282.1 1222.1 L2283.4 1218.3 L2284.7 1216.8 L2286.0 1221.4 L2287.3 1219.4 L2288.7 1222.3 L2290.0 1221.6 L2291.6 1220.3 L2293.3 1222.6 L2294.9 1220.0 L2296.6 1208.4 L2298.2 1209.9 L2299.8 1215.0 L2301.5 1216.7 L2303.1 1210.9 L2304.8 1205.2 L2306.4 1205.3 L2308.1 1208.1 L2309.7 1208.4 L2311.4 1209.7 L2313.0 1213.7 L2314.7 1215.0 L2316.3 1211.2 L2318.0 1210.8 L2319.6 1206.8 L2320.9 1206.9 L2322.2 1212.4 L2323.5 1212.6 L2324.9 1217.2 L2326.2 1218.3 L2327.8 1212.8 L2329.5 1207.3 L2331.1 1201.9 L2332.8 1203.5 L2334.4 1209.5 L2336.1 1210.1 L2337.7 1204.6 L2339.3 1199.1 L2341.0 1193.6 L2342.6 1194.9 L2344.3 1200.6 L2345.9 1201.9 L2347.6 1209.3 L2349.2 1216.7 L2350.5 1219.3 L2351.9 1221.9 L2353.2 1224.6 L2354.5 1227.2 L2355.8 1229.8 L2357.5 1200.2 L2358.8 1203.5 L2360.1 1206.8 L2361.4 1210.1 L2362.7 1213.4 L2364.0 1216.7 L2365.7 1198.6 L2367.3 1204.6 L2369.0 1210.6 L2370.6 1216.7 L2372.3 1212.3 L2373.9 1207.9 L2375.6 1203.5 L2377.2 1209.0 L2378.9 1214.5 L2380.5 1220.0 L2381.8 1216.0 L2383.1 1212.1 L2384.5 1208.1 L2385.8 1204.2 L2387.1 1200.2 L2388.7 1207.6 L2390.4 1215.0 L2391.8 1208.4 L2393.1 1201.9 L2394.5 1195.3 L2395.9 1199.7 L2397.2 1204.1 L2398.6 1208.4 L2400.0 1205.5 L2401.4 1207.4 L2402.7 1202.0 L2404.1 1203.3 L2405.5 1198.5 L2406.8 1198.6 L2408.5 1201.9 L2410.1 1205.2 L2411.8 1208.4 L2413.4 1205.2 L2415.1 1201.9 L2416.7 1198.6 L2418.0 1202.7 L2419.3 1201.3 L2420.7 1207.7 L2422.0 1206.1 L2423.3 1210.1 L2424.6 1209.2 L2425.9 1204.2 L2427.3 1204.8 L2428.6 1199.7 L2429.9 1198.6 L2431.2 1201.8 L2432.5 1202.4 L2433.8 1207.0 L2435.2 1206.5 L2436.5 1210.1 L2437.8 1209.6 L2439.2 1203.6 L2440.6 1204.2 L2442.0 1198.6 L2443.3 1200.0 L2444.7 1195.3 L2446.3 1201.9 L2448.0 1208.4 L2449.6 1203.5 L2451.3 1204.9 L2452.9 1200.2 L2454.6 1200.4 L2456.2 1204.4 L2457.9 1203.5 L2458.2 1248.0 L2459.7 1234.8 L2461.2 1221.6 L2462.8 1220.4 L2464.5 1222.5 L2466.1 1221.6 L2467.7 1227.1 L2469.4 1232.6 L2471.0 1238.1 L2472.5 1204.3 L2474.0 1170.6 L2475.8 1182.9 L2477.6 1195.3 L2479.3 1189.5 L2480.9 1183.8 L2482.6 1195.3 L2484.2 1206.8 L2485.5 1203.2 L2486.8 1199.6 L2488.2 1195.9 L2489.5 1192.3 L2490.8 1188.7 L2492.1 1191.3 L2493.4 1194.0 L2494.7 1196.6 L2496.1 1199.2 L2497.4 1201.9 L2499.0 1192.0 L2500.7 1182.1 L2502.0 1185.1 L2503.3 1188.0 L2504.6 1191.0 L2505.9 1194.0 L2507.3 1196.9 L2508.9 1209.0 L2510.5 1221.1 L2512.2 1233.1 L2513.8 1229.8 L2515.5 1226.6 L2517.1 1223.3 L2518.8 1220.8 L2520.4 1221.0 L2522.1 1218.3 L2523.7 1229.8 L2525.4 1226.0 L2527.0 1222.2 L2528.7 1218.3 L2530.3 1234.8 L2531.7 1231.4 L2533.0 1232.7 L2534.4 1227.9 L2535.8 1229.3 L2537.2 1223.6 L2538.5 1223.3 L2539.9 1225.7 L2541.3 1223.4 L2542.6 1226.9 L2544.0 1224.2 L2545.4 1227.4 L2546.8 1226.6 L2548.1 1225.0 L2549.5 1226.7 L2550.9 1222.2 L2552.2 1224.9 L2553.6 1221.5 L2555.0 1221.6 L2556.4 1221.6 L2557.7 1217.8 L2559.1 1219.6 L2560.5 1214.9 L2561.8 1217.1 L2563.2 1213.4 L2564.6 1213.3 L2566.0 1219.1 L2567.5 1217.3 L2568.9 1222.1 L2570.3 1220.9 L2571.7 1227.0 L2573.1 1226.6 L2574.4 1223.6 L2575.7 1220.6 L2577.0 1217.7 L2578.4 1214.7 L2579.7 1211.7 L2581.1 1212.1 L2582.4 1217.0 L2583.8 1215.5 L2585.2 1220.4 L2586.5 1218.8 L2587.9 1221.6 L2589.3 1221.6 L2590.7 1215.7 L2592.0 1217.2 L2593.4 1213.2 L2594.8 1213.8 L2596.1 1210.1 L2598.6 1229.8 L2600.0 1222.2 L2601.4 1214.5 L2602.7 1206.8 L2604.0 1208.1 L2605.4 1212.8 L2606.7 1212.7 L2608.0 1217.1 L2609.3 1218.3 L2611.0 1213.9 L2612.6 1209.5 L2614.2 1205.2 L2615.9 1217.2 L2617.5 1229.3 L2619.2 1241.4 L2620.8 1226.0 L2622.5 1210.6 L2624.1 1195.3 L2625.8 1203.0 L2627.4 1210.6 L2629.1 1218.3 L2630.4 1215.7 L2631.7 1213.1 L2633.0 1210.4 L2634.3 1207.8 L2635.6 1205.2 L2637.0 1208.8 L2638.3 1212.4 L2639.6 1216.0 L2640.9 1219.6 L2642.2 1223.3 L2643.6 1220.3 L2645.0 1217.3 L2646.4 1214.4 L2647.8 1211.4 L2649.1 1208.4" fill="none" stroke="#8c1de6" stroke-width="5.4" stroke-linejoin="round" stroke-linecap="butt"/><path d="M2890.2 1244.7 L2891.9 1238.1 L2893.5 1234.8 L2895.2 1231.5 L2896.5 1231.1 L2897.8 1234.3 L2899.1 1232.6 L2900.4 1235.7 L2901.8 1234.8 L2903.1 1232.8 L2904.4 1237.6 L2905.7 1234.2 L2907.0 1238.2 L2908.3 1236.4 L2909.7 1233.4 L2911.0 1235.5 L2912.3 1232.6 L2913.6 1233.5 L2914.9 1231.5 L2916.2 1229.3 L2917.6 1232.4 L2918.9 1229.0 L2920.2 1231.5 L2921.5 1229.0 L2923.2 1230.2 L2924.8 1234.8 L2926.1 1235.6 L2927.4 1231.9 L2928.7 1233.8 L2930.1 1230.4 L2931.4 1231.5 L2933.0 1232.2 L2934.7 1228.2 L2936.0 1227.9 L2937.3 1231.4 L2938.6 1228.7 L2939.9 1232.9 L2941.3 1231.5 L2943.7 1220.0 L2945.1 1222.7 L2946.5 1225.5 L2947.8 1228.2 L2949.2 1227.6 L2950.6 1231.9 L2952.0 1230.7 L2954.4 1223.3 L2956.1 1220.7 L2957.7 1222.3 L2959.4 1220.0 L2961.0 1223.0 L2962.7 1226.0 L2964.3 1229.0 L2966.0 1223.7 L2967.6 1218.3 L2969.2 1221.9 L2970.9 1225.5 L2972.5 1229.0 L2974.2 1224.9 L2975.8 1220.8 L2977.5 1216.7 L2979.1 1218.2 L2980.8 1223.6 L2982.4 1224.9 L2983.7 1222.3 L2985.0 1219.6 L2986.4 1217.0 L2987.7 1214.4 L2989.0 1211.7 L2990.3 1215.0 L2991.6 1218.3 L2992.9 1221.6 L2994.3 1224.9 L2995.6 1228.2 L2997.2 1222.4 L2998.9 1216.7 L3000.5 1222.7 L3002.2 1228.7 L3003.8 1234.8 L3005.5 1216.7 L3006.8 1216.4 L3008.1 1221.9 L3009.4 1221.1 L3010.7 1225.7 L3012.0 1226.6 L3013.7 1213.4 L3015.3 1217.8 L3017.0 1222.2 L3018.6 1226.6 L3020.3 1220.0 L3021.9 1213.4 L3023.2 1216.3 L3024.6 1219.3 L3025.9 1222.3 L3027.2 1225.2 L3028.5 1228.2 L3029.9 1224.7 L3031.2 1225.4 L3032.6 1219.9 L3034.0 1220.0 L3035.4 1214.0 L3036.7 1213.4 L3038.2 1212.6 L3039.6 1207.2 L3041.1 1209.2 L3042.5 1205.2 L3043.9 1209.0 L3045.2 1212.8 L3046.6 1216.7 L3047.9 1212.5 L3049.2 1212.8 L3050.6 1207.8 L3051.9 1209.6 L3053.2 1205.2 L3054.5 1207.8 L3055.8 1210.4 L3057.1 1213.1 L3058.5 1215.7 L3059.8 1218.3 L3061.4 1215.0 L3063.1 1211.7 L3064.7 1208.4 L3066.0 1207.9 L3067.3 1213.2 L3068.7 1212.2 L3070.0 1216.1 L3071.3 1216.7 L3072.9 1216.4 L3074.6 1222.1 L3076.2 1221.6 L3077.9 1216.7 L3079.5 1211.7 L3080.8 1212.5 L3082.2 1216.6 L3083.5 1215.3 L3084.8 1219.3 L3086.1 1220.0 L3087.4 1217.3 L3088.7 1214.7 L3090.1 1212.1 L3091.4 1209.4 L3092.7 1206.8 L3094.3 1212.6 L3096.0 1218.3 L3097.6 1213.9 L3099.3 1215.6 L3100.9 1211.7 L3102.6 1212.0 L3104.2 1217.1 L3105.9 1216.7 L3106.2 1248.0 L3107.7 1237.3 L3109.2 1226.6 L3110.5 1224.4 L3111.8 1228.5 L3113.1 1224.3 L3114.4 1227.5 L3115.7 1226.6 L3117.4 1234.0 L3119.0 1241.4 L3120.5 1210.9 L3122.0 1180.5 L3123.8 1190.3 L3125.6 1200.2 L3127.3 1195.8 L3128.9 1195.3 L3130.6 1200.2 L3132.2 1205.2 L3133.9 1210.1 L3135.5 1211.5 L3137.1 1208.8 L3138.8 1210.1 L3140.4 1205.2 L3142.1 1200.2 L3143.4 1199.7 L3144.7 1193.3 L3146.0 1194.4 L3147.3 1189.9 L3148.7 1188.7 L3150.3 1198.6 L3152.0 1208.4 L3153.6 1207.2 L3155.3 1203.5 L3156.9 1216.1 L3158.5 1228.7 L3160.2 1241.4 L3161.6 1237.4 L3162.9 1238.9 L3164.3 1234.8 L3165.7 1235.6 L3167.0 1232.3 L3168.4 1231.5 L3170.1 1234.8 L3171.7 1236.4 L3173.4 1233.9 L3175.0 1234.6 L3176.7 1231.5 L3178.0 1231.8 L3179.3 1237.8 L3180.6 1235.9 L3181.9 1240.9 L3183.2 1241.4 L3184.6 1239.3 L3186.0 1240.5 L3187.3 1237.6 L3188.7 1240.0 L3190.1 1235.1 L3191.5 1236.4 L3192.9 1236.6 L3194.3 1232.9 L3195.8 1236.4 L3197.2 1232.9 L3198.7 1235.1 L3200.1 1231.1 L3201.5 1232.9 L3203.0 1231.5 L3204.4 1228.8 L3205.7 1231.7 L3207.1 1227.7 L3208.5 1231.4 L3209.8 1227.2 L3211.2 1228.2 L3212.6 1229.5 L3214.0 1228.0 L3215.5 1230.3 L3216.9 1228.1 L3218.3 1231.5 L3219.7 1229.0 L3221.1 1231.5 L3222.5 1231.9 L3223.8 1225.4 L3225.2 1226.6 L3226.6 1222.7 L3228.0 1223.0 L3229.3 1220.0 L3230.6 1219.8 L3232.0 1224.0 L3233.3 1224.0 L3234.6 1227.9 L3235.9 1228.2 L3237.2 1224.5 L3238.5 1226.6 L3239.9 1222.3 L3241.2 1223.1 L3242.5 1220.0 L3243.9 1224.4 L3245.2 1228.7 L3246.6 1233.1 L3248.0 1229.8 L3249.5 1226.6 L3250.9 1223.3 L3252.4 1220.0 L3254.0 1220.5 L3255.7 1225.1 L3257.3 1226.6 L3259.0 1220.8 L3260.6 1215.0 L3261.9 1220.6 L3263.2 1226.2 L3264.6 1231.8 L3265.9 1237.4 L3267.2 1243.0 L3268.6 1234.6 L3270.1 1226.1 L3271.5 1217.7 L3272.9 1209.3 L3274.3 1215.6 L3275.7 1221.9 L3277.1 1228.2 L3278.4 1225.6 L3279.7 1222.9 L3281.0 1220.3 L3282.3 1217.7 L3283.6 1215.0 L3285.0 1218.0 L3286.4 1221.1 L3287.8 1224.1 L3289.1 1227.1 L3290.5 1230.1 L3291.9 1233.1 L3293.2 1229.8 L3294.5 1226.6 L3295.8 1223.3 L3297.1 1220.0 L3297.5 1262.8 L3297.5 1255 L2890.2 1255 Z" fill="url(#gf9)"/><path d="M2890.2 1244.7 L2891.9 1238.1 L2893.5 1234.8 L2895.2 1231.5 L2896.5 1231.1 L2897.8 1234.3 L2899.1 1232.6 L2900.4 1235.7 L2901.8 1234.8 L2903.1 1232.8 L2904.4 1237.6 L2905.7 1234.2 L2907.0 1238.2 L2908.3 1236.4 L2909.7 1233.4 L2911.0 1235.5 L2912.3 1232.6 L2913.6 1233.5 L2914.9 1231.5 L2916.2 1229.3 L2917.6 1232.4 L2918.9 1229.0 L2920.2 1231.5 L2921.5 1229.0 L2923.2 1230.2 L2924.8 1234.8 L2926.1 1235.6 L2927.4 1231.9 L2928.7 1233.8 L2930.1 1230.4 L2931.4 1231.5 L2933.0 1232.2 L2934.7 1228.2 L2936.0 1227.9 L2937.3 1231.4 L2938.6 1228.7 L2939.9 1232.9 L2941.3 1231.5 L2943.7 1220.0 L2945.1 1222.7 L2946.5 1225.5 L2947.8 1228.2 L2949.2 1227.6 L2950.6 1231.9 L2952.0 1230.7 L2954.4 1223.3 L2956.1 1220.7 L2957.7 1222.3 L2959.4 1220.0 L2961.0 1223.0 L2962.7 1226.0 L2964.3 1229.0 L2966.0 1223.7 L2967.6 1218.3 L2969.2 1221.9 L2970.9 1225.5 L2972.5 1229.0 L2974.2 1224.9 L2975.8 1220.8 L2977.5 1216.7 L2979.1 1218.2 L2980.8 1223.6 L2982.4 1224.9 L2983.7 1222.3 L2985.0 1219.6 L2986.4 1217.0 L2987.7 1214.4 L2989.0 1211.7 L2990.3 1215.0 L2991.6 1218.3 L2992.9 1221.6 L2994.3 1224.9 L2995.6 1228.2 L2997.2 1222.4 L2998.9 1216.7 L3000.5 1222.7 L3002.2 1228.7 L3003.8 1234.8 L3005.5 1216.7 L3006.8 1216.4 L3008.1 1221.9 L3009.4 1221.1 L3010.7 1225.7 L3012.0 1226.6 L3013.7 1213.4 L3015.3 1217.8 L3017.0 1222.2 L3018.6 1226.6 L3020.3 1220.0 L3021.9 1213.4 L3023.2 1216.3 L3024.6 1219.3 L3025.9 1222.3 L3027.2 1225.2 L3028.5 1228.2 L3029.9 1224.7 L3031.2 1225.4 L3032.6 1219.9 L3034.0 1220.0 L3035.4 1214.0 L3036.7 1213.4 L3038.2 1212.6 L3039.6 1207.2 L3041.1 1209.2 L3042.5 1205.2 L3043.9 1209.0 L3045.2 1212.8 L3046.6 1216.7 L3047.9 1212.5 L3049.2 1212.8 L3050.6 1207.8 L3051.9 1209.6 L3053.2 1205.2 L3054.5 1207.8 L3055.8 1210.4 L3057.1 1213.1 L3058.5 1215.7 L3059.8 1218.3 L3061.4 1215.0 L3063.1 1211.7 L3064.7 1208.4 L3066.0 1207.9 L3067.3 1213.2 L3068.7 1212.2 L3070.0 1216.1 L3071.3 1216.7 L3072.9 1216.4 L3074.6 1222.1 L3076.2 1221.6 L3077.9 1216.7 L3079.5 1211.7 L3080.8 1212.5 L3082.2 1216.6 L3083.5 1215.3 L3084.8 1219.3 L3086.1 1220.0 L3087.4 1217.3 L3088.7 1214.7 L3090.1 1212.1 L3091.4 1209.4 L3092.7 1206.8 L3094.3 1212.6 L3096.0 1218.3 L3097.6 1213.9 L3099.3 1215.6 L3100.9 1211.7 L3102.6 1212.0 L3104.2 1217.1 L3105.9 1216.7 L3106.2 1248.0 L3107.7 1237.3 L3109.2 1226.6 L3110.5 1224.4 L3111.8 1228.5 L3113.1 1224.3 L3114.4 1227.5 L3115.7 1226.6 L3117.4 1234.0 L3119.0 1241.4 L3120.5 1210.9 L3122.0 1180.5 L3123.8 1190.3 L3125.6 1200.2 L3127.3 1195.8 L3128.9 1195.3 L3130.6 1200.2 L3132.2 1205.2 L3133.9 1210.1 L3135.5 1211.5 L3137.1 1208.8 L3138.8 1210.1 L3140.4 1205.2 L3142.1 1200.2 L3143.4 1199.7 L3144.7 1193.3 L3146.0 1194.4 L3147.3 1189.9 L3148.7 1188.7 L3150.3 1198.6 L3152.0 1208.4 L3153.6 1207.2 L3155.3 1203.5 L3156.9 1216.1 L3158.5 1228.7 L3160.2 1241.4 L3161.6 1237.4 L3162.9 1238.9 L3164.3 1234.8 L3165.7 1235.6 L3167.0 1232.3 L3168.4 1231.5 L3170.1 1234.8 L3171.7 1236.4 L3173.4 1233.9 L3175.0 1234.6 L3176.7 1231.5 L3178.0 1231.8 L3179.3 1237.8 L3180.6 1235.9 L3181.9 1240.9 L3183.2 1241.4 L3184.6 1239.3 L3186.0 1240.5 L3187.3 1237.6 L3188.7 1240.0 L3190.1 1235.1 L3191.5 1236.4 L3192.9 1236.6 L3194.3 1232.9 L3195.8 1236.4 L3197.2 1232.9 L3198.7 1235.1 L3200.1 1231.1 L3201.5 1232.9 L3203.0 1231.5 L3204.4 1228.8 L3205.7 1231.7 L3207.1 1227.7 L3208.5 1231.4 L3209.8 1227.2 L3211.2 1228.2 L3212.6 1229.5 L3214.0 1228.0 L3215.5 1230.3 L3216.9 1228.1 L3218.3 1231.5 L3219.7 1229.0 L3221.1 1231.5 L3222.5 1231.9 L3223.8 1225.4 L3225.2 1226.6 L3226.6 1222.7 L3228.0 1223.0 L3229.3 1220.0 L3230.6 1219.8 L3232.0 1224.0 L3233.3 1224.0 L3234.6 1227.9 L3235.9 1228.2 L3237.2 1224.5 L3238.5 1226.6 L3239.9 1222.3 L3241.2 1223.1 L3242.5 1220.0 L3243.9 1224.4 L3245.2 1228.7 L3246.6 1233.1 L3248.0 1229.8 L3249.5 1226.6 L3250.9 1223.3 L3252.4 1220.0 L3254.0 1220.5 L3255.7 1225.1 L3257.3 1226.6 L3259.0 1220.8 L3260.6 1215.0 L3261.9 1220.6 L3263.2 1226.2 L3264.6 1231.8 L3265.9 1237.4 L3267.2 1243.0 L3268.6 1234.6 L3270.1 1226.1 L3271.5 1217.7 L3272.9 1209.3 L3274.3 1215.6 L3275.7 1221.9 L3277.1 1228.2 L3278.4 1225.6 L3279.7 1222.9 L3281.0 1220.3 L3282.3 1217.7 L3283.6 1215.0 L3285.0 1218.0 L3286.4 1221.1 L3287.8 1224.1 L3289.1 1227.1 L3290.5 1230.1 L3291.9 1233.1 L3293.2 1229.8 L3294.5 1226.6 L3295.8 1223.3 L3297.1 1220.0" fill="none" stroke="#8c1de6" stroke-width="5.4" stroke-linejoin="round" stroke-linecap="round"/><path d="M3297.1 1220.0 L3297.5 1262.8" fill="none" stroke="#8c1de6" stroke-width="3.6" stroke-linecap="butt"/><path d="M298.2 1706.9 L299.9 1703.4 L301.5 1705.8 L303.2 1702.0 L304.8 1697.0 L306.1 1695.4 L307.4 1696.9 L308.8 1694.1 L310.1 1696.0 L311.4 1694.5 L312.7 1692.3 L314.0 1694.8 L315.3 1691.0 L316.7 1693.4 L318.0 1690.4 L319.6 1689.4 L321.3 1693.1 L322.9 1692.1 L324.6 1685.5 L326.2 1688.8 L327.9 1692.1 L329.5 1695.4 L331.2 1692.1 L332.8 1688.8 L334.1 1686.9 L335.4 1691.5 L336.7 1689.3 L338.1 1692.3 L339.4 1691.3 L340.8 1688.8 L342.1 1691.8 L343.5 1689.2 L344.9 1691.2 L346.2 1687.5 L347.6 1688.8 L349.3 1691.9 L350.9 1690.7 L352.6 1694.5 L353.9 1694.7 L355.3 1691.3 L356.7 1694.3 L358.0 1688.9 L359.4 1692.5 L360.8 1689.6 L362.1 1687.7 L363.4 1692.5 L364.7 1690.0 L366.0 1693.0 L367.4 1692.1 L368.7 1690.2 L370.1 1692.8 L371.5 1689.9 L372.9 1694.4 L374.2 1691.3 L375.6 1692.1 L376.9 1693.4 L378.2 1689.7 L379.5 1692.8 L380.9 1689.9 L382.2 1690.4 L383.5 1694.3 L384.8 1692.6 L386.1 1696.2 L387.4 1695.1 L388.8 1698.7 L390.4 1697.9 L392.1 1693.7 L393.7 1694.2 L395.3 1698.6 L397.0 1698.7 L398.4 1696.6 L399.7 1697.7 L401.1 1693.5 L402.5 1695.7 L403.9 1692.3 L405.2 1692.9 L406.5 1697.2 L407.9 1696.1 L409.2 1699.8 L410.5 1699.0 L411.8 1702.8 L413.5 1698.2 L415.1 1693.7 L416.4 1697.0 L417.7 1694.2 L419.1 1699.9 L420.4 1698.2 L421.7 1700.3 L423.3 1698.9 L425.0 1694.2 L426.6 1693.7 L428.3 1696.6 L429.9 1695.4 L431.6 1699.5 L433.2 1699.6 L434.9 1693.0 L436.5 1692.9 L437.9 1695.5 L439.2 1692.9 L440.6 1696.4 L442.0 1693.0 L443.4 1696.4 L444.7 1695.4 L446.0 1694.3 L447.4 1698.5 L448.7 1696.9 L450.0 1700.9 L451.3 1701.1 L452.8 1700.4 L454.2 1703.0 L455.6 1700.3 L457.1 1703.5 L458.5 1699.5 L460.0 1702.9 L461.4 1700.4 L462.8 1701.1 L464.2 1702.3 L465.6 1699.8 L467.0 1701.4 L468.3 1699.0 L469.7 1701.5 L471.1 1699.5 L472.4 1697.0 L473.8 1701.0 L475.2 1697.0 L476.6 1699.5 L477.9 1696.3 L479.3 1697.0 L480.7 1699.1 L482.0 1697.4 L483.4 1700.1 L484.8 1697.4 L486.2 1701.5 L487.5 1700.3 L488.9 1699.1 L490.3 1701.9 L491.6 1700.0 L493.0 1702.9 L494.4 1699.4 L495.8 1702.0 L497.1 1702.2 L498.5 1698.9 L499.9 1701.0 L501.2 1697.1 L502.6 1699.6 L504.0 1697.8 L505.6 1696.6 L507.3 1701.1 L508.9 1701.1 L510.5 1699.0 L512.0 1702.2 L513.5 1700.3 L514.2 1641.0 L515.7 1660.8 L517.2 1680.6 L518.5 1677.8 L519.8 1680.1 L521.1 1674.9 L522.4 1676.9 L523.7 1674.0 L525.4 1653.4 L527.0 1632.8 L529.5 1707.7 L531.0 1705.1 L532.5 1707.4 L534.0 1704.3 L535.4 1706.6 L536.9 1703.6 L538.3 1701.5 L539.7 1704.9 L541.0 1702.4 L542.4 1705.2 L543.8 1701.5 L545.1 1702.8 L546.5 1705.0 L547.9 1702.5 L549.3 1705.2 L550.6 1701.8 L552.0 1705.0 L553.4 1704.4 L554.8 1703.5 L556.2 1706.4 L557.6 1702.0 L559.0 1705.3 L560.4 1703.0 L561.8 1705.2 L563.3 1703.6 L564.9 1689.2 L566.5 1674.8 L568.0 1674.7 L569.4 1678.3 L570.8 1677.4 L572.2 1681.5 L573.6 1680.1 L575.0 1684.8 L576.4 1683.8 L578.1 1673.1 L579.7 1676.2 L581.4 1679.2 L583.0 1682.2 L584.7 1672.7 L586.3 1663.3 L587.9 1662.7 L589.6 1666.8 L591.2 1665.7 L592.9 1671.5 L594.5 1677.3 L595.8 1675.3 L597.2 1676.9 L598.5 1673.1 L599.8 1674.2 L601.1 1672.3 L602.5 1672.5 L603.9 1675.7 L605.2 1674.0 L606.6 1678.1 L608.0 1677.0 L609.3 1679.7 L611.0 1673.1 L612.4 1675.5 L613.7 1673.0 L615.1 1676.6 L616.5 1674.0 L617.8 1678.3 L619.2 1677.3 L620.6 1675.3 L622.0 1677.6 L623.5 1673.6 L624.9 1675.5 L626.3 1670.9 L627.7 1673.9 L629.1 1670.7 L630.4 1673.3 L631.7 1675.9 L633.0 1678.6 L634.4 1681.2 L635.7 1683.8 L637.1 1680.9 L638.4 1682.3 L639.8 1678.7 L641.2 1680.4 L642.5 1675.3 L643.9 1675.6 L645.2 1676.4 L646.5 1672.6 L647.9 1675.9 L649.2 1672.5 L650.5 1674.0 L651.9 1672.7 L653.2 1667.2 L654.6 1666.6 L656.0 1672.3 L657.4 1678.1 L658.7 1683.8 L660.0 1684.9 L661.4 1682.1 L662.7 1683.5 L664.0 1679.8 L665.3 1681.4 L667.0 1685.3 L668.6 1685.1 L670.2 1688.8 L671.9 1690.4 L673.5 1687.0 L675.2 1688.8 L676.0 1637.8 L677.7 1633.2 L679.3 1628.7 L681.8 1692.1 L683.1 1689.6 L684.4 1687.1 L685.7 1684.7 L687.0 1682.2 L688.4 1679.7 L690.0 1683.3 L691.6 1684.3 L693.3 1688.0 L694.6 1685.3 L695.9 1682.7 L697.2 1680.1 L698.6 1677.4 L699.9 1674.8 L701.5 1678.5 L703.2 1682.2 L705.1 1715.9 L705.1 1709 L298.2 1709 Z" fill="url(#gf10)"/><path d="M298.2 1706.9 L299.9 1703.4 L301.5 1705.8 L303.2 1702.0 L304.8 1697.0 L306.1 1695.4 L307.4 1696.9 L308.8 1694.1 L310.1 1696.0 L311.4 1694.5 L312.7 1692.3 L314.0 1694.8 L315.3 1691.0 L316.7 1693.4 L318.0 1690.4 L319.6 1689.4 L321.3 1693.1 L322.9 1692.1 L324.6 1685.5 L326.2 1688.8 L327.9 1692.1 L329.5 1695.4 L331.2 1692.1 L332.8 1688.8 L334.1 1686.9 L335.4 1691.5 L336.7 1689.3 L338.1 1692.3 L339.4 1691.3 L340.8 1688.8 L342.1 1691.8 L343.5 1689.2 L344.9 1691.2 L346.2 1687.5 L347.6 1688.8 L349.3 1691.9 L350.9 1690.7 L352.6 1694.5 L353.9 1694.7 L355.3 1691.3 L356.7 1694.3 L358.0 1688.9 L359.4 1692.5 L360.8 1689.6 L362.1 1687.7 L363.4 1692.5 L364.7 1690.0 L366.0 1693.0 L367.4 1692.1 L368.7 1690.2 L370.1 1692.8 L371.5 1689.9 L372.9 1694.4 L374.2 1691.3 L375.6 1692.1 L376.9 1693.4 L378.2 1689.7 L379.5 1692.8 L380.9 1689.9 L382.2 1690.4 L383.5 1694.3 L384.8 1692.6 L386.1 1696.2 L387.4 1695.1 L388.8 1698.7 L390.4 1697.9 L392.1 1693.7 L393.7 1694.2 L395.3 1698.6 L397.0 1698.7 L398.4 1696.6 L399.7 1697.7 L401.1 1693.5 L402.5 1695.7 L403.9 1692.3 L405.2 1692.9 L406.5 1697.2 L407.9 1696.1 L409.2 1699.8 L410.5 1699.0 L411.8 1702.8 L413.5 1698.2 L415.1 1693.7 L416.4 1697.0 L417.7 1694.2 L419.1 1699.9 L420.4 1698.2 L421.7 1700.3 L423.3 1698.9 L425.0 1694.2 L426.6 1693.7 L428.3 1696.6 L429.9 1695.4 L431.6 1699.5 L433.2 1699.6 L434.9 1693.0 L436.5 1692.9 L437.9 1695.5 L439.2 1692.9 L440.6 1696.4 L442.0 1693.0 L443.4 1696.4 L444.7 1695.4 L446.0 1694.3 L447.4 1698.5 L448.7 1696.9 L450.0 1700.9 L451.3 1701.1 L452.8 1700.4 L454.2 1703.0 L455.6 1700.3 L457.1 1703.5 L458.5 1699.5 L460.0 1702.9 L461.4 1700.4 L462.8 1701.1 L464.2 1702.3 L465.6 1699.8 L467.0 1701.4 L468.3 1699.0 L469.7 1701.5 L471.1 1699.5 L472.4 1697.0 L473.8 1701.0 L475.2 1697.0 L476.6 1699.5 L477.9 1696.3 L479.3 1697.0 L480.7 1699.1 L482.0 1697.4 L483.4 1700.1 L484.8 1697.4 L486.2 1701.5 L487.5 1700.3 L488.9 1699.1 L490.3 1701.9 L491.6 1700.0 L493.0 1702.9 L494.4 1699.4 L495.8 1702.0 L497.1 1702.2 L498.5 1698.9 L499.9 1701.0 L501.2 1697.1 L502.6 1699.6 L504.0 1697.8 L505.6 1696.6 L507.3 1701.1 L508.9 1701.1 L510.5 1699.0 L512.0 1702.2 L513.5 1700.3 L514.2 1641.0 L515.7 1660.8 L517.2 1680.6 L518.5 1677.8 L519.8 1680.1 L521.1 1674.9 L522.4 1676.9 L523.7 1674.0 L525.4 1653.4 L527.0 1632.8 L529.5 1707.7 L531.0 1705.1 L532.5 1707.4 L534.0 1704.3 L535.4 1706.6 L536.9 1703.6 L538.3 1701.5 L539.7 1704.9 L541.0 1702.4 L542.4 1705.2 L543.8 1701.5 L545.1 1702.8 L546.5 1705.0 L547.9 1702.5 L549.3 1705.2 L550.6 1701.8 L552.0 1705.0 L553.4 1704.4 L554.8 1703.5 L556.2 1706.4 L557.6 1702.0 L559.0 1705.3 L560.4 1703.0 L561.8 1705.2 L563.3 1703.6 L564.9 1689.2 L566.5 1674.8 L568.0 1674.7 L569.4 1678.3 L570.8 1677.4 L572.2 1681.5 L573.6 1680.1 L575.0 1684.8 L576.4 1683.8 L578.1 1673.1 L579.7 1676.2 L581.4 1679.2 L583.0 1682.2 L584.7 1672.7 L586.3 1663.3 L587.9 1662.7 L589.6 1666.8 L591.2 1665.7 L592.9 1671.5 L594.5 1677.3 L595.8 1675.3 L597.2 1676.9 L598.5 1673.1 L599.8 1674.2 L601.1 1672.3 L602.5 1672.5 L603.9 1675.7 L605.2 1674.0 L606.6 1678.1 L608.0 1677.0 L609.3 1679.7 L611.0 1673.1 L612.4 1675.5 L613.7 1673.0 L615.1 1676.6 L616.5 1674.0 L617.8 1678.3 L619.2 1677.3 L620.6 1675.3 L622.0 1677.6 L623.5 1673.6 L624.9 1675.5 L626.3 1670.9 L627.7 1673.9 L629.1 1670.7 L630.4 1673.3 L631.7 1675.9 L633.0 1678.6 L634.4 1681.2 L635.7 1683.8 L637.1 1680.9 L638.4 1682.3 L639.8 1678.7 L641.2 1680.4 L642.5 1675.3 L643.9 1675.6 L645.2 1676.4 L646.5 1672.6 L647.9 1675.9 L649.2 1672.5 L650.5 1674.0 L651.9 1672.7 L653.2 1667.2 L654.6 1666.6 L656.0 1672.3 L657.4 1678.1 L658.7 1683.8 L660.0 1684.9 L661.4 1682.1 L662.7 1683.5 L664.0 1679.8 L665.3 1681.4 L667.0 1685.3 L668.6 1685.1 L670.2 1688.8 L671.9 1690.4 L673.5 1687.0 L675.2 1688.8 L676.0 1637.8 L677.7 1633.2 L679.3 1628.7 L681.8 1692.1 L683.1 1689.6 L684.4 1687.1 L685.7 1684.7 L687.0 1682.2 L688.4 1679.7 L690.0 1683.3 L691.6 1684.3 L693.3 1688.0 L694.6 1685.3 L695.9 1682.7 L697.2 1680.1 L698.6 1677.4 L699.9 1674.8 L701.5 1678.5 L703.2 1682.2" fill="none" stroke="#8c1de6" stroke-width="5.4" stroke-linejoin="round" stroke-linecap="round"/><path d="M703.2 1682.2 L705.1 1715.9" fill="none" stroke="#8c1de6" stroke-width="3.6" stroke-linecap="butt"/><path d="M946.2 1693.7 L947.1 1672.3 L949.5 1659.2 L951.2 1655.8 L952.8 1654.2 L954.5 1650.9 L956.1 1647.6 L958.6 1627.9 L961.0 1644.3 L963.5 1652.6 L966.0 1693.7 L967.6 1694.2 L969.3 1693.7 L970.9 1700.7 L972.6 1707.7 L975.0 1674.0 L977.5 1670.7 L979.2 1681.4 L980.8 1692.1 L982.4 1678.9 L984.1 1678.3 L985.7 1679.8 L987.4 1678.9 L988.8 1675.4 L990.1 1675.4 L991.5 1672.3 L992.9 1682.7 L994.2 1693.2 L995.6 1703.6 L997.3 1703.0 L998.9 1704.4 L1000.6 1697.8 L1001.9 1698.6 L1003.2 1697.2 L1004.5 1699.1 L1005.8 1697.2 L1007.1 1698.7 L1008.5 1700.8 L1009.8 1700.2 L1011.1 1703.2 L1012.4 1703.3 L1013.7 1705.2 L1015.0 1704.2 L1016.4 1700.2 L1017.7 1700.3 L1019.0 1696.9 L1020.3 1695.4 L1021.7 1696.4 L1023.0 1693.5 L1024.4 1695.6 L1025.8 1693.1 L1027.2 1695.0 L1028.5 1693.7 L1029.9 1694.6 L1031.3 1697.9 L1032.7 1697.7 L1034.0 1701.2 L1035.4 1700.6 L1036.8 1702.8 L1038.1 1703.3 L1039.5 1699.7 L1040.9 1700.9 L1042.3 1698.3 L1043.6 1699.2 L1045.0 1697.8 L1046.4 1697.8 L1047.7 1700.2 L1049.1 1699.7 L1050.5 1702.1 L1051.9 1700.6 L1053.2 1702.8 L1054.9 1701.8 L1056.5 1698.4 L1058.2 1697.0 L1059.5 1698.7 L1060.9 1698.6 L1062.3 1700.9 L1063.7 1700.8 L1065.0 1703.1 L1066.4 1703.6 L1067.8 1701.9 L1069.2 1702.9 L1070.6 1700.8 L1072.0 1702.2 L1073.4 1699.6 L1074.9 1700.3 L1076.3 1698.7 L1077.9 1700.6 L1079.6 1703.6 L1081.2 1701.8 L1082.9 1697.9 L1084.5 1696.2 L1085.8 1697.5 L1087.1 1696.7 L1088.5 1699.3 L1089.8 1698.4 L1091.1 1700.7 L1092.4 1699.8 L1093.7 1702.3 L1095.0 1700.9 L1096.4 1703.4 L1097.7 1703.6 L1099.0 1701.3 L1100.3 1703.2 L1101.6 1700.0 L1102.9 1700.8 L1104.3 1699.5 L1105.6 1700.1 L1107.0 1702.6 L1108.4 1702.7 L1109.7 1705.9 L1111.1 1704.6 L1112.5 1706.9 L1113.9 1706.8 L1115.2 1704.0 L1116.6 1705.3 L1118.0 1702.4 L1119.3 1702.9 L1120.7 1701.1 L1122.4 1699.2 L1124.0 1699.9 L1125.7 1697.8 L1127.3 1697.8 L1128.9 1699.9 L1130.6 1699.5 L1132.2 1700.1 L1133.9 1704.6 L1135.5 1705.2 L1137.0 1704.7 L1138.4 1706.7 L1139.9 1705.9 L1141.3 1708.3 L1142.7 1706.5 L1144.2 1709.2 L1145.6 1707.4 L1147.1 1708.5 L1148.4 1708.8 L1149.8 1706.0 L1151.2 1707.6 L1152.5 1705.8 L1153.9 1706.9 L1155.3 1705.2 L1156.6 1704.1 L1157.9 1705.6 L1159.2 1703.5 L1160.6 1704.4 L1161.9 1703.6 L1163.2 1702.1 L1164.5 1704.3 L1165.8 1702.1 L1167.1 1703.7 L1168.5 1701.9 L1169.8 1703.2 L1171.1 1700.9 L1172.4 1702.5 L1173.7 1700.0 L1175.0 1701.1 L1175.9 1710.2 L1177.2 1711.9 L1178.6 1709.5 L1180.0 1711.6 L1181.3 1710.6 L1182.7 1712.8 L1184.1 1711.0 L1185.5 1713.2 L1186.8 1711.6 L1188.2 1712.7 L1189.5 1714.1 L1190.8 1712.3 L1192.2 1713.7 L1193.5 1712.2 L1194.8 1714.8 L1196.1 1712.4 L1197.4 1714.3 L1198.7 1712.7 L1200.1 1715.5 L1201.4 1714.3 L1202.7 1712.6 L1204.1 1714.4 L1205.5 1712.0 L1206.9 1714.0 L1208.2 1711.1 L1209.6 1711.8 L1211.0 1712.2 L1212.3 1709.6 L1213.7 1710.3 L1215.1 1708.3 L1216.5 1709.7 L1217.8 1707.7 L1219.2 1706.1 L1220.7 1708.1 L1222.1 1705.5 L1223.5 1706.7 L1224.9 1704.0 L1226.3 1705.7 L1227.7 1704.4 L1229.0 1704.3 L1230.3 1707.3 L1231.7 1705.5 L1233.0 1708.2 L1234.3 1708.5 L1235.7 1707.5 L1237.0 1708.5 L1238.4 1706.6 L1239.8 1707.4 L1241.2 1705.2 L1242.5 1706.1 L1243.9 1707.2 L1245.3 1704.9 L1246.6 1707.9 L1248.0 1705.9 L1249.4 1708.2 L1250.8 1706.3 L1252.1 1707.8 L1253.5 1706.4 L1254.9 1708.6 L1256.2 1706.5 L1257.6 1708.9 L1259.0 1707.7 L1260.4 1706.9 L1261.8 1708.2 L1263.2 1705.7 L1264.6 1707.8 L1266.0 1705.3 L1267.5 1707.6 L1268.9 1706.1 L1270.5 1703.5 L1272.2 1702.0 L1273.6 1702.9 L1275.0 1701.2 L1276.5 1703.2 L1277.9 1701.5 L1279.4 1703.5 L1280.8 1702.3 L1282.2 1704.5 L1283.7 1703.6 L1285.1 1702.2 L1286.5 1704.4 L1287.9 1702.8 L1289.3 1704.5 L1290.7 1703.0 L1292.1 1704.1 L1293.6 1703.6 L1294.9 1703.2 L1296.2 1707.1 L1297.5 1705.8 L1298.8 1708.2 L1300.1 1708.5 L1301.8 1706.4 L1303.4 1705.2 L1304.7 1706.9 L1306.1 1706.5 L1307.4 1708.7 L1308.7 1708.4 L1310.0 1710.2 L1311.4 1711.3 L1312.8 1709.6 L1314.2 1711.5 L1315.7 1710.5 L1317.1 1712.2 L1318.5 1710.8 L1319.9 1711.8 L1321.5 1710.1 L1323.2 1706.1 L1324.6 1705.8 L1326.0 1708.5 L1327.4 1707.4 L1328.8 1709.8 L1330.2 1709.0 L1331.7 1710.9 L1333.1 1711.0 L1334.4 1709.8 L1335.8 1712.7 L1337.2 1710.7 L1338.5 1712.9 L1339.9 1710.8 L1341.3 1711.8 L1342.7 1712.2 L1344.0 1710.3 L1345.4 1711.9 L1346.8 1710.3 L1348.2 1712.3 L1349.5 1711.0 L1351.3 1711.3 L1353.1 1713.5 L1353.1 1709 L946.2 1709 Z" fill="url(#gf11)"/><path d="M946.2 1693.7 L947.1 1672.3 L949.5 1659.2 L951.2 1655.8 L952.8 1654.2 L954.5 1650.9 L956.1 1647.6 L958.6 1627.9 L961.0 1644.3 L963.5 1652.6 L966.0 1693.7 L967.6 1694.2 L969.3 1693.7 L970.9 1700.7 L972.6 1707.7 L975.0 1674.0 L977.5 1670.7 L979.2 1681.4 L980.8 1692.1 L982.4 1678.9 L984.1 1678.3 L985.7 1679.8 L987.4 1678.9 L988.8 1675.4 L990.1 1675.4 L991.5 1672.3 L992.9 1682.7 L994.2 1693.2 L995.6 1703.6 L997.3 1703.0 L998.9 1704.4 L1000.6 1697.8 L1001.9 1698.6 L1003.2 1697.2 L1004.5 1699.1 L1005.8 1697.2 L1007.1 1698.7 L1008.5 1700.8 L1009.8 1700.2 L1011.1 1703.2 L1012.4 1703.3 L1013.7 1705.2 L1015.0 1704.2 L1016.4 1700.2 L1017.7 1700.3 L1019.0 1696.9 L1020.3 1695.4 L1021.7 1696.4 L1023.0 1693.5 L1024.4 1695.6 L1025.8 1693.1 L1027.2 1695.0 L1028.5 1693.7 L1029.9 1694.6 L1031.3 1697.9 L1032.7 1697.7 L1034.0 1701.2 L1035.4 1700.6 L1036.8 1702.8 L1038.1 1703.3 L1039.5 1699.7 L1040.9 1700.9 L1042.3 1698.3 L1043.6 1699.2 L1045.0 1697.8 L1046.4 1697.8 L1047.7 1700.2 L1049.1 1699.7 L1050.5 1702.1 L1051.9 1700.6 L1053.2 1702.8 L1054.9 1701.8 L1056.5 1698.4 L1058.2 1697.0 L1059.5 1698.7 L1060.9 1698.6 L1062.3 1700.9 L1063.7 1700.8 L1065.0 1703.1 L1066.4 1703.6 L1067.8 1701.9 L1069.2 1702.9 L1070.6 1700.8 L1072.0 1702.2 L1073.4 1699.6 L1074.9 1700.3 L1076.3 1698.7 L1077.9 1700.6 L1079.6 1703.6 L1081.2 1701.8 L1082.9 1697.9 L1084.5 1696.2 L1085.8 1697.5 L1087.1 1696.7 L1088.5 1699.3 L1089.8 1698.4 L1091.1 1700.7 L1092.4 1699.8 L1093.7 1702.3 L1095.0 1700.9 L1096.4 1703.4 L1097.7 1703.6 L1099.0 1701.3 L1100.3 1703.2 L1101.6 1700.0 L1102.9 1700.8 L1104.3 1699.5 L1105.6 1700.1 L1107.0 1702.6 L1108.4 1702.7 L1109.7 1705.9 L1111.1 1704.6 L1112.5 1706.9 L1113.9 1706.8 L1115.2 1704.0 L1116.6 1705.3 L1118.0 1702.4 L1119.3 1702.9 L1120.7 1701.1 L1122.4 1699.2 L1124.0 1699.9 L1125.7 1697.8 L1127.3 1697.8 L1128.9 1699.9 L1130.6 1699.5 L1132.2 1700.1 L1133.9 1704.6 L1135.5 1705.2 L1137.0 1704.7 L1138.4 1706.7 L1139.9 1705.9 L1141.3 1708.3 L1142.7 1706.5 L1144.2 1709.2 L1145.6 1707.4 L1147.1 1708.5 L1148.4 1708.8 L1149.8 1706.0 L1151.2 1707.6 L1152.5 1705.8 L1153.9 1706.9 L1155.3 1705.2 L1156.6 1704.1 L1157.9 1705.6 L1159.2 1703.5 L1160.6 1704.4 L1161.9 1703.6 L1163.2 1702.1 L1164.5 1704.3 L1165.8 1702.1 L1167.1 1703.7 L1168.5 1701.9 L1169.8 1703.2 L1171.1 1700.9 L1172.4 1702.5 L1173.7 1700.0 L1175.0 1701.1 L1175.9 1710.2 L1177.2 1711.9 L1178.6 1709.5 L1180.0 1711.6 L1181.3 1710.6 L1182.7 1712.8 L1184.1 1711.0 L1185.5 1713.2 L1186.8 1711.6 L1188.2 1712.7 L1189.5 1714.1 L1190.8 1712.3 L1192.2 1713.7 L1193.5 1712.2 L1194.8 1714.8 L1196.1 1712.4 L1197.4 1714.3 L1198.7 1712.7 L1200.1 1715.5 L1201.4 1714.3 L1202.7 1712.6 L1204.1 1714.4 L1205.5 1712.0 L1206.9 1714.0 L1208.2 1711.1 L1209.6 1711.8 L1211.0 1712.2 L1212.3 1709.6 L1213.7 1710.3 L1215.1 1708.3 L1216.5 1709.7 L1217.8 1707.7 L1219.2 1706.1 L1220.7 1708.1 L1222.1 1705.5 L1223.5 1706.7 L1224.9 1704.0 L1226.3 1705.7 L1227.7 1704.4 L1229.0 1704.3 L1230.3 1707.3 L1231.7 1705.5 L1233.0 1708.2 L1234.3 1708.5 L1235.7 1707.5 L1237.0 1708.5 L1238.4 1706.6 L1239.8 1707.4 L1241.2 1705.2 L1242.5 1706.1 L1243.9 1707.2 L1245.3 1704.9 L1246.6 1707.9 L1248.0 1705.9 L1249.4 1708.2 L1250.8 1706.3 L1252.1 1707.8 L1253.5 1706.4 L1254.9 1708.6 L1256.2 1706.5 L1257.6 1708.9 L1259.0 1707.7 L1260.4 1706.9 L1261.8 1708.2 L1263.2 1705.7 L1264.6 1707.8 L1266.0 1705.3 L1267.5 1707.6 L1268.9 1706.1 L1270.5 1703.5 L1272.2 1702.0 L1273.6 1702.9 L1275.0 1701.2 L1276.5 1703.2 L1277.9 1701.5 L1279.4 1703.5 L1280.8 1702.3 L1282.2 1704.5 L1283.7 1703.6 L1285.1 1702.2 L1286.5 1704.4 L1287.9 1702.8 L1289.3 1704.5 L1290.7 1703.0 L1292.1 1704.1 L1293.6 1703.6 L1294.9 1703.2 L1296.2 1707.1 L1297.5 1705.8 L1298.8 1708.2 L1300.1 1708.5 L1301.8 1706.4 L1303.4 1705.2 L1304.7 1706.9 L1306.1 1706.5 L1307.4 1708.7 L1308.7 1708.4 L1310.0 1710.2 L1311.4 1711.3 L1312.8 1709.6 L1314.2 1711.5 L1315.7 1710.5 L1317.1 1712.2 L1318.5 1710.8 L1319.9 1711.8 L1321.5 1710.1 L1323.2 1706.1 L1324.6 1705.8 L1326.0 1708.5 L1327.4 1707.4 L1328.8 1709.8 L1330.2 1709.0 L1331.7 1710.9 L1333.1 1711.0 L1334.4 1709.8 L1335.8 1712.7 L1337.2 1710.7 L1338.5 1712.9 L1339.9 1710.8 L1341.3 1711.8 L1342.7 1712.2 L1344.0 1710.3 L1345.4 1711.9 L1346.8 1710.3 L1348.2 1712.3 L1349.5 1711.0 L1351.3 1711.3 L1353.1 1713.5" fill="none" stroke="#8c1de6" stroke-width="5.4" stroke-linejoin="round" stroke-linecap="butt"/><path d="M1594.2 1652.6 L1596.7 1655.9 L1598.3 1675.6 L1599.7 1674.3 L1601.1 1676.6 L1602.5 1675.6 L1604.1 1679.7 L1605.8 1683.8 L1607.4 1683.3 L1609.0 1685.7 L1610.7 1685.5 L1612.3 1682.2 L1614.0 1678.9 L1615.3 1679.7 L1616.6 1685.0 L1617.9 1683.2 L1619.3 1687.9 L1620.6 1688.8 L1622.2 1684.7 L1623.9 1680.6 L1625.5 1680.7 L1627.2 1684.2 L1628.8 1683.8 L1630.1 1681.1 L1631.4 1683.5 L1632.7 1678.4 L1634.1 1680.8 L1635.4 1677.3 L1637.0 1682.2 L1638.7 1687.1 L1640.3 1682.6 L1642.0 1684.3 L1643.6 1680.6 L1645.3 1681.4 L1646.9 1685.9 L1648.6 1687.1 L1650.2 1683.6 L1651.8 1680.0 L1653.5 1676.4 L1655.1 1675.0 L1656.8 1679.2 L1658.4 1677.3 L1660.1 1683.0 L1661.7 1688.8 L1663.4 1685.5 L1665.0 1686.4 L1666.7 1683.8 L1668.3 1684.8 L1670.0 1691.0 L1671.6 1692.1 L1672.9 1689.0 L1674.2 1690.1 L1675.5 1683.8 L1676.9 1686.3 L1678.2 1682.2 L1679.8 1687.5 L1681.5 1692.9 L1683.1 1687.5 L1684.8 1682.2 L1686.4 1686.0 L1688.1 1689.9 L1689.7 1693.7 L1691.3 1692.5 L1693.0 1698.1 L1694.6 1697.0 L1696.3 1693.4 L1697.9 1689.9 L1699.6 1686.3 L1701.2 1685.4 L1702.9 1690.6 L1704.5 1690.4 L1706.2 1680.6 L1707.8 1670.7 L1709.5 1697.0 L1710.8 1694.9 L1712.1 1696.6 L1713.4 1692.7 L1714.7 1694.1 L1716.0 1692.1 L1717.7 1697.0 L1719.3 1693.7 L1721.0 1690.4 L1722.6 1687.1 L1724.3 1691.3 L1725.9 1695.4 L1727.2 1691.1 L1728.6 1693.6 L1729.9 1687.4 L1731.2 1689.5 L1732.5 1685.5 L1734.1 1688.8 L1735.8 1692.1 L1737.4 1695.4 L1739.1 1692.1 L1740.7 1688.8 L1742.2 1692.1 L1743.6 1695.4 L1745.1 1698.7 L1746.5 1702.0 L1747.9 1698.5 L1749.2 1700.3 L1750.6 1696.2 L1751.9 1695.6 L1753.2 1700.1 L1754.6 1697.4 L1755.9 1702.4 L1757.2 1702.0 L1758.6 1698.9 L1760.0 1700.9 L1761.4 1696.8 L1762.8 1698.6 L1764.2 1695.2 L1765.7 1696.9 L1767.1 1693.7 L1768.4 1693.3 L1769.7 1697.3 L1771.0 1695.6 L1772.3 1700.9 L1773.7 1700.3 L1775.0 1697.9 L1776.3 1698.9 L1777.6 1693.1 L1778.9 1694.8 L1780.2 1692.1 L1781.6 1689.5 L1782.9 1692.9 L1784.2 1689.3 L1785.5 1691.7 L1786.8 1688.8 L1788.2 1689.1 L1789.6 1694.6 L1790.9 1692.8 L1792.3 1698.4 L1793.7 1696.5 L1795.1 1700.3 L1796.7 1697.0 L1798.3 1693.7 L1800.0 1690.4 L1801.3 1693.8 L1802.6 1690.8 L1803.9 1694.2 L1805.3 1692.7 L1806.6 1695.4 L1808.4 1659.2 L1810.2 1622.9 L1811.7 1655.0 L1813.2 1687.1 L1814.5 1688.6 L1815.8 1684.7 L1817.1 1687.5 L1818.4 1684.9 L1819.7 1685.5 L1821.4 1675.6 L1823.0 1665.7 L1824.7 1678.9 L1826.3 1692.1 L1828.0 1705.2 L1829.6 1703.7 L1831.3 1698.8 L1832.9 1697.0 L1834.6 1700.3 L1836.2 1703.6 L1837.5 1702.8 L1838.8 1697.9 L1840.2 1699.6 L1841.5 1693.3 L1842.8 1693.7 L1844.1 1697.1 L1845.4 1694.3 L1846.7 1699.3 L1848.1 1697.4 L1849.4 1701.1 L1850.7 1702.4 L1852.0 1699.3 L1853.3 1701.6 L1854.6 1699.2 L1856.0 1700.3 L1857.3 1697.0 L1858.7 1693.7 L1860.1 1690.4 L1861.7 1673.1 L1863.4 1655.9 L1864.8 1660.8 L1866.2 1665.7 L1867.7 1670.7 L1869.1 1675.6 L1870.8 1671.8 L1872.4 1667.9 L1874.1 1664.1 L1875.7 1667.4 L1877.4 1670.7 L1879.0 1674.0 L1880.7 1662.4 L1882.3 1650.9 L1883.9 1654.1 L1885.6 1650.4 L1887.2 1653.4 L1888.9 1660.4 L1890.5 1667.4 L1891.8 1667.7 L1893.2 1664.6 L1894.5 1667.8 L1895.8 1662.8 L1897.1 1664.1 L1898.8 1667.9 L1900.4 1671.8 L1902.0 1675.6 L1903.7 1675.7 L1905.3 1670.9 L1907.0 1670.7 L1908.4 1673.8 L1909.7 1672.5 L1911.1 1676.9 L1912.5 1675.9 L1913.8 1680.8 L1915.2 1680.6 L1916.6 1678.4 L1918.0 1681.2 L1919.5 1676.6 L1920.9 1678.5 L1922.3 1675.1 L1923.7 1677.2 L1925.1 1675.6 L1926.4 1675.4 L1927.7 1681.7 L1929.0 1679.9 L1930.4 1684.7 L1931.7 1685.5 L1933.1 1683.4 L1934.4 1685.7 L1935.8 1681.0 L1937.2 1684.4 L1938.5 1679.5 L1939.9 1680.6 L1941.2 1685.2 L1942.5 1683.2 L1943.9 1689.2 L1945.2 1687.4 L1946.5 1692.1 L1947.9 1683.8 L1949.2 1675.6 L1950.6 1667.4 L1952.0 1674.0 L1953.4 1680.6 L1954.7 1687.1 L1956.0 1687.1 L1957.4 1682.2 L1958.7 1684.3 L1960.0 1680.0 L1961.3 1679.7 L1963.0 1684.7 L1964.6 1689.6 L1966.2 1691.1 L1967.9 1686.8 L1969.5 1687.1 L1971.2 1646.0 L1972.6 1643.2 L1973.9 1640.5 L1975.3 1637.8 L1977.8 1692.1 L1979.1 1689.1 L1980.4 1686.1 L1981.7 1683.2 L1983.0 1680.2 L1984.4 1677.3 L1986.0 1680.8 L1987.6 1684.4 L1989.3 1688.0 L1990.6 1684.8 L1991.9 1681.7 L1993.2 1678.6 L1994.6 1675.4 L1995.9 1672.3 L1997.2 1669.9 L1998.5 1667.4 L1999.8 1664.9 L2001.1 1662.4 L2001.5 1682.2 L2001.5 1709 L1594.2 1709 Z" fill="url(#gf12)"/><path d="M1594.2 1652.6 L1596.7 1655.9 L1598.3 1675.6 L1599.7 1674.3 L1601.1 1676.6 L1602.5 1675.6 L1604.1 1679.7 L1605.8 1683.8 L1607.4 1683.3 L1609.0 1685.7 L1610.7 1685.5 L1612.3 1682.2 L1614.0 1678.9 L1615.3 1679.7 L1616.6 1685.0 L1617.9 1683.2 L1619.3 1687.9 L1620.6 1688.8 L1622.2 1684.7 L1623.9 1680.6 L1625.5 1680.7 L1627.2 1684.2 L1628.8 1683.8 L1630.1 1681.1 L1631.4 1683.5 L1632.7 1678.4 L1634.1 1680.8 L1635.4 1677.3 L1637.0 1682.2 L1638.7 1687.1 L1640.3 1682.6 L1642.0 1684.3 L1643.6 1680.6 L1645.3 1681.4 L1646.9 1685.9 L1648.6 1687.1 L1650.2 1683.6 L1651.8 1680.0 L1653.5 1676.4 L1655.1 1675.0 L1656.8 1679.2 L1658.4 1677.3 L1660.1 1683.0 L1661.7 1688.8 L1663.4 1685.5 L1665.0 1686.4 L1666.7 1683.8 L1668.3 1684.8 L1670.0 1691.0 L1671.6 1692.1 L1672.9 1689.0 L1674.2 1690.1 L1675.5 1683.8 L1676.9 1686.3 L1678.2 1682.2 L1679.8 1687.5 L1681.5 1692.9 L1683.1 1687.5 L1684.8 1682.2 L1686.4 1686.0 L1688.1 1689.9 L1689.7 1693.7 L1691.3 1692.5 L1693.0 1698.1 L1694.6 1697.0 L1696.3 1693.4 L1697.9 1689.9 L1699.6 1686.3 L1701.2 1685.4 L1702.9 1690.6 L1704.5 1690.4 L1706.2 1680.6 L1707.8 1670.7 L1709.5 1697.0 L1710.8 1694.9 L1712.1 1696.6 L1713.4 1692.7 L1714.7 1694.1 L1716.0 1692.1 L1717.7 1697.0 L1719.3 1693.7 L1721.0 1690.4 L1722.6 1687.1 L1724.3 1691.3 L1725.9 1695.4 L1727.2 1691.1 L1728.6 1693.6 L1729.9 1687.4 L1731.2 1689.5 L1732.5 1685.5 L1734.1 1688.8 L1735.8 1692.1 L1737.4 1695.4 L1739.1 1692.1 L1740.7 1688.8 L1742.2 1692.1 L1743.6 1695.4 L1745.1 1698.7 L1746.5 1702.0 L1747.9 1698.5 L1749.2 1700.3 L1750.6 1696.2 L1751.9 1695.6 L1753.2 1700.1 L1754.6 1697.4 L1755.9 1702.4 L1757.2 1702.0 L1758.6 1698.9 L1760.0 1700.9 L1761.4 1696.8 L1762.8 1698.6 L1764.2 1695.2 L1765.7 1696.9 L1767.1 1693.7 L1768.4 1693.3 L1769.7 1697.3 L1771.0 1695.6 L1772.3 1700.9 L1773.7 1700.3 L1775.0 1697.9 L1776.3 1698.9 L1777.6 1693.1 L1778.9 1694.8 L1780.2 1692.1 L1781.6 1689.5 L1782.9 1692.9 L1784.2 1689.3 L1785.5 1691.7 L1786.8 1688.8 L1788.2 1689.1 L1789.6 1694.6 L1790.9 1692.8 L1792.3 1698.4 L1793.7 1696.5 L1795.1 1700.3 L1796.7 1697.0 L1798.3 1693.7 L1800.0 1690.4 L1801.3 1693.8 L1802.6 1690.8 L1803.9 1694.2 L1805.3 1692.7 L1806.6 1695.4 L1808.4 1659.2 L1810.2 1622.9 L1811.7 1655.0 L1813.2 1687.1 L1814.5 1688.6 L1815.8 1684.7 L1817.1 1687.5 L1818.4 1684.9 L1819.7 1685.5 L1821.4 1675.6 L1823.0 1665.7 L1824.7 1678.9 L1826.3 1692.1 L1828.0 1705.2 L1829.6 1703.7 L1831.3 1698.8 L1832.9 1697.0 L1834.6 1700.3 L1836.2 1703.6 L1837.5 1702.8 L1838.8 1697.9 L1840.2 1699.6 L1841.5 1693.3 L1842.8 1693.7 L1844.1 1697.1 L1845.4 1694.3 L1846.7 1699.3 L1848.1 1697.4 L1849.4 1701.1 L1850.7 1702.4 L1852.0 1699.3 L1853.3 1701.6 L1854.6 1699.2 L1856.0 1700.3 L1857.3 1697.0 L1858.7 1693.7 L1860.1 1690.4 L1861.7 1673.1 L1863.4 1655.9 L1864.8 1660.8 L1866.2 1665.7 L1867.7 1670.7 L1869.1 1675.6 L1870.8 1671.8 L1872.4 1667.9 L1874.1 1664.1 L1875.7 1667.4 L1877.4 1670.7 L1879.0 1674.0 L1880.7 1662.4 L1882.3 1650.9 L1883.9 1654.1 L1885.6 1650.4 L1887.2 1653.4 L1888.9 1660.4 L1890.5 1667.4 L1891.8 1667.7 L1893.2 1664.6 L1894.5 1667.8 L1895.8 1662.8 L1897.1 1664.1 L1898.8 1667.9 L1900.4 1671.8 L1902.0 1675.6 L1903.7 1675.7 L1905.3 1670.9 L1907.0 1670.7 L1908.4 1673.8 L1909.7 1672.5 L1911.1 1676.9 L1912.5 1675.9 L1913.8 1680.8 L1915.2 1680.6 L1916.6 1678.4 L1918.0 1681.2 L1919.5 1676.6 L1920.9 1678.5 L1922.3 1675.1 L1923.7 1677.2 L1925.1 1675.6 L1926.4 1675.4 L1927.7 1681.7 L1929.0 1679.9 L1930.4 1684.7 L1931.7 1685.5 L1933.1 1683.4 L1934.4 1685.7 L1935.8 1681.0 L1937.2 1684.4 L1938.5 1679.5 L1939.9 1680.6 L1941.2 1685.2 L1942.5 1683.2 L1943.9 1689.2 L1945.2 1687.4 L1946.5 1692.1 L1947.9 1683.8 L1949.2 1675.6 L1950.6 1667.4 L1952.0 1674.0 L1953.4 1680.6 L1954.7 1687.1 L1956.0 1687.1 L1957.4 1682.2 L1958.7 1684.3 L1960.0 1680.0 L1961.3 1679.7 L1963.0 1684.7 L1964.6 1689.6 L1966.2 1691.1 L1967.9 1686.8 L1969.5 1687.1 L1971.2 1646.0 L1972.6 1643.2 L1973.9 1640.5 L1975.3 1637.8 L1977.8 1692.1 L1979.1 1689.1 L1980.4 1686.1 L1981.7 1683.2 L1983.0 1680.2 L1984.4 1677.3 L1986.0 1680.8 L1987.6 1684.4 L1989.3 1688.0 L1990.6 1684.8 L1991.9 1681.7 L1993.2 1678.6 L1994.6 1675.4 L1995.9 1672.3 L1997.2 1669.9 L1998.5 1667.4 L1999.8 1664.9 L2001.1 1662.4" fill="none" stroke="#8c1de6" stroke-width="5.4" stroke-linejoin="round" stroke-linecap="round"/><path d="M2001.1 1662.4 L2001.5 1682.2" fill="none" stroke="#8c1de6" stroke-width="3.6" stroke-linecap="butt"/><path d="M2242.2 1637.8 L2243.5 1635.8 L2244.9 1637.1 L2246.2 1634.3 L2247.5 1635.4 L2248.8 1633.6 L2250.2 1633.0 L2251.6 1635.5 L2253.0 1634.2 L2254.5 1635.9 L2255.9 1634.9 L2257.3 1636.9 L2258.7 1636.9 L2260.0 1636.0 L2261.3 1636.8 L2262.6 1635.0 L2264.0 1636.0 L2265.3 1635.3 L2267.1 1636.6 L2268.6 1644.3 L2270.0 1635.9 L2272.0 1642.9 L2273.5 1634.5 L2275.0 1641.5 L2275.3 1635.7 L2276.8 1642.7 L2278.3 1635.7 L2280.1 1637.8 L2281.9 1641.5 L2283.4 1634.5 L2284.9 1648.5 L2284.4 1636.9 L2285.9 1650.9 L2287.3 1639.0 L2288.5 1648.8 L2290.0 1636.9 L2291.4 1652.3 L2293.3 1646.0 L2295.1 1639.6 L2296.6 1655.0 L2298.0 1637.5 L2299.8 1634.5 L2301.2 1634.8 L2302.5 1633.3 L2303.8 1634.1 L2305.1 1632.2 L2306.4 1632.8 L2307.7 1634.0 L2309.1 1633.0 L2310.4 1635.4 L2311.7 1634.3 L2313.0 1636.1 L2314.7 1637.9 L2316.4 1637.1 L2318.1 1638.5 L2319.6 1651.7 L2321.1 1636.4 L2322.9 1642.7 L2324.7 1649.0 L2326.2 1633.6 L2327.7 1650.4 L2328.0 1636.6 L2329.5 1653.4 L2331.0 1637.3 L2331.3 1650.6 L2332.8 1634.5 L2334.2 1656.1 L2335.6 1651.7 L2336.9 1647.2 L2338.2 1642.8 L2339.5 1638.3 L2341.0 1660.0 L2342.5 1639.7 L2342.6 1636.1 L2344.0 1636.4 L2345.3 1634.1 L2346.6 1634.8 L2347.9 1632.3 L2349.2 1632.8 L2350.6 1633.9 L2352.0 1632.6 L2353.5 1634.3 L2354.9 1633.3 L2356.3 1635.5 L2357.7 1634.3 L2359.1 1635.3 L2360.4 1640.4 L2361.7 1645.5 L2363.2 1703.6 L2364.7 1644.1 L2364.2 1693.1 L2365.7 1633.6 L2367.2 1644.1 L2369.0 1639.8 L2370.8 1635.5 L2372.3 1646.0 L2373.8 1636.2 L2375.1 1639.1 L2376.4 1639.1 L2377.7 1642.8 L2379.0 1644.3 L2380.5 1634.5 L2382.0 1642.9 L2384.0 1635.9 L2385.4 1644.3 L2386.9 1636.6 L2388.3 1639.8 L2389.7 1643.0 L2391.2 1635.3 L2392.7 1652.8 L2393.0 1638.4 L2394.5 1655.9 L2396.0 1640.5 L2397.4 1646.8 L2398.8 1653.1 L2400.3 1637.8 L2401.7 1655.9 L2403.7 1641.0 L2405.2 1659.2 L2406.7 1638.2 L2408.5 1646.8 L2410.3 1655.4 L2411.8 1634.5 L2413.3 1648.5 L2415.2 1636.9 L2416.7 1650.9 L2418.2 1636.2 L2419.5 1634.8 L2420.9 1636.0 L2422.2 1633.9 L2423.6 1634.9 L2424.9 1633.6 L2426.3 1633.8 L2427.6 1636.2 L2428.9 1636.0 L2430.2 1638.4 L2431.5 1638.6 L2433.2 1636.6 L2434.8 1636.1 L2436.1 1637.5 L2437.5 1637.5 L2438.8 1639.6 L2440.1 1639.5 L2441.4 1641.0 L2442.7 1640.9 L2444.0 1638.4 L2445.4 1638.4 L2446.7 1635.7 L2448.0 1635.3 L2449.3 1637.0 L2450.6 1636.8 L2451.9 1638.8 L2453.3 1638.1 L2454.6 1640.2 L2456.0 1640.3 L2457.4 1637.9 L2458.8 1639.1 L2460.2 1637.3 L2461.6 1638.3 L2463.0 1636.0 L2464.5 1636.1 L2465.9 1636.8 L2467.3 1635.1 L2468.8 1635.9 L2470.2 1634.5 L2471.7 1636.1 L2473.1 1634.3 L2474.5 1635.8 L2476.0 1634.5 L2476.1 1636.9 L2477.6 1650.9 L2479.1 1641.1 L2480.8 1639.6 L2482.5 1641.1 L2484.2 1639.4 L2485.9 1641.0 L2487.5 1644.5 L2489.1 1646.0 L2489.3 1644.6 L2490.8 1636.9 L2492.3 1648.8 L2493.6 1646.4 L2494.9 1643.9 L2496.2 1641.5 L2497.5 1639.0 L2499.0 1650.9 L2500.5 1641.1 L2501.9 1640.3 L2503.2 1641.3 L2504.6 1639.4 L2505.9 1640.6 L2507.3 1639.4 L2508.9 1635.8 L2510.5 1634.3 L2512.2 1631.2 L2513.6 1630.5 L2515.1 1632.0 L2516.5 1631.2 L2518.0 1633.2 L2519.4 1631.1 L2520.8 1633.4 L2522.3 1632.2 L2523.7 1632.8 L2525.0 1633.7 L2526.3 1631.7 L2527.7 1632.9 L2529.0 1630.9 L2530.3 1632.0 L2531.6 1630.4 L2532.9 1631.8 L2534.2 1629.8 L2535.6 1631.0 L2536.9 1630.3 L2538.3 1630.2 L2539.7 1631.4 L2541.1 1630.7 L2542.5 1632.8 L2543.9 1631.2 L2545.3 1633.5 L2546.8 1632.8 L2548.1 1632.2 L2549.4 1634.1 L2550.7 1632.4 L2552.0 1634.2 L2553.3 1632.4 L2554.7 1634.6 L2556.0 1633.0 L2557.3 1635.1 L2558.6 1633.7 L2559.9 1634.5 L2561.4 1634.8 L2562.8 1633.4 L2564.2 1634.0 L2565.7 1632.3 L2567.1 1633.9 L2568.6 1631.7 L2570.0 1632.9 L2571.4 1632.0 L2572.8 1631.2 L2574.2 1632.6 L2575.6 1631.0 L2576.9 1632.5 L2578.3 1631.2 L2579.7 1632.2 L2581.1 1630.4 L2582.4 1632.2 L2583.8 1630.2 L2585.2 1632.1 L2586.5 1630.8 L2587.9 1631.2 L2589.3 1632.7 L2590.8 1630.9 L2592.2 1632.4 L2593.7 1639.4 L2595.2 1631.7 L2596.1 1630.3 L2597.5 1632.3 L2598.8 1631.2 L2600.1 1633.3 L2601.4 1633.1 L2602.7 1634.5 L2604.1 1635.1 L2605.5 1634.2 L2607.0 1636.0 L2608.4 1634.5 L2609.8 1635.9 L2611.2 1634.3 L2612.6 1635.3 L2614.0 1635.9 L2615.4 1633.6 L2616.8 1634.7 L2618.2 1633.1 L2619.7 1634.4 L2621.1 1632.4 L2622.5 1632.8 L2623.8 1633.4 L2625.1 1631.8 L2626.4 1632.6 L2627.7 1630.4 L2629.1 1631.2 L2630.5 1632.5 L2631.9 1631.9 L2633.3 1633.9 L2634.7 1633.6 L2636.1 1635.6 L2637.5 1634.4 L2638.9 1636.1 L2640.6 1634.9 L2642.2 1632.4 L2643.9 1631.2 L2645.2 1631.5 L2646.5 1629.8 L2647.8 1630.7 L2649.1 1629.5 L2649.1 1709 L2242.2 1709 Z" fill="url(#gf13)"/><path d="M2242.2 1637.8 L2243.5 1635.8 L2244.9 1637.1 L2246.2 1634.3 L2247.5 1635.4 L2248.8 1633.6 L2250.2 1633.0 L2251.6 1635.5 L2253.0 1634.2 L2254.5 1635.9 L2255.9 1634.9 L2257.3 1636.9 L2258.7 1636.9 L2260.0 1636.0 L2261.3 1636.8 L2262.6 1635.0 L2264.0 1636.0 L2265.3 1635.3 L2267.1 1636.6 L2268.6 1644.3 L2270.0 1635.9 L2272.0 1642.9 L2273.5 1634.5 L2275.0 1641.5 L2275.3 1635.7 L2276.8 1642.7 L2278.3 1635.7 L2280.1 1637.8 L2281.9 1641.5 L2283.4 1634.5 L2284.9 1648.5 L2284.4 1636.9 L2285.9 1650.9 L2287.3 1639.0 L2288.5 1648.8 L2290.0 1636.9 L2291.4 1652.3 L2293.3 1646.0 L2295.1 1639.6 L2296.6 1655.0 L2298.0 1637.5 L2299.8 1634.5 L2301.2 1634.8 L2302.5 1633.3 L2303.8 1634.1 L2305.1 1632.2 L2306.4 1632.8 L2307.7 1634.0 L2309.1 1633.0 L2310.4 1635.4 L2311.7 1634.3 L2313.0 1636.1 L2314.7 1637.9 L2316.4 1637.1 L2318.1 1638.5 L2319.6 1651.7 L2321.1 1636.4 L2322.9 1642.7 L2324.7 1649.0 L2326.2 1633.6 L2327.7 1650.4 L2328.0 1636.6 L2329.5 1653.4 L2331.0 1637.3 L2331.3 1650.6 L2332.8 1634.5 L2334.2 1656.1 L2335.6 1651.7 L2336.9 1647.2 L2338.2 1642.8 L2339.5 1638.3 L2341.0 1660.0 L2342.5 1639.7 L2342.6 1636.1 L2344.0 1636.4 L2345.3 1634.1 L2346.6 1634.8 L2347.9 1632.3 L2349.2 1632.8 L2350.6 1633.9 L2352.0 1632.6 L2353.5 1634.3 L2354.9 1633.3 L2356.3 1635.5 L2357.7 1634.3 L2359.1 1635.3 L2360.4 1640.4 L2361.7 1645.5 L2363.2 1703.6 L2364.7 1644.1 L2364.2 1693.1 L2365.7 1633.6 L2367.2 1644.1 L2369.0 1639.8 L2370.8 1635.5 L2372.3 1646.0 L2373.8 1636.2 L2375.1 1639.1 L2376.4 1639.1 L2377.7 1642.8 L2379.0 1644.3 L2380.5 1634.5 L2382.0 1642.9 L2384.0 1635.9 L2385.4 1644.3 L2386.9 1636.6 L2388.3 1639.8 L2389.7 1643.0 L2391.2 1635.3 L2392.7 1652.8 L2393.0 1638.4 L2394.5 1655.9 L2396.0 1640.5 L2397.4 1646.8 L2398.8 1653.1 L2400.3 1637.8 L2401.7 1655.9 L2403.7 1641.0 L2405.2 1659.2 L2406.7 1638.2 L2408.5 1646.8 L2410.3 1655.4 L2411.8 1634.5 L2413.3 1648.5 L2415.2 1636.9 L2416.7 1650.9 L2418.2 1636.2 L2419.5 1634.8 L2420.9 1636.0 L2422.2 1633.9 L2423.6 1634.9 L2424.9 1633.6 L2426.3 1633.8 L2427.6 1636.2 L2428.9 1636.0 L2430.2 1638.4 L2431.5 1638.6 L2433.2 1636.6 L2434.8 1636.1 L2436.1 1637.5 L2437.5 1637.5 L2438.8 1639.6 L2440.1 1639.5 L2441.4 1641.0 L2442.7 1640.9 L2444.0 1638.4 L2445.4 1638.4 L2446.7 1635.7 L2448.0 1635.3 L2449.3 1637.0 L2450.6 1636.8 L2451.9 1638.8 L2453.3 1638.1 L2454.6 1640.2 L2456.0 1640.3 L2457.4 1637.9 L2458.8 1639.1 L2460.2 1637.3 L2461.6 1638.3 L2463.0 1636.0 L2464.5 1636.1 L2465.9 1636.8 L2467.3 1635.1 L2468.8 1635.9 L2470.2 1634.5 L2471.7 1636.1 L2473.1 1634.3 L2474.5 1635.8 L2476.0 1634.5 L2476.1 1636.9 L2477.6 1650.9 L2479.1 1641.1 L2480.8 1639.6 L2482.5 1641.1 L2484.2 1639.4 L2485.9 1641.0 L2487.5 1644.5 L2489.1 1646.0 L2489.3 1644.6 L2490.8 1636.9 L2492.3 1648.8 L2493.6 1646.4 L2494.9 1643.9 L2496.2 1641.5 L2497.5 1639.0 L2499.0 1650.9 L2500.5 1641.1 L2501.9 1640.3 L2503.2 1641.3 L2504.6 1639.4 L2505.9 1640.6 L2507.3 1639.4 L2508.9 1635.8 L2510.5 1634.3 L2512.2 1631.2 L2513.6 1630.5 L2515.1 1632.0 L2516.5 1631.2 L2518.0 1633.2 L2519.4 1631.1 L2520.8 1633.4 L2522.3 1632.2 L2523.7 1632.8 L2525.0 1633.7 L2526.3 1631.7 L2527.7 1632.9 L2529.0 1630.9 L2530.3 1632.0 L2531.6 1630.4 L2532.9 1631.8 L2534.2 1629.8 L2535.6 1631.0 L2536.9 1630.3 L2538.3 1630.2 L2539.7 1631.4 L2541.1 1630.7 L2542.5 1632.8 L2543.9 1631.2 L2545.3 1633.5 L2546.8 1632.8 L2548.1 1632.2 L2549.4 1634.1 L2550.7 1632.4 L2552.0 1634.2 L2553.3 1632.4 L2554.7 1634.6 L2556.0 1633.0 L2557.3 1635.1 L2558.6 1633.7 L2559.9 1634.5 L2561.4 1634.8 L2562.8 1633.4 L2564.2 1634.0 L2565.7 1632.3 L2567.1 1633.9 L2568.6 1631.7 L2570.0 1632.9 L2571.4 1632.0 L2572.8 1631.2 L2574.2 1632.6 L2575.6 1631.0 L2576.9 1632.5 L2578.3 1631.2 L2579.7 1632.2 L2581.1 1630.4 L2582.4 1632.2 L2583.8 1630.2 L2585.2 1632.1 L2586.5 1630.8 L2587.9 1631.2 L2589.3 1632.7 L2590.8 1630.9 L2592.2 1632.4 L2593.7 1639.4 L2595.2 1631.7 L2596.1 1630.3 L2597.5 1632.3 L2598.8 1631.2 L2600.1 1633.3 L2601.4 1633.1 L2602.7 1634.5 L2604.1 1635.1 L2605.5 1634.2 L2607.0 1636.0 L2608.4 1634.5 L2609.8 1635.9 L2611.2 1634.3 L2612.6 1635.3 L2614.0 1635.9 L2615.4 1633.6 L2616.8 1634.7 L2618.2 1633.1 L2619.7 1634.4 L2621.1 1632.4 L2622.5 1632.8 L2623.8 1633.4 L2625.1 1631.8 L2626.4 1632.6 L2627.7 1630.4 L2629.1 1631.2 L2630.5 1632.5 L2631.9 1631.9 L2633.3 1633.9 L2634.7 1633.6 L2636.1 1635.6 L2637.5 1634.4 L2638.9 1636.1 L2640.6 1634.9 L2642.2 1632.4 L2643.9 1631.2 L2645.2 1631.5 L2646.5 1629.8 L2647.8 1630.7 L2649.1 1629.5" fill="none" stroke="#8c1de6" stroke-width="5.4" stroke-linejoin="round" stroke-linecap="butt"/><path d="M2890.2 1690.4 L2891.9 1688.3 L2893.5 1690.5 L2895.2 1688.8 L2896.8 1685.5 L2898.5 1683.8 L2900.1 1686.1 L2901.8 1683.1 L2903.4 1686.3 L2904.7 1687.1 L2906.0 1682.8 L2907.3 1684.9 L2908.7 1681.2 L2910.0 1681.4 L2911.3 1684.1 L2912.6 1681.3 L2913.9 1684.7 L2915.3 1682.5 L2916.6 1685.5 L2918.2 1686.1 L2919.9 1680.8 L2921.5 1681.4 L2923.2 1685.4 L2924.8 1687.1 L2926.1 1683.6 L2927.4 1685.8 L2928.7 1681.9 L2930.1 1683.9 L2931.4 1680.6 L2933.0 1692.1 L2934.7 1689.1 L2936.3 1686.0 L2938.0 1683.0 L2939.3 1685.5 L2940.6 1688.0 L2941.9 1690.4 L2943.2 1692.9 L2944.6 1695.4 L2945.9 1692.7 L2947.2 1690.1 L2948.5 1687.5 L2949.8 1684.8 L2951.1 1682.2 L2952.5 1681.7 L2953.8 1685.8 L2955.1 1683.4 L2956.4 1686.0 L2957.7 1685.5 L2959.0 1683.2 L2960.4 1685.8 L2961.7 1682.6 L2963.0 1684.3 L2964.3 1683.0 L2966.0 1688.8 L2967.6 1694.5 L2968.9 1692.1 L2970.2 1689.6 L2971.5 1687.1 L2972.9 1684.7 L2974.2 1682.2 L2975.8 1688.4 L2977.5 1694.5 L2979.1 1690.0 L2980.8 1685.5 L2982.1 1685.4 L2983.4 1692.2 L2984.7 1690.2 L2986.0 1695.7 L2987.3 1697.0 L2988.8 1693.2 L2990.2 1694.3 L2991.6 1689.8 L2993.0 1689.6 L2994.4 1684.8 L2995.8 1685.1 L2997.2 1682.2 L2998.5 1683.0 L2999.9 1687.4 L3001.2 1685.2 L3002.5 1691.0 L3003.8 1690.4 L3005.5 1685.8 L3007.1 1685.5 L3008.7 1690.4 L3010.4 1695.4 L3012.0 1700.3 L3013.4 1697.5 L3014.7 1694.7 L3016.0 1691.9 L3017.3 1689.1 L3018.6 1686.3 L3020.3 1689.3 L3021.9 1690.4 L3023.2 1687.5 L3024.6 1689.1 L3025.9 1683.3 L3027.2 1684.7 L3028.5 1681.4 L3030.1 1684.4 L3031.8 1687.4 L3033.4 1690.4 L3035.1 1686.9 L3036.7 1687.1 L3038.2 1691.7 L3039.6 1689.7 L3041.1 1696.3 L3042.5 1697.0 L3044.0 1693.7 L3045.5 1694.8 L3046.9 1690.6 L3048.4 1692.3 L3049.9 1689.6 L3051.5 1693.7 L3053.2 1697.8 L3054.6 1695.5 L3055.9 1696.5 L3057.3 1692.0 L3058.7 1693.6 L3060.1 1689.4 L3061.4 1688.8 L3063.1 1692.9 L3064.7 1697.0 L3066.1 1697.0 L3067.5 1692.4 L3068.8 1693.2 L3070.2 1689.7 L3071.6 1691.1 L3072.9 1688.0 L3074.4 1687.4 L3075.8 1690.5 L3077.2 1687.6 L3078.6 1690.7 L3080.0 1689.3 L3081.4 1692.4 L3082.8 1691.3 L3084.2 1690.4 L3085.6 1694.3 L3086.9 1691.8 L3088.3 1694.2 L3089.7 1692.3 L3091.1 1694.5 L3092.7 1693.4 L3094.3 1688.7 L3096.0 1688.8 L3097.3 1690.5 L3098.6 1688.9 L3099.9 1692.7 L3101.3 1691.1 L3102.6 1692.9 L3104.1 1693.4 L3105.5 1692.1 L3106.2 1633.6 L3107.7 1656.7 L3109.2 1679.7 L3110.5 1678.3 L3111.8 1679.9 L3113.1 1676.9 L3114.4 1678.8 L3115.7 1677.3 L3117.4 1658.3 L3119.0 1639.4 L3121.5 1697.0 L3123.0 1695.6 L3124.5 1698.3 L3126.0 1694.2 L3127.4 1697.1 L3128.9 1695.4 L3130.3 1693.0 L3131.7 1695.6 L3133.0 1693.0 L3134.4 1694.7 L3135.8 1691.3 L3137.1 1692.9 L3138.6 1695.4 L3140.0 1692.9 L3141.4 1696.6 L3142.8 1693.9 L3144.2 1698.2 L3145.6 1694.9 L3147.0 1697.0 L3148.4 1698.5 L3149.8 1695.5 L3151.1 1697.8 L3152.5 1694.8 L3153.9 1698.0 L3155.3 1695.4 L3156.6 1686.0 L3158.0 1676.7 L3159.4 1667.4 L3160.8 1667.5 L3162.2 1674.6 L3163.7 1673.8 L3165.1 1677.3 L3166.8 1674.0 L3168.4 1670.7 L3170.1 1667.4 L3171.4 1670.0 L3172.7 1668.9 L3174.0 1673.0 L3175.3 1671.9 L3176.7 1675.6 L3178.3 1649.3 L3179.9 1653.1 L3181.6 1652.0 L3183.2 1656.7 L3184.9 1662.0 L3186.5 1667.4 L3187.8 1669.6 L3189.2 1665.5 L3190.5 1669.5 L3191.8 1665.1 L3193.1 1667.4 L3194.5 1669.3 L3195.9 1665.3 L3197.3 1669.0 L3198.8 1666.1 L3200.2 1669.5 L3201.6 1665.0 L3203.0 1667.4 L3204.4 1670.7 L3205.7 1668.4 L3207.1 1672.9 L3208.5 1672.0 L3209.8 1676.4 L3211.2 1676.4 L3212.6 1673.3 L3214.0 1675.1 L3215.5 1671.8 L3216.9 1672.5 L3218.3 1669.1 L3219.7 1670.3 L3221.1 1667.4 L3222.4 1668.0 L3223.7 1674.4 L3225.0 1672.2 L3226.4 1677.6 L3227.7 1678.9 L3229.1 1675.8 L3230.4 1678.7 L3231.8 1674.1 L3233.2 1676.4 L3234.5 1671.5 L3235.9 1671.5 L3237.2 1675.7 L3238.5 1673.2 L3239.9 1679.5 L3241.2 1678.4 L3242.5 1681.4 L3243.9 1674.8 L3245.2 1668.2 L3246.6 1661.6 L3248.0 1668.2 L3249.4 1674.8 L3250.7 1681.4 L3252.0 1681.5 L3253.4 1677.0 L3254.7 1678.3 L3256.0 1674.7 L3257.3 1674.0 L3259.0 1678.9 L3260.6 1683.8 L3262.2 1684.8 L3263.9 1680.4 L3265.5 1682.2 L3267.2 1631.2 L3268.6 1628.4 L3269.9 1625.7 L3271.3 1622.9 L3273.8 1687.1 L3275.1 1684.3 L3276.4 1681.5 L3277.7 1678.7 L3279.0 1675.9 L3280.4 1673.1 L3282.0 1676.7 L3283.6 1680.3 L3285.3 1683.8 L3286.6 1680.6 L3287.9 1677.3 L3289.2 1674.0 L3290.6 1670.7 L3291.9 1667.4 L3293.5 1670.7 L3295.2 1674.0 L3297.1 1697.0 L3297.1 1709 L2890.2 1709 Z" fill="url(#gf14)"/><path d="M2890.2 1690.4 L2891.9 1688.3 L2893.5 1690.5 L2895.2 1688.8 L2896.8 1685.5 L2898.5 1683.8 L2900.1 1686.1 L2901.8 1683.1 L2903.4 1686.3 L2904.7 1687.1 L2906.0 1682.8 L2907.3 1684.9 L2908.7 1681.2 L2910.0 1681.4 L2911.3 1684.1 L2912.6 1681.3 L2913.9 1684.7 L2915.3 1682.5 L2916.6 1685.5 L2918.2 1686.1 L2919.9 1680.8 L2921.5 1681.4 L2923.2 1685.4 L2924.8 1687.1 L2926.1 1683.6 L2927.4 1685.8 L2928.7 1681.9 L2930.1 1683.9 L2931.4 1680.6 L2933.0 1692.1 L2934.7 1689.1 L2936.3 1686.0 L2938.0 1683.0 L2939.3 1685.5 L2940.6 1688.0 L2941.9 1690.4 L2943.2 1692.9 L2944.6 1695.4 L2945.9 1692.7 L2947.2 1690.1 L2948.5 1687.5 L2949.8 1684.8 L2951.1 1682.2 L2952.5 1681.7 L2953.8 1685.8 L2955.1 1683.4 L2956.4 1686.0 L2957.7 1685.5 L2959.0 1683.2 L2960.4 1685.8 L2961.7 1682.6 L2963.0 1684.3 L2964.3 1683.0 L2966.0 1688.8 L2967.6 1694.5 L2968.9 1692.1 L2970.2 1689.6 L2971.5 1687.1 L2972.9 1684.7 L2974.2 1682.2 L2975.8 1688.4 L2977.5 1694.5 L2979.1 1690.0 L2980.8 1685.5 L2982.1 1685.4 L2983.4 1692.2 L2984.7 1690.2 L2986.0 1695.7 L2987.3 1697.0 L2988.8 1693.2 L2990.2 1694.3 L2991.6 1689.8 L2993.0 1689.6 L2994.4 1684.8 L2995.8 1685.1 L2997.2 1682.2 L2998.5 1683.0 L2999.9 1687.4 L3001.2 1685.2 L3002.5 1691.0 L3003.8 1690.4 L3005.5 1685.8 L3007.1 1685.5 L3008.7 1690.4 L3010.4 1695.4 L3012.0 1700.3 L3013.4 1697.5 L3014.7 1694.7 L3016.0 1691.9 L3017.3 1689.1 L3018.6 1686.3 L3020.3 1689.3 L3021.9 1690.4 L3023.2 1687.5 L3024.6 1689.1 L3025.9 1683.3 L3027.2 1684.7 L3028.5 1681.4 L3030.1 1684.4 L3031.8 1687.4 L3033.4 1690.4 L3035.1 1686.9 L3036.7 1687.1 L3038.2 1691.7 L3039.6 1689.7 L3041.1 1696.3 L3042.5 1697.0 L3044.0 1693.7 L3045.5 1694.8 L3046.9 1690.6 L3048.4 1692.3 L3049.9 1689.6 L3051.5 1693.7 L3053.2 1697.8 L3054.6 1695.5 L3055.9 1696.5 L3057.3 1692.0 L3058.7 1693.6 L3060.1 1689.4 L3061.4 1688.8 L3063.1 1692.9 L3064.7 1697.0 L3066.1 1697.0 L3067.5 1692.4 L3068.8 1693.2 L3070.2 1689.7 L3071.6 1691.1 L3072.9 1688.0 L3074.4 1687.4 L3075.8 1690.5 L3077.2 1687.6 L3078.6 1690.7 L3080.0 1689.3 L3081.4 1692.4 L3082.8 1691.3 L3084.2 1690.4 L3085.6 1694.3 L3086.9 1691.8 L3088.3 1694.2 L3089.7 1692.3 L3091.1 1694.5 L3092.7 1693.4 L3094.3 1688.7 L3096.0 1688.8 L3097.3 1690.5 L3098.6 1688.9 L3099.9 1692.7 L3101.3 1691.1 L3102.6 1692.9 L3104.1 1693.4 L3105.5 1692.1 L3106.2 1633.6 L3107.7 1656.7 L3109.2 1679.7 L3110.5 1678.3 L3111.8 1679.9 L3113.1 1676.9 L3114.4 1678.8 L3115.7 1677.3 L3117.4 1658.3 L3119.0 1639.4 L3121.5 1697.0 L3123.0 1695.6 L3124.5 1698.3 L3126.0 1694.2 L3127.4 1697.1 L3128.9 1695.4 L3130.3 1693.0 L3131.7 1695.6 L3133.0 1693.0 L3134.4 1694.7 L3135.8 1691.3 L3137.1 1692.9 L3138.6 1695.4 L3140.0 1692.9 L3141.4 1696.6 L3142.8 1693.9 L3144.2 1698.2 L3145.6 1694.9 L3147.0 1697.0 L3148.4 1698.5 L3149.8 1695.5 L3151.1 1697.8 L3152.5 1694.8 L3153.9 1698.0 L3155.3 1695.4 L3156.6 1686.0 L3158.0 1676.7 L3159.4 1667.4 L3160.8 1667.5 L3162.2 1674.6 L3163.7 1673.8 L3165.1 1677.3 L3166.8 1674.0 L3168.4 1670.7 L3170.1 1667.4 L3171.4 1670.0 L3172.7 1668.9 L3174.0 1673.0 L3175.3 1671.9 L3176.7 1675.6 L3178.3 1649.3 L3179.9 1653.1 L3181.6 1652.0 L3183.2 1656.7 L3184.9 1662.0 L3186.5 1667.4 L3187.8 1669.6 L3189.2 1665.5 L3190.5 1669.5 L3191.8 1665.1 L3193.1 1667.4 L3194.5 1669.3 L3195.9 1665.3 L3197.3 1669.0 L3198.8 1666.1 L3200.2 1669.5 L3201.6 1665.0 L3203.0 1667.4 L3204.4 1670.7 L3205.7 1668.4 L3207.1 1672.9 L3208.5 1672.0 L3209.8 1676.4 L3211.2 1676.4 L3212.6 1673.3 L3214.0 1675.1 L3215.5 1671.8 L3216.9 1672.5 L3218.3 1669.1 L3219.7 1670.3 L3221.1 1667.4 L3222.4 1668.0 L3223.7 1674.4 L3225.0 1672.2 L3226.4 1677.6 L3227.7 1678.9 L3229.1 1675.8 L3230.4 1678.7 L3231.8 1674.1 L3233.2 1676.4 L3234.5 1671.5 L3235.9 1671.5 L3237.2 1675.7 L3238.5 1673.2 L3239.9 1679.5 L3241.2 1678.4 L3242.5 1681.4 L3243.9 1674.8 L3245.2 1668.2 L3246.6 1661.6 L3248.0 1668.2 L3249.4 1674.8 L3250.7 1681.4 L3252.0 1681.5 L3253.4 1677.0 L3254.7 1678.3 L3256.0 1674.7 L3257.3 1674.0 L3259.0 1678.9 L3260.6 1683.8 L3262.2 1684.8 L3263.9 1680.4 L3265.5 1682.2 L3267.2 1631.2 L3268.6 1628.4 L3269.9 1625.7 L3271.3 1622.9 L3273.8 1687.1 L3275.1 1684.3 L3276.4 1681.5 L3277.7 1678.7 L3279.0 1675.9 L3280.4 1673.1 L3282.0 1676.7 L3283.6 1680.3 L3285.3 1683.8 L3286.6 1680.6 L3287.9 1677.3 L3289.2 1674.0 L3290.6 1670.7 L3291.9 1667.4 L3293.5 1670.7 L3295.2 1674.0" fill="none" stroke="#8c1de6" stroke-width="5.4" stroke-linejoin="round" stroke-linecap="round"/><path d="M3295.2 1674.0 L3297.1 1697.0" fill="none" stroke="#8c1de6" stroke-width="3.6" stroke-linecap="butt"/></svg>
<div class="card" style="left:201px;top:1813px"></div>
<div class="card" style="left:849px;top:1813px"></div>
<div class="card" style="left:1497px;top:1813px"></div>
<div class="card" style="left:2145px;top:1813px"></div>
<div class="card" style="left:2793px;top:1813px"></div>
<div class="abs" style="left:154px;top:1768px;width:3288px;height:74px;background:linear-gradient(to bottom, rgba(190,194,200,0) 0%, rgba(190,194,200,0.18) 50%, rgba(185,189,196,0.45) 100%)"></div>
<div class="abs" style="left:0px;top:1760px;width:154px;height:82px;background:linear-gradient(to bottom, rgba(60,40,140,0) 0%, rgba(60,40,140,0.12) 100%)"></div>
<div class="abs" style="left:3290px;top:1690px;width:120px;height:120px;border-radius:60px;background:#5a63cc;box-shadow:0 2px 10px rgba(0,0,0,0.18)"></div>
<svg class="abs" style="left:3290px;top:1690px" width="120" height="120" viewBox="3290 1690 120 120"><path d="M3331 1721.3 C3345 1720 3362 1719.8 3373 1720.6 C3378.5 1721 3381 1724 3381 1730 C3381 1740 3380 1750 3378.5 1758.5 L3375.8 1760 C3375.5 1748 3375 1738 3373.5 1732 C3372.5 1727.5 3370 1725.5 3365 1725.2 C3354 1724.6 3342 1724.6 3330.5 1725.2 Z" fill="#fff"/><path d="M3329 1729 C3342 1728 3356 1728 3364 1729 C3369 1729.5 3371.5 1732.5 3371.8 1738 C3372.2 1745 3372.2 1752 3371.8 1759 C3371.5 1765 3369 1768.5 3363 1769 L3352.5 1769 L3345.8 1778.7 L3339.5 1769 L3328.5 1769 C3323 1768.5 3320.5 1765.5 3320.3 1760 C3320 1752 3320 1745 3320.3 1738 C3320.6 1732 3323 1729.5 3329 1729 Z" fill="#fff"/></svg>
<div class="abs" style="left:0;top:0;width:1px;height:1842px;background:#6d6ae8"></div>
<svg class="abs" style="left:0;top:1824px" width="18" height="18"><path d="M0 0 L0 18 L18 18 C7 18 0 11 0 0 Z" fill="#8a909a"/></svg>
<svg class="abs" style="left:3436px;top:1822px" width="20" height="20"><path d="M20 0 L20 20 L0 20 C12 20 20 12 20 0 Z" fill="#7a7048"/></svg>
</body></html>
